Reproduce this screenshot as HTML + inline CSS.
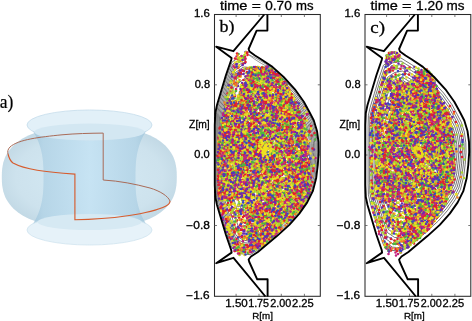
<!DOCTYPE html>
<html><head><meta charset="utf-8"><style>
html,body{margin:0;padding:0;background:#fff;width:472px;height:321px;overflow:hidden}
svg{display:block}
</style></head><body>
<svg width="472" height="321" viewBox="0 0 472 321">
<defs>
<filter id="bl" x="-5%" y="-5%" width="110%" height="110%"><feGaussianBlur stdDeviation="1.2"/></filter><filter id="tb" x="-10%" y="-10%" width="120%" height="120%"><feGaussianBlur stdDeviation="0.35"/></filter><filter id="lb" x="-5%" y="-5%" width="110%" height="110%"><feGaussianBlur stdDeviation="0.4"/></filter><filter id="pb" x="-5%" y="-5%" width="110%" height="110%"><feGaussianBlur stdDeviation="0.45"/></filter>
<radialGradient id="gb" cx="0.5" cy="0.5" r="0.6">
 <stop offset="0" stop-color="#d6ebf5"/><stop offset="0.7" stop-color="#cde2ed"/><stop offset="1" stop-color="#bcd4e1"/>
</radialGradient>
<linearGradient id="gc" x1="0" y1="0" x2="1" y2="0">
 <stop offset="0" stop-color="#9cc2d8"/><stop offset="0.12" stop-color="#b2d3e6"/><stop offset="0.5" stop-color="#c4e2f3"/><stop offset="0.88" stop-color="#b2d3e6"/><stop offset="1" stop-color="#9cc2d8"/>
</linearGradient>
</defs><g filter="url(#pb)"><path d="M176.8,177.0L176.7,181.8L176.4,185.4L175.9,188.6L175.3,191.5L174.4,194.3L173.4,196.9L172.1,199.4L170.7,201.8L169.1,204.1L167.3,206.3L165.3,208.4L163.2,210.3L160.8,212.2L158.3,214.0L155.6,215.7L152.7,217.2L149.7,218.7L146.5,220.0L143.1,221.3L139.6,222.5L135.8,223.5L131.9,224.4L127.8,225.3L123.5,226.0L119.0,226.6L114.2,227.1L109.1,227.5L103.7,227.8L97.6,227.9L89.3,228.0L81.0,227.9L74.9,227.8L69.5,227.5L64.4,227.1L59.6,226.6L55.1,226.0L50.8,225.3L46.7,224.4L42.8,223.5L39.0,222.5L35.5,221.3L32.1,220.0L28.9,218.7L25.9,217.2L23.0,215.7L20.3,214.0L17.8,212.2L15.4,210.3L13.3,208.4L11.3,206.3L9.5,204.1L7.9,201.8L6.5,199.4L5.2,196.9L4.2,194.3L3.3,191.5L2.7,188.6L2.2,185.4L1.9,181.8L1.8,177.0L1.9,172.2L2.2,168.6L2.7,165.4L3.3,162.5L4.2,159.7L5.2,157.1L6.5,154.6L7.9,152.2L9.5,149.9L11.3,147.7L13.3,145.6L15.4,143.7L17.8,141.8L20.3,140.0L23.0,138.3L25.9,136.8L28.9,135.3L32.1,134.0L35.5,132.7L39.0,131.5L42.8,130.5L46.7,129.6L50.8,128.7L55.1,128.0L59.6,127.4L64.4,126.9L69.5,126.5L74.9,126.2L81.0,126.1L89.3,126.0L97.6,126.1L103.7,126.2L109.1,126.5L114.2,126.9L119.0,127.4L123.5,128.0L127.8,128.7L131.9,129.6L135.8,130.5L139.6,131.5L143.1,132.7L146.5,134.0L149.7,135.3L152.7,136.8L155.6,138.3L158.3,140.0L160.8,141.8L163.2,143.7L165.3,145.6L167.3,147.7L169.1,149.9L170.7,152.2L172.1,154.6L173.4,157.1L174.4,159.7L175.3,162.5L175.9,165.4L176.4,168.6L176.7,172.2Z" fill="url(#gb)"/><path d="M28.5,125.0L29.9,126.8L31.1,128.5L32.3,130.2L33.5,132.0L34.5,133.8L35.5,135.5L36.4,137.2L37.2,139.0L38.0,140.8L38.7,142.5L39.3,144.2L39.9,146.0L40.4,147.8L40.9,149.5L41.3,151.2L41.7,153.0L42.1,154.8L42.3,156.5L42.6,158.2L42.8,160.0L43.0,161.8L43.1,163.5L43.2,165.2L43.3,167.0L43.4,168.8L43.4,170.5L43.5,172.2L43.5,174.0L43.5,175.8L43.5,177.5L43.5,179.2L43.5,181.0L43.5,182.8L43.4,184.5L43.4,186.2L43.3,188.0L43.2,189.8L43.1,191.5L43.0,193.2L42.8,195.0L42.6,196.8L42.3,198.5L42.1,200.2L41.7,202.0L41.3,203.8L40.9,205.5L40.4,207.2L39.9,209.0L39.3,210.8L38.7,212.5L38.0,214.2L37.2,216.0L36.4,217.8L35.5,219.5L34.5,221.2L33.5,223.0L32.3,224.8L31.1,226.5L29.9,228.2L28.5,230.0L150.5,230.0L149.1,228.2L147.9,226.5L146.7,224.8L145.5,223.0L144.5,221.2L143.5,219.5L142.6,217.8L141.8,216.0L141.0,214.2L140.3,212.5L139.7,210.8L139.1,209.0L138.6,207.2L138.1,205.5L137.7,203.8L137.3,202.0L136.9,200.2L136.7,198.5L136.4,196.8L136.2,195.0L136.0,193.2L135.9,191.5L135.8,189.8L135.7,188.0L135.6,186.2L135.6,184.5L135.5,182.8L135.5,181.0L135.5,179.2L135.5,177.5L135.5,175.8L135.5,174.0L135.5,172.2L135.6,170.5L135.6,168.8L135.7,167.0L135.8,165.2L135.9,163.5L136.0,161.8L136.2,160.0L136.4,158.2L136.7,156.5L136.9,154.8L137.3,153.0L137.7,151.2L138.1,149.5L138.6,147.8L139.1,146.0L139.7,144.2L140.3,142.5L141.0,140.8L141.8,139.0L142.6,137.2L143.5,135.5L144.5,133.8L145.5,132.0L146.7,130.2L147.9,128.5L149.1,126.8L150.5,125.0Z" fill="url(#gc)" opacity="0.85"/><ellipse cx="89.5" cy="125" rx="62.5" ry="15" fill="#e2f0f8" stroke="#c4dceb" stroke-width="0.8"/><ellipse cx="89.5" cy="132" rx="55" ry="8.5" fill="#d3e7f2"/><ellipse cx="89.5" cy="230" rx="62.5" ry="15" fill="#e6f2f9" stroke="#cfe3ef" stroke-width="0.8"/><ellipse cx="89.5" cy="222" rx="52" ry="8" fill="#d6e9f3"/><path d="M170,201 C168,196 160,191 150,188 C135,184 120,181 103.2,180 L103.2,133.1 C90,133.2 75,133.6 62,134.8 C40,137 18,139.5 10,147 C7.5,149.5 7.5,152 8,154" fill="none" stroke="#a96b58" stroke-width="1.0"/><path d="M8,154 C9,158 10,161 13,163 C25,169.5 45,172 74.9,174.1 L74.9,219.7 C110,219.5 150,214 166,206 C169,204.5 170,203 170,201" fill="none" stroke="#d65c2e" stroke-width="1.15"/></g><g filter="url(#tb)" stroke="#000" stroke-width="0.2"><text transform="translate(-0.30,107.50) scale(0.948,1)" font-family="Liberation Serif" font-size="18.5">a)</text></g><mask id="mkB"><rect x="0" y="0" width="472" height="321" fill="#fff"/><polygon points="247.0,49.0 258.0,55.0 272.0,64.0 284.0,76.0 276.0,72.0 268.0,66.5 259.0,66.0 250.0,67.5 244.0,66.0 244.0,55.0" fill="#000"/></mask><path d="M255.1,98.3L258.1,100.3L261.4,102.3L267.7,106.5L273.9,112.1L280.1,118.9L285.0,125.7L288.1,131.3L290.5,136.0L292.2,141.8L293.1,147.8L293.2,153.3L292.7,160.5L291.8,167.7L289.9,174.9L286.9,181.1L282.5,187.2L277.0,193.4L270.2,199.6L262.8,205.8L259.7,208.3L255.4,211.1L249.9,210.6L245.1,207.2L242.2,199.0L239.7,190.8L237.2,182.5L236.3,178.1L236.2,171.5L236.2,138.5L236.3,131.9L237.2,127.5L239.7,119.2L242.2,111.0L245.1,102.8L249.9,99.4ZM254.2,91.1L257.7,93.3L261.4,95.6L268.4,100.4L275.4,106.6L282.4,114.3L287.9,122.0L291.4,128.3L294.1,133.6L296.1,140.1L297.0,146.9L297.2,153.1L296.6,161.2L295.6,169.3L293.5,177.4L290.0,184.4L285.1,191.3L278.9,198.3L271.2,205.3L262.9,212.2L259.5,215.1L254.6,218.2L248.4,217.6L242.9,213.9L239.7,204.6L236.9,195.3L234.1,186.0L233.0,181.0L232.9,173.6L232.9,136.4L233.0,129.0L234.1,124.0L236.9,114.7L239.7,105.4L242.9,96.1L248.4,92.4ZM253.4,83.9L257.2,86.3L261.3,88.9L269.2,94.2L276.9,101.2L284.7,109.7L290.8,118.2L294.7,125.3L297.7,131.2L299.9,138.4L301.0,146.0L301.1,152.9L300.5,161.9L299.4,170.9L297.1,180.0L293.2,187.7L287.7,195.4L280.8,203.2L272.3,211.0L263.0,218.7L259.2,221.9L253.7,225.4L246.8,224.7L240.7,220.6L237.2,210.2L234.1,199.8L230.9,189.5L229.8,184.0L229.6,175.7L229.6,134.3L229.8,126.0L230.9,120.5L234.1,110.2L237.2,99.8L240.7,89.5L246.8,85.3ZM252.5,76.7L256.7,79.4L261.2,82.2L269.9,88.0L278.4,95.7L287.0,105.1L293.8,114.5L298.0,122.3L301.4,128.8L303.8,136.8L304.9,145.1L305.1,152.7L304.4,162.6L303.2,172.5L300.6,182.5L296.4,191.0L290.3,199.5L282.7,208.1L273.3,216.6L263.1,225.1L258.9,228.7L252.9,232.5L245.3,231.8L238.6,227.2L234.6,215.8L231.2,204.4L227.8,193.0L226.5,186.9L226.3,177.8L226.3,132.2L226.5,123.1L227.8,117.0L231.2,105.6L234.6,94.2L238.6,82.8L245.3,78.2ZM251.9,71.6L256.3,74.4L261.2,77.4L270.4,83.6L279.5,91.8L288.6,101.8L295.9,111.8L300.4,120.2L304.0,127.1L306.6,135.6L307.8,144.5L307.9,152.6L307.2,163.1L305.9,173.6L303.1,184.3L298.6,193.4L292.2,202.5L284.1,211.6L274.1,220.7L263.2,229.8L258.7,233.6L252.3,237.6L244.2,236.8L237.1,231.9L232.8,219.8L229.2,207.7L225.6,195.5L224.2,189.0L223.9,179.3L223.9,130.7L224.2,121.0L225.6,114.5L229.2,102.3L232.8,90.2L237.1,78.0L244.2,73.2ZM251.4,68.0L256.1,70.9L261.2,74.0L270.8,80.6L280.3,89.1L289.8,99.5L297.3,110.0L302.1,118.7L305.8,125.8L308.5,134.7L309.7,144.0L309.9,152.5L309.2,163.4L307.8,174.4L304.9,185.6L300.2,195.1L293.5,204.5L285.1,214.1L274.6,223.5L263.3,233.0L258.5,237.0L251.9,241.2L243.4,240.3L236.0,235.3L231.6,222.6L227.8,209.9L224.0,197.2L222.5,190.5L222.3,180.3L222.3,129.7L222.5,119.5L224.0,112.8L227.8,100.1L231.6,87.4L236.0,74.7L243.4,69.7ZM251.2,65.7L255.9,68.7L261.1,71.9L271.0,78.6L280.7,87.4L290.5,98.0L298.2,108.8L303.1,117.7L306.9,125.1L309.7,134.2L311.0,143.7L311.2,152.4L310.4,163.7L309.0,174.9L306.0,186.4L301.2,196.1L294.3,205.8L285.7,215.6L274.9,225.3L263.3,235.0L258.4,239.1L251.6,243.4L242.9,242.6L235.3,237.4L230.8,224.4L226.9,211.4L223.0,198.3L221.5,191.4L221.3,181.0L221.3,129.0L221.5,118.6L223.0,111.7L226.9,98.6L230.8,85.6L235.3,72.6L242.9,67.4ZM250.9,63.4L255.8,66.5L261.1,69.8L271.2,76.7L281.2,85.7L291.2,96.6L299.2,107.6L304.1,116.8L308.1,124.3L310.9,133.7L312.2,143.4L312.4,152.3L311.6,163.9L310.2,175.4L307.2,187.2L302.2,197.1L295.2,207.1L286.3,217.1L275.2,227.1L263.3,237.1L258.4,241.2L251.3,245.7L242.4,244.8L234.6,239.5L230.0,226.1L226.0,212.8L222.0,199.4L220.5,192.3L220.2,181.7L220.2,128.3L220.5,117.7L222.0,110.5L226.0,97.2L230.0,83.9L234.6,70.5L242.4,65.2ZM250.6,61.2L255.6,64.4L261.1,67.7L271.5,74.7L281.7,83.9L292.0,95.1L300.1,106.4L305.2,115.8L309.2,123.6L312.1,133.1L313.5,143.2L313.7,152.3L312.8,164.1L311.4,176.0L308.3,188.0L303.2,198.2L296.0,208.4L286.9,218.7L275.6,228.9L263.4,239.1L258.3,243.4L251.1,247.9L242.0,247.0L233.9,241.5L229.2,227.9L225.1,214.2L221.0,200.6L219.5,193.3L219.2,182.3L219.2,127.7L219.5,116.7L221.0,109.4L225.1,95.8L229.2,82.1L233.9,68.5L242.0,63.0ZM250.3,58.9L255.5,62.2L261.1,65.6L271.7,72.8L282.2,82.2L292.7,93.7L301.0,105.3L306.2,114.9L310.3,122.8L313.3,132.6L314.7,142.9L314.9,152.2L314.1,164.3L312.6,176.5L309.4,188.8L304.2,199.2L296.8,209.7L287.5,220.2L275.9,230.7L263.4,241.1L258.2,245.5L250.8,250.2L241.5,249.2L233.3,243.6L228.4,229.6L224.2,215.6L220.0,201.7L218.4,194.2L218.1,183.0L218.1,127.0L218.4,115.8L220.0,108.3L224.2,94.4L228.4,80.4L233.3,66.4L241.5,60.8ZM250.1,56.6L255.3,60.0L261.0,63.5L271.9,70.9L282.6,80.5L293.4,92.3L301.9,104.1L307.3,113.9L311.5,122.1L314.5,132.1L316.0,142.6L316.1,152.1L315.3,164.6L313.8,177.0L310.5,189.6L305.2,200.3L297.6,211.0L288.1,221.8L276.2,232.5L263.4,243.1L258.1,247.6L250.5,252.4L241.0,251.5L232.6,245.7L227.6,231.4L223.3,217.1L219.0,202.8L217.4,195.1L217.1,183.7L217.1,126.3L217.4,114.9L219.0,107.2L223.3,92.9L227.6,78.6L232.6,64.3L241.0,58.5ZM249.8,54.4L255.2,57.8L261.0,61.4L272.2,68.9L283.1,78.8L294.1,90.8L302.8,102.9L308.3,113.0L312.6,121.3L315.7,131.6L317.2,142.3L317.4,152.1L316.5,164.8L315.0,177.5L311.6,190.4L306.2,201.3L298.4,212.3L288.7,223.3L276.6,234.2L263.5,245.2L258.0,249.8L250.3,254.7L240.5,253.7L231.9,247.8L226.8,233.2L222.4,218.5L218.0,203.8L216.4,196.0L216.1,184.3L216.1,125.7L216.4,114.0L218.0,106.2L222.4,91.5L226.8,76.8L231.9,62.2L240.5,56.3Z" fill="none" stroke="#1a1a1a" stroke-width="0.6" mask="url(#mkB)"/><path d="M248.5,54.5 C256,58 266,63.5 280,74 M248.5,54.5 C255,60 262,64 272,69" fill="none" stroke="#333" stroke-width="0.5"/><g fill="none" stroke-width="5.2" stroke-linecap="round" transform="scale(0.5)" filter="url(#bl)"><path d="M479 123h0M470 135h0M476 136h0M517 142h0M549 145h0M522 147h0M503 147h0M510 149h0M500 152h0M516 155h0M549 155h0M514 158h0M516 157h0M507 159h0M539 162h0M534 164h0M560 168h0M505 170h0M559 170h0M550 173h0M575 175h0M506 179h0M516 181h0M567 183h0M495 186h0M532 186h0M455 187h0M559 191h0M572 191h0M550 193h0M548 196h0M567 196h0M571 196h0M564 199h0M457 199h0M533 201h0M583 200h0M464 204h0M478 204h0M575 204h0M588 204h0M551 205h0M518 207h0M528 209h0M536 209h0M562 208h0M488 210h0M515 210h0M467 212h0M500 211h0M477 213h0M451 216h0M453 216h0M494 217h0M541 215h0M542 216h0M505 219h0M524 219h0M565 221h0M567 220h0M595 222h0M481 224h0M500 225h0M535 224h0M483 227h0M518 227h0M471 228h0M484 228h0M556 228h0M516 230h0M570 230h0M590 229h0M468 233h0M598 234h0M480 236h0M554 235h0M475 239h0M567 238h0M577 238h0M444 239h0M457 240h0M456 243h0M509 243h0M571 243h0M580 243h0M555 247h0M571 247h0M585 246h0M489 247h0M492 247h0M532 248h0M559 248h0M591 248h0M537 252h0M482 255h0M536 254h0M569 253h0M596 254h0M602 256h0M607 256h0M525 257h0M592 257h0M605 258h0M460 260h0M485 260h0M455 265h0M462 264h0M480 265h0M590 264h0M548 265h0M575 267h0M465 268h0M470 268h0M485 268h0M501 269h0M542 269h0M592 270h0M604 270h0M493 273h0M457 274h0M502 275h0M508 275h0M539 274h0M544 273h0M603 274h0M611 274h0M448 276h0M452 275h0M484 276h0M502 278h0M455 281h0M613 279h0M517 282h0M552 281h0M506 284h0M559 283h0M570 284h0M574 285h0M598 284h0M467 287h0M471 286h0M511 287h0M543 285h0M553 285h0M561 287h0M590 292h0M487 293h0M612 295h0M603 296h0M436 298h0M483 297h0M576 297h0M463 299h0M579 299h0M496 303h0M436 304h0M504 304h0M531 303h0M609 304h0M612 304h0M542 306h0M440 308h0M476 307h0M445 309h0M461 309h0M543 311h0M456 313h0M573 311h0M486 313h0M536 315h0M540 315h0M454 318h0M481 318h0M502 317h0M533 318h0M540 318h0M542 318h0M544 319h0M580 317h0M616 318h0M466 321h0M493 320h0M593 320h0M600 321h0M473 323h0M522 324h0M550 323h0M571 325h0M617 326h0M508 328h0M557 330h0M492 333h0M528 333h0M575 333h0M602 333h0M616 333h0M584 334h0M616 334h0M530 335h0M584 336h0M478 337h0M546 339h0M551 338h0M503 341h0M576 340h0M596 341h0M494 341h0M604 342h0M451 344h0M466 344h0M507 344h0M615 345h0M470 346h0M588 345h0M607 346h0M609 346h0M444 349h0M532 348h0M516 350h0M476 352h0M476 352h0M541 351h0M589 352h0M560 354h0M522 356h0M540 356h0M485 359h0M560 357h0M564 357h0M535 360h0M536 360h0M542 359h0M504 363h0M610 362h0M482 363h0M625 364h0M477 365h0M574 368h0M452 369h0M465 371h0M468 370h0M456 372h0M457 373h0M554 372h0M560 372h0M599 372h0M556 374h0M451 376h0M461 377h0M613 377h0M576 378h0M496 380h0M506 379h0M532 380h0M602 380h0M442 381h0M492 382h0M508 381h0M446 384h0M450 385h0M556 383h0M598 385h0M602 385h0M537 385h0M580 387h0M456 388h0M539 388h0M577 388h0M449 391h0M497 390h0M615 389h0M441 391h0M474 393h0M489 394h0M554 395h0M597 396h0M607 397h0M577 397h0M595 398h0M598 398h0M441 400h0M543 399h0M549 402h0M579 402h0M522 404h0M580 405h0M520 406h0M491 408h0M495 408h0M527 407h0M454 410h0M596 416h0M597 417h0M561 420h0M595 423h0M477 424h0M468 426h0M486 434h0M544 436h0M526 438h0M566 438h0M553 440h0M514 445h0M524 445h0M513 448h0M509 450h0M510 452h0M533 452h0M544 451h0M489 455h0M507 454h0M513 453h0M526 454h0M458 456h0M562 456h0M482 460h0M459 461h0M548 464h0M507 467h0M465 470h0M522 471h0M525 470h0M537 471h0M547 471h0M521 480h0M512 481h0M531 483h0M507 490h0M500 491h0M516 492h0M495 493h0M511 496h0M487 499h0M490 504h0M503 504h0" stroke="#e0202e"/><path d="M543 138h0M507 158h0M526 159h0M528 158h0M562 158h0M552 165h0M535 168h0M539 176h0M500 179h0M503 179h0M461 182h0M484 182h0M568 183h0M476 194h0M497 194h0M577 195h0M466 196h0M467 202h0M569 202h0M557 205h0M488 207h0M502 208h0M473 211h0M584 209h0M470 213h0M559 212h0M460 217h0M487 215h0M500 216h0M577 217h0M462 218h0M550 218h0M521 220h0M547 221h0M573 220h0M478 222h0M557 221h0M522 223h0M535 225h0M564 226h0M474 232h0M516 232h0M519 233h0M525 234h0M525 238h0M606 240h0M481 244h0M583 247h0M603 246h0M608 245h0M526 251h0M511 254h0M529 253h0M497 275h0M567 275h0M611 278h0M510 280h0M615 282h0M443 287h0M516 286h0M615 289h0M522 291h0M484 295h0M471 298h0M446 300h0M582 299h0M447 303h0M555 304h0M570 305h0M513 305h0M466 312h0M591 312h0M509 314h0M496 316h0M570 316h0M499 323h0M525 321h0M577 321h0M547 324h0M548 325h0M440 325h0M498 328h0M532 333h0M496 334h0M551 335h0M508 336h0M579 337h0M481 341h0M525 342h0M533 341h0M566 342h0M462 345h0M556 348h0M614 349h0M518 350h0M494 352h0M605 357h0M493 359h0M557 362h0M602 362h0M441 365h0M470 363h0M559 365h0M590 365h0M612 367h0M441 368h0M509 368h0M573 369h0M456 369h0M538 372h0M544 373h0M610 372h0M451 373h0M506 375h0M448 375h0M484 377h0M580 378h0M613 380h0M619 382h0M451 384h0M544 383h0M552 383h0M563 384h0M595 384h0M610 390h0M509 394h0M597 394h0M614 396h0M484 397h0M608 402h0M539 405h0M591 405h0M531 406h0M578 407h0M494 410h0M597 411h0M502 416h0M571 429h0M478 433h0M500 436h0M578 438h0M567 442h0M485 445h0M574 444h0M551 449h0M560 448h0M499 450h0M545 450h0M520 454h0M522 453h0M540 454h0M520 456h0M472 461h0M509 466h0M550 469h0M514 483h0M485 488h0M508 488h0M503 490h0M471 495h0" stroke="#f08020"/><path d="M487 113h0M478 131h0M533 134h0M489 137h0M499 135h0M532 135h0M519 139h0M529 137h0M470 140h0M493 146h0M509 147h0M525 147h0M474 151h0M526 150h0M539 150h0M541 149h0M476 153h0M497 152h0M514 156h0M504 157h0M556 157h0M512 161h0M505 163h0M467 165h0M496 167h0M496 168h0M518 169h0M535 167h0M471 170h0M472 171h0M501 170h0M572 170h0M540 172h0M564 172h0M555 177h0M462 178h0M486 178h0M542 179h0M565 179h0M461 179h0M499 181h0M540 183h0M573 186h0M522 187h0M564 188h0M500 191h0M584 190h0M560 192h0M575 191h0M456 194h0M464 195h0M488 194h0M513 193h0M539 194h0M547 193h0M493 196h0M538 196h0M492 198h0M533 198h0M563 198h0M488 200h0M519 199h0M469 202h0M508 203h0M559 204h0M477 209h0M453 211h0M471 212h0M554 212h0M464 215h0M542 215h0M598 215h0M492 215h0M494 221h0M502 222h0M542 222h0M545 222h0M495 226h0M502 227h0M546 226h0M455 228h0M463 227h0M479 230h0M526 230h0M527 230h0M538 231h0M578 232h0M503 234h0M533 234h0M497 235h0M537 237h0M585 236h0M494 238h0M564 237h0M591 239h0M547 241h0M555 239h0M598 240h0M537 244h0M507 249h0M476 253h0M577 252h0M579 252h0M473 254h0M534 254h0M582 255h0M476 255h0M496 256h0M587 256h0M597 256h0M573 259h0M450 262h0M476 262h0M502 262h0M534 262h0M447 264h0M475 263h0M546 264h0M610 265h0M441 266h0M453 267h0M456 266h0M468 265h0M524 267h0M506 269h0M520 270h0M591 269h0M459 272h0M553 271h0M559 273h0M578 272h0M490 273h0M516 274h0M530 275h0M543 273h0M518 277h0M475 279h0M494 280h0M517 281h0M437 283h0M466 285h0M570 286h0M497 289h0M520 290h0M470 292h0M478 292h0M498 291h0M500 293h0M565 293h0M568 293h0M588 293h0M594 292h0M605 291h0M459 293h0M479 294h0M544 293h0M572 295h0M598 294h0M456 297h0M522 301h0M582 300h0M469 303h0M596 305h0M600 303h0M454 306h0M563 307h0M494 307h0M525 309h0M500 311h0M506 311h0M536 311h0M594 310h0M448 311h0M465 312h0M525 312h0M444 316h0M452 315h0M501 316h0M455 319h0M487 318h0M516 319h0M523 318h0M613 318h0M476 322h0M445 324h0M606 323h0M447 326h0M495 326h0M594 327h0M436 329h0M471 329h0M491 328h0M579 330h0M510 333h0M607 332h0M616 333h0M504 335h0M548 334h0M581 335h0M604 334h0M469 339h0M552 338h0M571 339h0M507 341h0M513 341h0M568 342h0M616 342h0M544 344h0M605 345h0M448 347h0M539 345h0M479 348h0M535 347h0M564 348h0M588 349h0M612 348h0M514 349h0M523 350h0M535 350h0M437 353h0M444 352h0M544 353h0M604 353h0M550 356h0M612 356h0M471 361h0M583 361h0M570 366h0M498 369h0M519 368h0M600 368h0M606 372h0M546 375h0M479 376h0M503 379h0M511 378h0M528 379h0M545 378h0M547 378h0M549 378h0M572 381h0M605 381h0M441 382h0M457 382h0M589 383h0M468 383h0M483 386h0M552 386h0M569 387h0M596 388h0M559 390h0M495 391h0M609 393h0M461 397h0M479 397h0M519 396h0M536 395h0M550 395h0M497 399h0M511 399h0M440 399h0M555 400h0M484 401h0M517 403h0M568 404h0M548 406h0M549 406h0M592 406h0M553 408h0M501 411h0M580 410h0M586 409h0M555 416h0M571 416h0M502 419h0M548 419h0M485 422h0M528 422h0M499 423h0M568 425h0M596 424h0M487 426h0M481 427h0M592 427h0M524 429h0M514 431h0M527 433h0M543 432h0M565 432h0M493 434h0M551 435h0M573 439h0M528 442h0M496 444h0M525 445h0M509 447h0M549 446h0M468 451h0M522 453h0M456 457h0M458 459h0M457 461h0M536 463h0M540 462h0M523 471h0M536 474h0M464 476h0M514 476h0M514 475h0M540 477h0M502 478h0M523 477h0M487 493h0M485 506h0M489 510h0" stroke="#eadf22"/><path d="M515 138h0M530 141h0M509 141h0M520 147h0M481 148h0M500 148h0M543 147h0M540 151h0M524 154h0M514 163h0M545 166h0M510 169h0M548 169h0M548 173h0M487 175h0M555 174h0M562 178h0M534 180h0M536 180h0M560 186h0M581 186h0M500 190h0M487 192h0M583 194h0M503 197h0M520 196h0M542 197h0M583 196h0M462 199h0M482 199h0M495 202h0M558 202h0M485 205h0M477 208h0M480 209h0M546 207h0M546 208h0M577 210h0M570 212h0M503 213h0M570 214h0M576 214h0M580 214h0M594 213h0M512 216h0M543 215h0M542 218h0M583 220h0M476 221h0M503 222h0M450 223h0M455 224h0M459 223h0M477 227h0M594 226h0M480 231h0M531 233h0M495 234h0M540 235h0M559 236h0M564 235h0M594 236h0M511 239h0M479 241h0M503 243h0M458 244h0M563 244h0M489 246h0M557 246h0M534 249h0M446 249h0M452 249h0M502 249h0M579 251h0M485 254h0M492 255h0M485 259h0M549 258h0M490 260h0M549 260h0M611 260h0M607 264h0M482 266h0M498 266h0M515 266h0M572 266h0M591 265h0M472 270h0M591 270h0M466 274h0M477 274h0M537 275h0M600 275h0M568 279h0M558 282h0M584 283h0M559 284h0M446 285h0M461 285h0M529 285h0M579 286h0M605 287h0M490 288h0M517 288h0M554 288h0M508 290h0M457 292h0M471 292h0M532 294h0M577 293h0M492 296h0M436 298h0M552 298h0M565 297h0M485 302h0M517 302h0M535 304h0M545 305h0M616 305h0M602 306h0M466 307h0M540 308h0M528 311h0M478 313h0M512 311h0M525 311h0M456 314h0M550 314h0M508 319h0M605 318h0M460 324h0M508 325h0M569 330h0M555 333h0M475 334h0M487 334h0M506 334h0M539 334h0M513 336h0M571 336h0M611 337h0M573 338h0M614 338h0M599 340h0M577 344h0M614 347h0M530 353h0M579 351h0M457 355h0M474 354h0M533 355h0M520 357h0M528 357h0M548 357h0M609 356h0M458 359h0M537 360h0M605 360h0M600 361h0M549 364h0M616 366h0M448 367h0M569 367h0M585 369h0M449 370h0M566 372h0M598 372h0M605 371h0M444 374h0M495 376h0M587 376h0M513 384h0M603 384h0M456 387h0M482 386h0M553 387h0M554 386h0M562 387h0M589 386h0M605 386h0M506 389h0M522 387h0M610 388h0M461 390h0M597 393h0M443 396h0M452 396h0M539 397h0M541 401h0M591 402h0M478 404h0M568 403h0M536 407h0M574 409h0M553 409h0M532 414h0M537 416h0M598 417h0M530 418h0M563 418h0M497 420h0M544 421h0M573 422h0M492 424h0M526 424h0M557 426h0M589 426h0M469 428h0M469 432h0M521 432h0M540 432h0M512 433h0M528 435h0M478 435h0M455 439h0M516 438h0M528 439h0M528 440h0M547 439h0M499 443h0M467 457h0M476 459h0M514 460h0M505 461h0M535 461h0M551 462h0M504 464h0M534 466h0M541 466h0M536 467h0M477 475h0M514 486h0M483 489h0M501 490h0M467 492h0M470 498h0M506 498h0M504 499h0M474 502h0" stroke="#a8d432"/><path d="M517 139h0M509 141h0M549 164h0M572 173h0M531 181h0M480 184h0M540 183h0M479 189h0M569 195h0M539 202h0M571 205h0M464 208h0M520 210h0M468 211h0M559 212h0M567 212h0M449 222h0M575 222h0M594 222h0M591 223h0M470 226h0M542 225h0M488 229h0M528 228h0M562 233h0M576 233h0M464 238h0M545 237h0M586 238h0M597 240h0M587 243h0M565 245h0M605 246h0M501 256h0M593 259h0M545 268h0M631 270h0M536 271h0M595 273h0M539 275h0M603 276h0M459 279h0M476 278h0M544 279h0M475 285h0M613 284h0M535 298h0M478 306h0M492 305h0M483 309h0M483 315h0M544 315h0M450 317h0M440 319h0M530 321h0M525 325h0M512 328h0M570 328h0M506 331h0M554 330h0M545 331h0M568 331h0M467 333h0M516 334h0M579 337h0M506 340h0M475 344h0M581 346h0M509 348h0M542 348h0M604 348h0M596 351h0M605 351h0M473 353h0M548 353h0M592 354h0M494 357h0M472 366h0M600 368h0M453 370h0M609 374h0M609 377h0M461 380h0M520 380h0M594 381h0M470 381h0M542 383h0M444 384h0M585 383h0M453 385h0M478 390h0M579 391h0M520 396h0M529 396h0M485 399h0M602 398h0M571 400h0M537 403h0M592 404h0M583 405h0M544 413h0M467 416h0M492 430h0M530 433h0M496 434h0M545 441h0M572 442h0M512 447h0M529 445h0M500 449h0M550 447h0M515 464h0M484 473h0M494 473h0M472 482h0M513 485h0M500 489h0M477 496h0" stroke="#4cb440"/><path d="M500 150h0M512 153h0M527 154h0M525 160h0M563 170h0M489 177h0M500 189h0M562 199h0M579 198h0M523 200h0M498 207h0M566 207h0M474 211h0M510 211h0M546 217h0M515 229h0M578 227h0M602 232h0M496 238h0M499 238h0M479 241h0M474 245h0M482 246h0M531 246h0M578 248h0M529 249h0M456 257h0M550 260h0M575 262h0M602 263h0M568 264h0M507 271h0M542 270h0M534 275h0M570 279h0M514 282h0M528 286h0M456 287h0M598 289h0M501 293h0M535 294h0M607 299h0M539 304h0M588 303h0M595 305h0M444 308h0M617 309h0M484 310h0M509 312h0M511 311h0M563 311h0M456 319h0M491 320h0M533 323h0M456 324h0M464 325h0M500 324h0M514 324h0M445 326h0M456 326h0M497 325h0M583 326h0M529 328h0M611 328h0M452 330h0M468 331h0M477 334h0M596 339h0M474 342h0M455 349h0M517 349h0M592 350h0M470 352h0M579 352h0M599 355h0M528 363h0M575 363h0M507 366h0M594 371h0M601 377h0M573 380h0M529 382h0M549 384h0M530 387h0M452 390h0M553 398h0M486 401h0M548 405h0M531 409h0M595 414h0M515 420h0M545 423h0M559 435h0M455 436h0M523 440h0M465 451h0M496 450h0M486 461h0M456 471h0M465 473h0M504 479h0M509 492h0M518 493h0M507 501h0" stroke="#3a44c0"/><path d="M488 117h0M475 135h0M510 135h0M520 136h0M527 136h0M531 142h0M473 148h0M493 153h0M498 154h0M502 158h0M514 161h0M525 162h0M533 163h0M501 166h0M518 168h0M573 169h0M509 173h0M505 175h0M461 184h0M519 184h0M510 186h0M542 188h0M570 189h0M531 190h0M490 195h0M496 196h0M526 197h0M581 195h0M482 198h0M522 197h0M529 198h0M540 201h0M551 201h0M565 200h0M493 203h0M534 206h0M572 206h0M478 209h0M530 209h0M539 207h0M479 213h0M554 212h0M570 213h0M525 214h0M505 216h0M486 217h0M581 223h0M595 222h0M510 224h0M512 225h0M528 227h0M597 227h0M482 230h0M592 230h0M602 240h0M492 244h0M448 246h0M501 246h0M518 245h0M521 248h0M606 248h0M454 249h0M454 250h0M455 250h0M544 253h0M452 254h0M471 253h0M561 254h0M515 258h0M485 264h0M489 266h0M533 267h0M545 267h0M567 266h0M468 269h0M553 268h0M577 267h0M517 271h0M605 272h0M610 271h0M481 274h0M507 285h0M574 288h0M509 291h0M540 290h0M568 290h0M615 291h0M486 293h0M525 293h0M617 293h0M483 299h0M628 299h0M471 303h0M554 309h0M556 308h0M539 311h0M613 312h0M483 314h0M488 314h0M563 313h0M528 316h0M521 318h0M592 319h0M436 321h0M453 320h0M590 322h0M513 325h0M606 324h0M437 326h0M482 325h0M537 325h0M470 332h0M540 332h0M548 332h0M533 334h0M561 333h0M578 333h0M610 333h0M526 337h0M457 338h0M544 339h0M491 341h0M560 342h0M615 344h0M474 348h0M503 347h0M511 352h0M540 352h0M601 352h0M471 356h0M601 355h0M474 357h0M494 358h0M617 358h0M436 361h0M519 363h0M553 362h0M607 363h0M537 368h0M511 370h0M544 374h0M483 376h0M565 376h0M587 375h0M550 378h0M587 378h0M445 379h0M461 381h0M470 381h0M503 380h0M507 380h0M598 383h0M522 386h0M589 386h0M442 393h0M546 395h0M491 401h0M537 403h0M531 405h0M541 407h0M594 406h0M602 405h0M442 407h0M529 410h0M542 415h0M581 413h0M595 414h0M462 417h0M581 415h0M525 418h0M552 421h0M582 422h0M582 424h0M586 426h0M567 432h0M548 434h0M578 436h0M561 442h0M452 446h0M535 447h0M513 460h0M509 463h0M524 467h0M533 471h0M462 478h0M482 489h0M467 496h0M500 497h0" stroke="#6a2cb0"/><path d="M492 138h0M535 137h0M484 140h0M481 144h0M512 145h0M525 147h0M530 152h0M473 154h0M529 162h0M525 170h0M488 171h0M538 173h0M510 173h0M465 184h0M581 194h0M480 196h0M483 196h0M457 199h0M530 197h0M520 200h0M572 204h0M504 208h0M498 211h0M550 210h0M552 221h0M504 225h0M593 224h0M465 231h0M606 232h0M579 237h0M477 238h0M529 239h0M579 242h0M588 244h0M479 246h0M597 251h0M485 262h0M521 263h0M445 268h0M450 268h0M549 270h0M474 279h0M500 280h0M467 285h0M500 286h0M574 289h0M563 289h0M564 292h0M597 293h0M473 294h0M536 295h0M541 296h0M478 298h0M581 303h0M597 303h0M451 309h0M516 309h0M522 309h0M492 312h0M556 313h0M547 320h0M568 319h0M518 325h0M541 324h0M534 326h0M516 329h0M568 327h0M528 330h0M522 333h0M584 336h0M486 337h0M511 339h0M553 340h0M559 339h0M615 343h0M440 345h0M482 351h0M596 350h0M515 353h0M504 355h0M531 355h0M538 356h0M498 360h0M481 361h0M592 365h0M501 365h0M568 367h0M449 371h0M493 374h0M558 375h0M579 375h0M616 375h0M522 377h0M461 377h0M560 379h0M571 381h0M517 385h0M578 383h0M485 386h0M534 389h0M469 390h0M475 389h0M490 389h0M544 393h0M608 392h0M463 396h0M583 396h0M533 399h0M516 399h0M505 410h0M508 410h0M537 412h0M469 416h0M594 416h0M505 420h0M529 421h0M479 422h0M552 424h0M502 426h0M573 429h0M444 430h0M461 433h0M544 432h0M565 437h0M517 440h0M481 449h0M517 456h0M534 468h0M527 474h0M499 479h0M469 502h0" stroke="#c22080"/><path d="M490 113h0M469 131h0M533 141h0M510 142h0M494 144h0M531 144h0M540 144h0M503 146h0M504 146h0M530 148h0M495 155h0M513 156h0M516 155h0M513 157h0M551 157h0M526 162h0M555 163h0M558 168h0M505 169h0M496 172h0M507 172h0M486 181h0M525 180h0M570 181h0M492 182h0M514 184h0M552 186h0M531 188h0M470 192h0M491 191h0M556 193h0M583 192h0M495 193h0M561 194h0M516 196h0M537 197h0M520 198h0M531 199h0M552 198h0M560 198h0M561 197h0M489 203h0M468 203h0M486 203h0M453 206h0M462 207h0M566 206h0M451 209h0M488 208h0M499 208h0M582 207h0M545 209h0M552 210h0M571 211h0M498 212h0M518 211h0M526 212h0M582 212h0M586 215h0M469 216h0M519 217h0M476 218h0M588 220h0M533 222h0M585 225h0M569 226h0M499 229h0M467 230h0M473 231h0M474 229h0M503 232h0M558 232h0M580 232h0M496 234h0M547 235h0M544 237h0M491 238h0M510 238h0M550 238h0M468 241h0M480 240h0M539 241h0M583 241h0M467 243h0M509 245h0M463 247h0M559 246h0M486 248h0M512 248h0M573 248h0M514 253h0M622 252h0M512 254h0M552 254h0M570 253h0M485 257h0M501 258h0M530 259h0M504 262h0M506 262h0M619 262h0M572 264h0M477 265h0M582 269h0M457 271h0M584 269h0M499 271h0M517 271h0M542 271h0M564 273h0M566 273h0M465 273h0M473 274h0M507 273h0M560 275h0M568 273h0M437 275h0M582 276h0M547 277h0M453 279h0M459 279h0M581 280h0M437 281h0M470 281h0M471 282h0M440 283h0M449 284h0M447 289h0M555 290h0M509 294h0M592 294h0M468 297h0M487 297h0M527 296h0M575 296h0M508 298h0M530 298h0M547 300h0M451 303h0M451 301h0M478 301h0M523 301h0M558 301h0M560 302h0M560 303h0M576 302h0M582 302h0M603 303h0M605 302h0M473 304h0M478 304h0M584 305h0M456 307h0M488 306h0M490 306h0M604 307h0M463 307h0M467 308h0M474 308h0M500 308h0M569 310h0M612 309h0M576 312h0M444 313h0M469 313h0M475 315h0M485 314h0M527 314h0M505 317h0M461 317h0M492 319h0M547 318h0M479 319h0M527 319h0M596 319h0M473 321h0M487 321h0M469 325h0M494 324h0M533 323h0M590 325h0M470 326h0M439 328h0M534 328h0M474 329h0M519 330h0M533 330h0M575 331h0M582 332h0M608 331h0M519 333h0M592 334h0M481 336h0M601 335h0M446 339h0M488 337h0M539 338h0M594 338h0M596 337h0M609 338h0M583 342h0M626 342h0M572 343h0M560 346h0M557 348h0M572 348h0M574 349h0M446 349h0M564 350h0M601 349h0M479 351h0M501 351h0M513 351h0M548 354h0M506 357h0M530 356h0M608 355h0M614 357h0M464 359h0M465 360h0M508 360h0M445 364h0M511 365h0M596 363h0M456 365h0M506 365h0M516 365h0M555 365h0M451 368h0M523 368h0M482 369h0M491 370h0M508 370h0M612 370h0M444 373h0M449 372h0M456 372h0M453 373h0M496 374h0M592 374h0M447 376h0M461 378h0M592 377h0M602 378h0M604 378h0M595 381h0M471 382h0M507 381h0M606 383h0M453 383h0M488 384h0M489 384h0M604 383h0M464 386h0M480 385h0M530 386h0M531 387h0M487 387h0M582 388h0M601 388h0M504 389h0M572 389h0M450 393h0M470 393h0M608 393h0M515 394h0M585 393h0M607 395h0M441 396h0M458 396h0M484 395h0M546 396h0M606 396h0M606 396h0M442 397h0M543 399h0M581 398h0M516 400h0M565 401h0M575 403h0M534 405h0M541 406h0M521 409h0M445 410h0M568 413h0M592 413h0M563 415h0M595 417h0M599 417h0M484 419h0M583 421h0M539 421h0M546 421h0M450 424h0M531 424h0M558 423h0M588 425h0M446 426h0M521 426h0M568 427h0M488 432h0M511 431h0M542 435h0M549 435h0M524 439h0M559 438h0M516 439h0M554 440h0M506 442h0M575 446h0M480 451h0M532 450h0M554 451h0M558 451h0M453 455h0M520 456h0M473 457h0M517 459h0M553 461h0M513 466h0M543 466h0M500 471h0M512 472h0M511 473h0M533 475h0M515 479h0M538 479h0M538 479h0M527 486h0M476 493h0M500 494h0M506 497h0M515 496h0M479 506h0" stroke="#e0202e"/><path d="M479 115h0M477 135h0M499 138h0M502 144h0M519 149h0M512 153h0M479 160h0M505 162h0M503 171h0M487 174h0M505 179h0M533 180h0M565 183h0M514 187h0M562 190h0M565 189h0M566 192h0M496 194h0M544 197h0M549 195h0M495 202h0M449 205h0M597 206h0M524 213h0M556 213h0M550 215h0M561 220h0M593 220h0M503 225h0M479 225h0M475 230h0M487 230h0M528 232h0M561 231h0M472 241h0M444 245h0M584 247h0M470 251h0M500 252h0M519 252h0M594 253h0M544 258h0M491 259h0M468 261h0M534 262h0M545 264h0M529 268h0M566 267h0M544 269h0M489 274h0M573 274h0M567 277h0M460 281h0M463 293h0M513 299h0M444 301h0M456 301h0M474 301h0M616 305h0M503 309h0M570 311h0M611 312h0M564 317h0M482 321h0M473 322h0M527 322h0M576 321h0M471 325h0M600 328h0M453 330h0M498 330h0M507 330h0M508 331h0M591 331h0M597 332h0M454 335h0M475 336h0M566 335h0M556 339h0M486 341h0M529 341h0M496 343h0M512 344h0M521 343h0M460 346h0M436 348h0M477 349h0M618 348h0M510 350h0M542 350h0M487 351h0M549 351h0M476 356h0M492 356h0M532 359h0M557 359h0M477 360h0M566 364h0M598 366h0M569 368h0M489 370h0M515 370h0M526 370h0M470 372h0M523 375h0M533 376h0M536 376h0M602 376h0M603 377h0M457 380h0M457 380h0M453 382h0M614 382h0M618 382h0M502 389h0M541 387h0M549 387h0M558 392h0M521 394h0M561 393h0M460 398h0M496 399h0M515 403h0M556 402h0M520 404h0M491 406h0M511 405h0M582 406h0M466 408h0M448 409h0M524 413h0M599 420h0M478 423h0M580 426h0M520 431h0M540 436h0M510 441h0M527 450h0M553 455h0M456 456h0M537 456h0M476 457h0M544 460h0M537 465h0M492 473h0M546 472h0M476 474h0M502 491h0" stroke="#f08020"/><path d="M482 113h0M479 119h0M471 131h0M525 139h0M529 140h0M523 143h0M529 142h0M519 146h0M530 147h0M537 149h0M546 151h0M558 152h0M526 155h0M514 157h0M493 159h0M499 160h0M504 161h0M512 160h0M553 163h0M508 164h0M508 167h0M468 169h0M497 172h0M507 171h0M456 174h0M496 174h0M549 173h0M566 175h0M550 177h0M499 179h0M517 181h0M545 180h0M571 180h0M502 181h0M553 183h0M496 184h0M566 185h0M567 185h0M493 186h0M499 187h0M505 187h0M534 188h0M573 189h0M508 190h0M524 191h0M534 190h0M481 192h0M558 195h0M569 196h0M547 198h0M588 197h0M477 200h0M491 201h0M558 201h0M567 201h0M532 205h0M559 205h0M479 206h0M499 209h0M576 210h0M471 211h0M535 212h0M539 214h0M460 216h0M506 217h0M583 216h0M531 218h0M490 220h0M521 222h0M549 222h0M581 222h0M503 224h0M520 224h0M527 223h0M528 223h0M484 225h0M494 225h0M546 226h0M614 225h0M451 230h0M474 231h0M559 231h0M481 235h0M485 234h0M502 234h0M573 237h0M610 237h0M466 239h0M487 241h0M477 245h0M523 243h0M473 246h0M533 246h0M557 246h0M581 246h0M595 245h0M531 248h0M466 250h0M536 249h0M607 250h0M451 254h0M468 254h0M518 254h0M608 254h0M511 258h0M519 258h0M580 259h0M622 257h0M513 260h0M534 259h0M539 264h0M552 264h0M493 267h0M509 265h0M598 266h0M587 267h0M485 269h0M493 271h0M551 271h0M560 269h0M562 271h0M562 270h0M593 269h0M505 272h0M507 275h0M446 276h0M452 277h0M455 275h0M488 276h0M527 276h0M555 277h0M596 275h0M543 277h0M483 279h0M530 279h0M606 281h0M437 282h0M476 282h0M505 283h0M573 282h0M584 281h0M527 284h0M521 286h0M592 287h0M551 289h0M567 289h0M600 289h0M610 288h0M440 289h0M452 290h0M495 292h0M497 292h0M507 293h0M520 293h0M520 292h0M441 294h0M587 294h0M459 296h0M511 296h0M564 296h0M573 295h0M532 298h0M479 299h0M552 300h0M616 300h0M452 301h0M467 303h0M501 301h0M585 302h0M596 302h0M453 305h0M529 304h0M602 303h0M505 307h0M578 305h0M591 306h0M607 305h0M445 308h0M470 310h0M471 310h0M509 310h0M514 309h0M535 310h0M459 313h0M509 312h0M588 313h0M438 313h0M452 314h0M463 314h0M507 315h0M527 314h0M506 316h0M567 316h0M479 318h0M506 317h0M447 320h0M513 320h0M501 322h0M558 321h0M595 322h0M613 322h0M458 325h0M460 327h0M462 325h0M564 325h0M617 326h0M468 329h0M607 329h0M618 328h0M504 330h0M609 330h0M461 333h0M581 332h0M589 332h0M609 331h0M453 335h0M550 333h0M570 337h0M577 337h0M613 340h0M507 341h0M547 342h0M577 343h0M578 342h0M561 344h0M600 345h0M614 343h0M457 348h0M473 349h0M535 349h0M547 348h0M473 353h0M541 357h0M542 356h0M544 356h0M448 361h0M499 364h0M527 366h0M527 366h0M595 368h0M477 371h0M528 369h0M469 372h0M475 371h0M586 372h0M508 373h0M440 375h0M479 376h0M490 377h0M595 375h0M597 375h0M609 375h0M516 378h0M462 380h0M511 379h0M524 379h0M600 380h0M620 380h0M517 383h0M590 383h0M499 384h0M592 383h0M501 387h0M505 386h0M571 388h0M452 390h0M500 389h0M471 393h0M602 393h0M613 393h0M469 394h0M517 393h0M572 394h0M578 394h0M468 396h0M541 396h0M592 397h0M561 399h0M595 398h0M536 399h0M566 400h0M598 400h0M551 403h0M566 402h0M609 403h0M591 405h0M502 407h0M576 405h0M489 408h0M496 409h0M554 410h0M599 409h0M499 412h0M520 415h0M583 413h0M590 414h0M499 415h0M567 416h0M542 419h0M554 420h0M510 421h0M466 424h0M481 424h0M481 426h0M521 429h0M545 428h0M521 431h0M581 430h0M499 432h0M507 432h0M514 432h0M529 433h0M525 435h0M553 434h0M487 439h0M567 438h0M501 439h0M550 440h0M557 440h0M463 442h0M517 443h0M499 445h0M537 443h0M538 448h0M494 451h0M487 454h0M526 454h0M553 455h0M475 456h0M534 456h0M560 456h0M451 459h0M512 459h0M527 458h0M470 460h0M530 462h0M528 470h0M503 472h0M501 477h0M465 481h0M507 489h0M500 493h0M521 492h0M483 494h0M500 495h0M491 499h0M497 503h0" stroke="#eadf22"/><path d="M480 118h0M525 134h0M524 139h0M523 143h0M524 157h0M522 159h0M562 161h0M493 161h0M499 162h0M516 164h0M564 165h0M536 171h0M566 171h0M517 177h0M534 176h0M465 178h0M523 180h0M467 183h0M498 183h0M545 189h0M559 189h0M562 191h0M451 194h0M459 201h0M500 206h0M547 208h0M453 210h0M474 213h0M495 211h0M504 213h0M542 212h0M452 214h0M502 215h0M508 214h0M578 214h0M593 214h0M534 216h0M560 217h0M564 217h0M541 220h0M588 219h0M507 223h0M503 226h0M600 227h0M555 230h0M534 232h0M599 235h0M501 240h0M442 243h0M457 243h0M522 242h0M551 243h0M468 245h0M572 246h0M449 247h0M583 248h0M562 251h0M605 253h0M517 253h0M551 254h0M608 257h0M482 260h0M571 260h0M490 262h0M580 262h0M500 265h0M562 264h0M601 263h0M497 266h0M550 266h0M568 265h0M598 267h0M523 270h0M530 270h0M496 274h0M530 274h0M446 278h0M459 277h0M551 279h0M587 280h0M469 282h0M477 284h0M614 284h0M580 285h0M606 286h0M556 288h0M600 289h0M490 291h0M524 291h0M449 295h0M554 297h0M607 296h0M509 299h0M526 298h0M583 298h0M448 299h0M491 299h0M555 300h0M532 304h0M534 307h0M560 306h0M438 314h0M458 313h0M488 314h0M556 315h0M561 314h0M475 316h0M592 321h0M464 322h0M481 324h0M608 324h0M512 325h0M493 328h0M520 328h0M562 327h0M521 329h0M562 330h0M446 331h0M489 332h0M569 332h0M598 332h0M470 333h0M573 333h0M578 334h0M598 333h0M528 336h0M481 339h0M606 340h0M550 342h0M462 344h0M471 344h0M496 345h0M497 344h0M487 347h0M550 346h0M457 348h0M480 347h0M560 348h0M609 354h0M556 356h0M585 356h0M591 356h0M555 360h0M560 360h0M617 359h0M578 361h0M440 366h0M597 366h0M520 368h0M569 367h0M455 370h0M462 370h0M507 372h0M567 372h0M538 374h0M618 375h0M444 377h0M471 376h0M569 375h0M506 378h0M545 380h0M560 380h0M477 381h0M531 381h0M574 384h0M475 386h0M565 386h0M520 388h0M457 389h0M521 391h0M547 389h0M562 390h0M592 390h0M600 389h0M565 393h0M511 395h0M562 394h0M584 395h0M544 396h0M485 398h0M571 398h0M444 401h0M563 400h0M518 403h0M599 402h0M539 405h0M605 407h0M572 410h0M512 414h0M520 415h0M532 413h0M558 414h0M507 417h0M518 415h0M449 418h0M578 420h0M580 421h0M550 422h0M574 421h0M525 427h0M529 426h0M535 425h0M582 426h0M513 428h0M569 427h0M553 431h0M532 433h0M568 432h0M554 433h0M482 440h0M521 440h0M560 442h0M482 446h0M522 446h0M475 455h0M532 459h0M558 459h0M503 469h0M503 470h0M504 485h0M516 493h0M504 495h0M471 497h0" stroke="#a8d432"/><path d="M477 108h0M515 134h0M527 136h0M498 151h0M498 149h0M511 150h0M540 151h0M519 154h0M513 157h0M491 161h0M495 159h0M477 164h0M512 167h0M541 170h0M506 172h0M546 188h0M583 190h0M479 193h0M499 194h0M567 196h0M569 198h0M503 204h0M567 208h0M518 211h0M547 219h0M569 218h0M587 218h0M491 220h0M563 222h0M471 224h0M477 227h0M530 229h0M451 235h0M534 236h0M574 237h0M451 238h0M594 239h0M578 242h0M590 241h0M602 245h0M548 246h0M453 247h0M598 249h0M444 251h0M479 250h0M445 255h0M486 256h0M497 256h0M587 256h0M560 259h0M538 260h0M588 259h0M470 263h0M507 268h0M595 270h0M545 276h0M446 279h0M603 283h0M545 283h0M483 289h0M516 288h0M438 291h0M489 292h0M505 293h0M611 291h0M514 295h0M538 294h0M505 297h0M511 299h0M485 302h0M612 302h0M458 305h0M587 304h0M510 306h0M479 307h0M478 313h0M607 312h0M586 315h0M445 316h0M467 318h0M509 319h0M448 322h0M475 322h0M489 322h0M530 323h0M536 324h0M605 323h0M487 328h0M489 330h0M569 342h0M530 344h0M468 349h0M492 350h0M587 351h0M482 353h0M468 355h0M478 355h0M590 356h0M601 355h0M559 359h0M567 359h0M542 362h0M501 365h0M616 367h0M515 370h0M555 372h0M572 373h0M440 379h0M550 377h0M588 381h0M548 382h0M585 386h0M597 386h0M538 388h0M618 387h0M492 390h0M441 393h0M487 392h0M589 392h0M552 393h0M534 397h0M548 396h0M578 396h0M571 397h0M504 403h0M583 403h0M597 404h0M495 406h0M501 411h0M545 409h0M443 420h0M497 422h0M568 425h0M537 428h0M559 429h0M493 441h0M533 443h0M566 441h0M560 456h0M499 465h0M534 474h0M513 475h0M486 480h0M519 491h0M497 496h0M496 506h0" stroke="#4cb440"/><path d="M493 137h0M506 146h0M536 146h0M526 148h0M513 150h0M506 153h0M506 162h0M572 169h0M521 172h0M520 183h0M503 191h0M529 191h0M547 193h0M523 194h0M467 197h0M478 197h0M460 207h0M577 205h0M480 207h0M500 208h0M563 208h0M516 212h0M566 212h0M579 214h0M531 217h0M585 219h0M548 225h0M599 225h0M523 228h0M584 228h0M588 231h0M457 234h0M589 234h0M480 236h0M507 236h0M479 237h0M463 240h0M511 244h0M460 248h0M471 250h0M482 257h0M511 256h0M454 258h0M585 258h0M473 262h0M564 262h0M606 261h0M487 264h0M583 265h0M507 268h0M522 270h0M478 271h0M592 273h0M585 273h0M461 276h0M464 277h0M524 277h0M539 275h0M502 277h0M460 287h0M491 286h0M465 290h0M526 290h0M563 289h0M568 291h0M563 293h0M512 302h0M602 301h0M477 306h0M527 307h0M593 307h0M462 310h0M536 310h0M543 310h0M532 313h0M563 314h0M461 317h0M546 317h0M620 317h0M494 320h0M435 321h0M540 326h0M577 325h0M614 326h0M483 329h0M569 327h0M466 338h0M605 341h0M443 342h0M494 343h0M537 346h0M571 349h0M475 351h0M533 354h0M507 355h0M515 360h0M577 360h0M462 367h0M506 365h0M446 377h0M527 383h0M565 385h0M484 386h0M556 385h0M560 386h0M508 389h0M440 390h0M572 391h0M599 391h0M455 395h0M566 401h0M538 404h0M538 406h0M575 411h0M536 415h0M509 418h0M551 427h0M500 428h0M561 430h0M501 431h0M562 441h0M569 442h0M556 450h0M450 457h0M504 455h0M543 459h0M548 468h0M498 470h0M506 483h0M507 501h0" stroke="#3a44c0"/><path d="M491 104h0M506 138h0M515 140h0M548 149h0M552 160h0M509 164h0M484 166h0M472 169h0M549 174h0M494 177h0M517 184h0M515 188h0M568 189h0M483 190h0M567 190h0M580 194h0M492 198h0M498 204h0M528 203h0M594 205h0M557 208h0M528 210h0M490 216h0M596 217h0M509 218h0M568 218h0M531 223h0M590 224h0M593 225h0M562 227h0M590 229h0M475 232h0M601 236h0M602 237h0M560 238h0M589 241h0M531 244h0M535 243h0M472 248h0M502 248h0M588 248h0M485 256h0M553 259h0M539 262h0M573 261h0M551 264h0M452 266h0M486 266h0M509 266h0M450 270h0M550 270h0M446 272h0M509 276h0M605 277h0M508 281h0M580 280h0M563 285h0M591 283h0M544 287h0M500 292h0M569 292h0M531 293h0M601 295h0M613 294h0M464 297h0M614 298h0M565 307h0M605 305h0M606 306h0M586 307h0M519 311h0M607 310h0M517 316h0M535 318h0M505 319h0M564 320h0M483 322h0M567 323h0M489 328h0M587 329h0M603 329h0M474 330h0M498 330h0M603 330h0M596 338h0M613 337h0M546 340h0M552 340h0M444 342h0M571 344h0M591 344h0M445 354h0M504 355h0M587 361h0M578 361h0M471 364h0M607 364h0M463 368h0M486 367h0M471 370h0M568 370h0M500 371h0M525 372h0M463 374h0M544 374h0M613 378h0M583 380h0M436 383h0M517 385h0M439 390h0M536 389h0M537 390h0M550 390h0M556 389h0M530 392h0M599 391h0M498 395h0M603 394h0M573 396h0M614 396h0M548 397h0M553 399h0M477 412h0M591 412h0M498 418h0M462 420h0M512 420h0M595 420h0M577 422h0M592 424h0M541 426h0M588 426h0M499 431h0M567 435h0M583 434h0M530 439h0M446 440h0M453 440h0M508 440h0M538 448h0M476 454h0M541 455h0M454 464h0M489 467h0M511 467h0M536 468h0M476 483h0M475 486h0M480 500h0" stroke="#6a2cb0"/><path d="M473 113h0M467 133h0M485 141h0M511 144h0M482 148h0M478 149h0M494 155h0M469 155h0M502 161h0M493 166h0M472 178h0M562 178h0M563 177h0M505 181h0M511 183h0M526 188h0M554 192h0M472 202h0M539 205h0M574 204h0M508 231h0M576 231h0M596 234h0M587 236h0M466 240h0M546 241h0M571 243h0M571 245h0M556 249h0M576 249h0M455 252h0M498 252h0M531 252h0M561 254h0M503 263h0M499 268h0M512 272h0M594 272h0M561 274h0M584 276h0M605 276h0M603 277h0M441 280h0M476 281h0M484 280h0M521 291h0M554 292h0M567 293h0M539 298h0M551 298h0M463 303h0M510 302h0M577 302h0M462 308h0M499 309h0M522 308h0M557 311h0M477 313h0M492 312h0M521 311h0M587 311h0M582 314h0M528 316h0M615 320h0M530 328h0M610 328h0M460 332h0M458 339h0M558 347h0M441 348h0M464 347h0M531 348h0M494 350h0M462 352h0M462 351h0M454 355h0M597 355h0M592 363h0M450 368h0M519 374h0M580 377h0M613 380h0M507 381h0M516 381h0M525 382h0M581 381h0M485 384h0M486 387h0M526 386h0M538 386h0M477 391h0M613 391h0M526 396h0M589 396h0M450 399h0M495 406h0M519 418h0M535 419h0M479 422h0M589 424h0M462 427h0M497 428h0M569 430h0M509 434h0M514 441h0M558 448h0M557 451h0M483 453h0M561 460h0M501 463h0M480 473h0M525 476h0M469 494h0M512 494h0" stroke="#c22080"/><path d="M470 117h0M491 117h0M486 128h0M531 135h0M500 138h0M528 138h0M541 140h0M503 142h0M520 145h0M540 148h0M555 148h0M509 150h0M522 150h0M523 150h0M533 152h0M501 153h0M497 157h0M503 156h0M537 157h0M555 155h0M532 158h0M495 160h0M565 163h0M474 165h0M499 165h0M458 170h0M539 170h0M490 171h0M500 171h0M534 173h0M535 173h0M515 174h0M548 174h0M559 174h0M562 175h0M554 176h0M496 178h0M522 177h0M542 177h0M505 179h0M514 179h0M542 181h0M569 180h0M568 181h0M496 185h0M540 184h0M572 183h0M495 192h0M527 193h0M561 194h0M514 196h0M529 196h0M573 200h0M545 203h0M570 202h0M579 203h0M524 211h0M467 211h0M467 211h0M543 214h0M566 213h0M462 217h0M510 216h0M534 217h0M478 219h0M484 218h0M552 217h0M536 219h0M547 220h0M595 219h0M505 222h0M532 224h0M491 226h0M544 225h0M481 228h0M552 228h0M470 231h0M555 230h0M457 231h0M495 232h0M512 233h0M578 232h0M492 233h0M540 236h0M581 237h0M474 240h0M490 241h0M518 240h0M520 239h0M464 241h0M468 241h0M566 242h0M580 243h0M480 244h0M447 247h0M584 246h0M533 248h0M554 248h0M470 250h0M502 252h0M516 252h0M595 252h0M492 254h0M564 255h0M602 255h0M440 255h0M541 255h0M516 258h0M525 258h0M591 258h0M510 259h0M524 260h0M560 260h0M496 262h0M536 262h0M552 261h0M619 264h0M476 266h0M567 266h0M486 270h0M601 270h0M449 272h0M514 273h0M528 273h0M572 272h0M457 274h0M554 273h0M560 275h0M570 278h0M464 280h0M577 280h0M579 281h0M461 282h0M470 282h0M519 283h0M559 282h0M597 283h0M472 285h0M487 284h0M528 285h0M555 284h0M542 286h0M489 287h0M569 287h0M584 289h0M489 289h0M531 290h0M535 289h0M565 291h0M549 295h0M476 296h0M583 295h0M584 297h0M468 297h0M552 298h0M438 300h0M443 302h0M594 301h0M453 304h0M597 305h0M557 307h0M473 307h0M484 308h0M485 308h0M500 308h0M503 307h0M597 309h0M456 311h0M489 312h0M495 312h0M596 312h0M601 312h0M454 314h0M498 314h0M556 314h0M586 314h0M440 316h0M495 317h0M506 316h0M529 316h0M554 316h0M566 316h0M484 317h0M605 319h0M566 319h0M481 327h0M597 326h0M604 326h0M615 325h0M487 327h0M534 330h0M552 330h0M597 330h0M460 332h0M491 332h0M605 332h0M477 334h0M489 333h0M520 335h0M529 338h0M515 341h0M564 343h0M565 342h0M601 341h0M512 345h0M536 343h0M554 344h0M589 344h0M510 346h0M537 347h0M586 348h0M578 350h0M589 351h0M488 353h0M551 353h0M538 354h0M549 354h0M593 356h0M550 361h0M564 359h0M581 360h0M443 363h0M449 362h0M455 362h0M502 361h0M564 363h0M484 363h0M528 364h0M483 367h0M593 365h0M549 367h0M574 368h0M475 371h0M588 370h0M590 370h0M449 372h0M538 372h0M500 373h0M528 375h0M480 375h0M574 377h0M589 378h0M517 380h0M533 380h0M505 383h0M481 384h0M575 384h0M439 385h0M440 385h0M473 387h0M438 388h0M587 388h0M591 388h0M580 391h0M525 392h0M475 395h0M497 393h0M526 394h0M572 393h0M454 396h0M559 398h0M591 398h0M540 403h0M560 401h0M462 405h0M538 404h0M586 404h0M539 406h0M587 406h0M507 408h0M569 407h0M591 409h0M535 410h0M514 412h0M556 412h0M502 414h0M516 415h0M545 416h0M550 417h0M596 418h0M451 421h0M493 420h0M509 422h0M501 424h0M553 424h0M512 425h0M544 425h0M570 427h0M525 427h0M526 432h0M478 435h0M522 435h0M531 436h0M557 436h0M483 439h0M527 443h0M537 446h0M520 448h0M523 448h0M469 449h0M525 449h0M550 451h0M501 456h0M498 458h0M515 463h0M526 464h0M532 468h0M513 472h0M530 473h0M488 476h0M469 483h0M503 481h0M514 487h0M476 489h0M494 490h0M500 494h0M488 500h0" stroke="#e0202e"/><path d="M493 104h0M547 144h0M502 146h0M531 148h0M529 151h0M552 152h0M530 155h0M540 160h0M548 165h0M508 170h0M536 169h0M506 179h0M510 178h0M546 181h0M577 181h0M557 186h0M563 188h0M556 197h0M536 200h0M518 202h0M560 202h0M472 204h0M513 206h0M455 211h0M497 212h0M475 213h0M575 215h0M582 217h0M579 220h0M529 221h0M562 222h0M529 226h0M464 228h0M510 241h0M539 241h0M557 242h0M503 245h0M449 246h0M487 247h0M542 250h0M602 252h0M481 255h0M464 255h0M468 260h0M493 264h0M531 266h0M595 272h0M462 276h0M488 276h0M552 275h0M603 276h0M581 278h0M483 280h0M467 282h0M476 283h0M538 282h0M515 284h0M529 284h0M437 287h0M445 289h0M491 287h0M501 288h0M471 292h0M453 294h0M497 294h0M530 295h0M579 294h0M511 296h0M612 301h0M468 307h0M458 307h0M468 308h0M606 308h0M474 310h0M574 311h0M467 314h0M520 314h0M477 318h0M438 322h0M463 322h0M517 322h0M553 325h0M450 332h0M543 332h0M483 334h0M569 335h0M609 338h0M490 345h0M444 345h0M479 346h0M601 346h0M438 348h0M604 354h0M448 358h0M542 359h0M515 362h0M573 361h0M513 366h0M492 369h0M454 369h0M467 372h0M512 372h0M606 373h0M440 378h0M437 382h0M459 383h0M575 388h0M471 390h0M478 390h0M592 391h0M466 394h0M473 394h0M516 397h0M520 395h0M530 396h0M597 398h0M507 402h0M504 404h0M565 407h0M592 408h0M460 410h0M525 413h0M559 416h0M472 422h0M463 426h0M535 431h0M579 433h0M496 434h0M570 441h0M566 443h0M498 449h0M515 449h0M536 448h0M487 452h0M477 462h0M522 461h0M518 471h0M471 487h0M516 490h0" stroke="#f08020"/><path d="M480 118h0M517 134h0M500 135h0M514 138h0M546 141h0M506 142h0M511 144h0M520 145h0M533 143h0M535 144h0M534 146h0M517 147h0M528 147h0M547 148h0M491 153h0M528 156h0M555 156h0M500 160h0M500 160h0M554 160h0M491 167h0M524 174h0M540 177h0M496 177h0M502 178h0M518 181h0M528 180h0M490 181h0M467 185h0M553 185h0M549 189h0M575 189h0M490 189h0M575 190h0M585 191h0M546 195h0M564 198h0M486 199h0M560 200h0M520 202h0M543 201h0M532 205h0M566 204h0M464 206h0M515 208h0M564 208h0M469 211h0M550 210h0M577 209h0M570 212h0M461 214h0M488 213h0M536 214h0M574 217h0M592 219h0M449 222h0M595 221h0M576 224h0M462 227h0M500 225h0M454 227h0M504 227h0M548 230h0M597 231h0M504 232h0M483 234h0M600 234h0M533 235h0M596 236h0M446 237h0M445 239h0M451 242h0M526 241h0M542 242h0M548 242h0M560 242h0M592 241h0M496 244h0M578 244h0M534 247h0M554 245h0M604 246h0M541 248h0M558 249h0M559 249h0M448 251h0M488 250h0M452 252h0M551 252h0M574 252h0M610 253h0M462 254h0M468 255h0M485 254h0M507 253h0M548 253h0M585 253h0M455 256h0M484 256h0M590 258h0M594 258h0M611 259h0M449 260h0M561 260h0M575 263h0M539 264h0M476 267h0M510 268h0M519 268h0M527 268h0M547 268h0M453 271h0M554 271h0M502 273h0M582 271h0M584 272h0M467 273h0M545 274h0M565 275h0M507 277h0M557 277h0M503 277h0M536 277h0M508 279h0M561 281h0M448 282h0M491 281h0M524 283h0M473 283h0M473 285h0M477 283h0M570 284h0M489 286h0M504 286h0M535 285h0M606 286h0M445 287h0M460 289h0M517 288h0M542 288h0M526 289h0M537 289h0M598 290h0M610 290h0M452 292h0M452 292h0M469 292h0M567 292h0M595 292h0M448 294h0M500 294h0M524 294h0M560 295h0M570 295h0M474 297h0M572 298h0M606 298h0M557 301h0M446 306h0M570 305h0M614 306h0M507 309h0M591 307h0M474 311h0M519 309h0M462 313h0M497 311h0M544 312h0M583 312h0M467 313h0M528 313h0M550 315h0M553 315h0M446 317h0M559 316h0M444 318h0M566 318h0M611 318h0M455 321h0M575 322h0M445 324h0M580 325h0M589 325h0M525 325h0M603 326h0M464 327h0M489 329h0M494 328h0M559 328h0M581 329h0M604 329h0M609 328h0M476 331h0M522 331h0M540 330h0M550 331h0M590 331h0M496 334h0M549 333h0M587 334h0M603 334h0M551 336h0M570 338h0M596 338h0M598 338h0M463 339h0M488 340h0M535 341h0M450 342h0M584 344h0M466 347h0M517 346h0M530 345h0M582 347h0M481 348h0M499 348h0M461 350h0M483 350h0M537 350h0M544 350h0M436 352h0M577 351h0M617 352h0M523 355h0M525 354h0M555 355h0M556 353h0M571 355h0M612 354h0M480 355h0M591 358h0M460 359h0M464 360h0M479 360h0M493 362h0M538 362h0M460 365h0M518 365h0M583 365h0M563 367h0M506 369h0M566 367h0M494 370h0M489 372h0M501 371h0M490 375h0M503 374h0M512 374h0M601 374h0M538 376h0M439 379h0M463 378h0M505 379h0M573 378h0M559 380h0M497 381h0M614 382h0M448 383h0M508 384h0M534 383h0M590 383h0M615 384h0M471 387h0M555 386h0M456 387h0M470 388h0M554 388h0M532 389h0M463 392h0M513 392h0M519 392h0M520 396h0M603 396h0M603 395h0M557 398h0M605 398h0M611 397h0M564 400h0M500 402h0M546 402h0M577 401h0M610 402h0M492 403h0M497 405h0M575 406h0M511 409h0M560 409h0M491 410h0M557 411h0M584 410h0M574 411h0M500 414h0M497 416h0M544 415h0M559 416h0M576 415h0M577 416h0M461 420h0M498 420h0M505 420h0M587 420h0M461 422h0M566 422h0M500 424h0M527 423h0M452 426h0M496 425h0M516 425h0M589 426h0M503 428h0M550 428h0M562 428h0M529 430h0M498 432h0M540 432h0M453 434h0M459 434h0M495 433h0M566 434h0M497 438h0M521 438h0M508 440h0M535 441h0M574 442h0M517 443h0M546 445h0M556 445h0M502 450h0M533 452h0M555 451h0M557 452h0M493 456h0M549 459h0M476 465h0M510 466h0M536 465h0M515 470h0M543 473h0M486 474h0M524 475h0M488 479h0M498 480h0M505 481h0M526 481h0M465 484h0M467 489h0M499 491h0M507 492h0M521 493h0M478 504h0" stroke="#eadf22"/><path d="M489 139h0M468 144h0M534 146h0M537 147h0M467 149h0M526 147h0M535 149h0M549 149h0M502 155h0M517 158h0M531 159h0M559 161h0M556 164h0M493 167h0M545 166h0M517 167h0M533 167h0M481 174h0M498 175h0M554 177h0M522 181h0M567 179h0M488 182h0M485 186h0M541 185h0M572 187h0M561 193h0M567 191h0M480 194h0M511 194h0M568 194h0M473 201h0M577 203h0M484 206h0M477 208h0M481 208h0M522 208h0M568 211h0M497 213h0M528 213h0M563 215h0M528 218h0M452 220h0M478 219h0M484 221h0M587 220h0M578 226h0M580 225h0M595 225h0M501 227h0M525 228h0M554 228h0M558 229h0M450 230h0M543 231h0M472 233h0M540 231h0M471 234h0M597 234h0M484 237h0M549 236h0M533 237h0M566 237h0M551 240h0M444 242h0M493 243h0M545 241h0M508 244h0M454 245h0M593 252h0M538 254h0M483 257h0M499 256h0M594 256h0M528 258h0M605 260h0M501 263h0M441 263h0M592 264h0M491 265h0M520 265h0M467 269h0M491 269h0M516 267h0M528 269h0M471 273h0M577 273h0M450 274h0M479 273h0M542 274h0M462 276h0M437 278h0M475 279h0M595 277h0M462 283h0M515 285h0M568 284h0M546 287h0M610 286h0M458 288h0M544 288h0M600 287h0M566 291h0M584 291h0M609 289h0M567 293h0M576 295h0M590 297h0M460 301h0M463 299h0M473 299h0M436 303h0M517 304h0M545 305h0M566 307h0M446 311h0M486 310h0M508 313h0M475 314h0M558 313h0M490 318h0M485 319h0M523 319h0M546 320h0M507 327h0M608 325h0M487 330h0M457 332h0M531 333h0M588 332h0M623 332h0M545 335h0M456 337h0M456 337h0M496 335h0M515 338h0M610 338h0M522 340h0M490 341h0M543 343h0M555 342h0M446 348h0M481 348h0M516 351h0M596 351h0M477 354h0M598 353h0M615 355h0M504 357h0M517 357h0M540 355h0M543 355h0M555 356h0M493 359h0M539 360h0M585 360h0M592 360h0M462 362h0M482 366h0M601 369h0M557 369h0M598 371h0M502 373h0M548 374h0M588 374h0M477 376h0M566 375h0M573 376h0M527 377h0M536 377h0M562 377h0M489 381h0M552 382h0M572 381h0M483 384h0M540 383h0M599 384h0M552 388h0M459 393h0M500 391h0M503 392h0M529 393h0M604 395h0M516 396h0M519 399h0M601 406h0M547 414h0M585 414h0M588 415h0M496 418h0M565 420h0M584 422h0M590 425h0M509 426h0M528 428h0M524 430h0M475 432h0M496 436h0M548 437h0M577 440h0M464 445h0M547 447h0M534 449h0M529 450h0M511 454h0M549 455h0M542 461h0M536 464h0M549 464h0M505 468h0M457 469h0M521 470h0M522 493h0" stroke="#a8d432"/><path d="M523 144h0M508 147h0M534 153h0M507 173h0M518 180h0M533 179h0M512 182h0M570 193h0M469 196h0M581 198h0M563 199h0M510 204h0M537 207h0M498 208h0M541 213h0M549 217h0M499 218h0M578 219h0M465 223h0M478 222h0M522 221h0M568 222h0M488 223h0M471 226h0M456 230h0M476 229h0M576 232h0M598 231h0M454 234h0M517 240h0M573 241h0M479 246h0M464 248h0M490 252h0M520 252h0M483 255h0M486 256h0M523 255h0M583 257h0M609 257h0M613 259h0M492 263h0M569 267h0M519 270h0M617 270h0M516 276h0M480 278h0M566 283h0M615 287h0M464 293h0M495 297h0M456 305h0M550 303h0M596 305h0M512 307h0M561 306h0M450 308h0M500 309h0M575 309h0M452 314h0M489 314h0M493 314h0M497 314h0M517 319h0M488 329h0M491 330h0M521 329h0M479 332h0M497 335h0M497 335h0M521 336h0M525 337h0M535 338h0M495 339h0M453 343h0M597 342h0M609 342h0M482 347h0M494 356h0M571 356h0M576 356h0M534 360h0M551 360h0M569 361h0M483 362h0M528 362h0M579 362h0M611 361h0M469 365h0M521 364h0M494 366h0M618 366h0M466 371h0M617 370h0M555 375h0M611 376h0M527 381h0M586 380h0M494 383h0M507 383h0M455 384h0M565 385h0M545 394h0M464 396h0M438 398h0M534 404h0M534 410h0M486 423h0M516 423h0M546 423h0M517 430h0M570 430h0M533 433h0M542 434h0M518 438h0M510 449h0M504 452h0M554 451h0M510 461h0M525 466h0M532 482h0M526 484h0M489 490h0M505 490h0M479 500h0" stroke="#4cb440"/><path d="M539 142h0M516 169h0M457 171h0M573 175h0M559 182h0M505 191h0M500 194h0M502 198h0M559 199h0M560 198h0M558 202h0M477 208h0M544 210h0M481 211h0M612 214h0M450 218h0M464 218h0M469 217h0M477 217h0M482 219h0M489 218h0M545 218h0M522 219h0M501 224h0M564 225h0M496 228h0M557 230h0M448 232h0M481 233h0M508 231h0M526 232h0M541 232h0M480 242h0M524 241h0M541 244h0M549 244h0M512 246h0M539 249h0M582 249h0M594 251h0M601 249h0M595 253h0M490 255h0M595 256h0M485 261h0M610 265h0M605 271h0M516 274h0M490 277h0M585 282h0M489 288h0M519 290h0M576 291h0M458 297h0M517 300h0M591 299h0M501 304h0M466 306h0M514 307h0M517 306h0M582 306h0M440 309h0M487 312h0M539 314h0M593 315h0M602 315h0M548 319h0M482 323h0M544 327h0M513 330h0M524 330h0M454 332h0M556 336h0M585 338h0M536 341h0M594 342h0M603 341h0M486 345h0M540 349h0M462 353h0M474 352h0M477 356h0M589 360h0M483 362h0M517 362h0M444 365h0M508 364h0M492 367h0M523 369h0M540 368h0M575 372h0M607 372h0M610 373h0M614 374h0M470 379h0M517 378h0M594 380h0M448 381h0M534 382h0M541 381h0M599 383h0M456 386h0M596 385h0M463 389h0M525 388h0M585 392h0M505 394h0M528 393h0M613 393h0M579 399h0M581 400h0M552 403h0M574 410h0M540 411h0M504 414h0M472 416h0M575 435h0M542 439h0M517 444h0M559 455h0M561 456h0M466 486h0M510 490h0" stroke="#3a44c0"/><path d="M517 138h0M539 143h0M465 147h0M474 150h0M550 149h0M510 155h0M497 159h0M555 157h0M493 163h0M515 167h0M490 170h0M543 170h0M476 172h0M509 175h0M545 177h0M487 180h0M490 188h0M509 188h0M567 187h0M470 190h0M574 192h0M464 195h0M504 195h0M513 196h0M462 206h0M484 210h0M530 211h0M544 209h0M515 214h0M571 217h0M571 218h0M458 225h0M505 224h0M534 225h0M561 225h0M562 227h0M516 229h0M482 232h0M455 234h0M465 242h0M531 241h0M526 245h0M534 244h0M604 243h0M477 246h0M537 247h0M560 246h0M584 246h0M496 249h0M498 247h0M553 250h0M559 249h0M454 252h0M498 254h0M596 253h0M600 253h0M493 258h0M516 259h0M505 259h0M500 261h0M559 261h0M584 263h0M522 266h0M446 272h0M542 271h0M447 275h0M445 277h0M583 278h0M541 286h0M543 285h0M445 289h0M468 289h0M506 287h0M576 287h0M569 291h0M484 293h0M487 293h0M475 294h0M547 294h0M612 296h0M563 298h0M578 302h0M551 308h0M577 307h0M572 309h0M439 312h0M576 314h0M473 317h0M587 316h0M532 319h0M606 318h0M456 321h0M445 323h0M528 324h0M532 325h0M597 325h0M546 328h0M590 327h0M591 328h0M484 332h0M477 339h0M571 337h0M450 342h0M455 343h0M570 344h0M568 347h0M580 349h0M491 349h0M496 351h0M537 351h0M618 350h0M440 352h0M524 352h0M537 355h0M538 354h0M498 357h0M504 356h0M505 355h0M561 355h0M606 358h0M460 360h0M557 360h0M456 362h0M478 362h0M486 364h0M493 364h0M520 363h0M586 364h0M575 367h0M524 370h0M567 370h0M579 370h0M535 373h0M555 373h0M562 372h0M449 373h0M555 374h0M600 375h0M487 377h0M550 376h0M447 381h0M587 381h0M467 383h0M442 383h0M482 387h0M488 386h0M616 386h0M496 389h0M544 388h0M618 389h0M458 390h0M597 390h0M508 391h0M580 391h0M490 394h0M446 395h0M589 395h0M609 398h0M551 399h0M578 399h0M542 403h0M569 403h0M545 405h0M605 406h0M510 408h0M491 411h0M505 410h0M606 412h0M464 414h0M498 417h0M499 417h0M446 417h0M505 417h0M526 427h0M567 434h0M471 436h0M570 435h0M578 440h0M554 442h0M501 448h0M524 454h0M477 456h0M462 459h0M508 460h0M530 460h0M516 467h0M521 469h0M507 474h0M507 482h0M502 504h0" stroke="#6a2cb0"/><path d="M532 144h0M523 154h0M505 160h0M494 169h0M561 168h0M548 172h0M574 174h0M527 180h0M550 183h0M462 184h0M500 184h0M571 184h0M561 194h0M482 197h0M568 196h0M563 203h0M541 207h0M540 212h0M596 212h0M505 215h0M608 215h0M560 220h0M503 227h0M526 225h0M493 231h0M554 232h0M566 235h0M470 240h0M566 241h0M465 251h0M550 250h0M464 254h0M521 253h0M601 257h0M533 258h0M470 261h0M473 265h0M459 268h0M524 271h0M541 269h0M539 273h0M482 275h0M522 277h0M519 279h0M579 282h0M574 284h0M538 286h0M574 286h0M528 293h0M452 299h0M456 300h0M522 302h0M609 302h0M577 303h0M510 309h0M549 310h0M453 314h0M456 314h0M475 313h0M531 315h0M440 316h0M519 316h0M510 318h0M513 327h0M580 326h0M616 327h0M477 328h0M497 331h0M511 330h0M500 336h0M518 337h0M579 337h0M437 339h0M580 337h0M537 340h0M502 350h0M466 352h0M597 351h0M452 353h0M508 353h0M579 357h0M478 360h0M572 360h0M502 362h0M605 364h0M550 366h0M586 365h0M602 366h0M580 368h0M438 369h0M551 370h0M531 376h0M486 378h0M593 381h0M613 381h0M497 385h0M515 391h0M540 390h0M502 393h0M524 394h0M589 395h0M602 395h0M572 400h0M577 401h0M598 399h0M586 404h0M543 405h0M529 408h0M565 407h0M568 409h0M574 409h0M513 415h0M517 416h0M586 415h0M551 418h0M504 424h0M492 431h0M510 431h0M550 432h0M580 432h0M524 436h0M550 435h0M446 438h0M499 444h0M514 445h0M449 451h0M510 450h0M559 458h0M508 459h0M551 460h0M553 467h0M531 467h0M464 477h0M485 495h0" stroke="#c22080"/><path d="M501 142h0M529 144h0M544 145h0M548 147h0M499 150h0M502 151h0M481 153h0M559 153h0M521 156h0M555 160h0M531 162h0M489 167h0M559 167h0M484 170h0M538 170h0M513 172h0M573 176h0M566 177h0M573 179h0M472 180h0M508 180h0M538 188h0M580 188h0M469 192h0M546 192h0M487 194h0M518 194h0M520 193h0M491 195h0M495 198h0M581 198h0M489 203h0M497 202h0M500 203h0M471 203h0M488 204h0M492 204h0M586 207h0M551 207h0M463 210h0M469 210h0M568 210h0M468 212h0M505 213h0M560 215h0M525 216h0M563 216h0M463 221h0M571 221h0M503 222h0M556 223h0M582 222h0M583 222h0M540 223h0M595 224h0M599 223h0M460 227h0M467 228h0M468 228h0M489 227h0M555 227h0M540 230h0M514 233h0M543 233h0M573 233h0M457 236h0M472 237h0M513 236h0M515 237h0M591 236h0M463 238h0M477 238h0M517 237h0M535 239h0M565 238h0M600 238h0M459 239h0M574 240h0M461 242h0M602 242h0M567 244h0M467 246h0M587 245h0M542 248h0M578 248h0M608 248h0M458 250h0M544 249h0M602 251h0M457 252h0M484 253h0M506 251h0M553 253h0M540 254h0M478 256h0M561 257h0M483 258h0M569 258h0M519 261h0M490 263h0M530 262h0M550 263h0M564 261h0M565 263h0M587 263h0M453 263h0M454 265h0M488 265h0M608 265h0M562 266h0M493 268h0M512 268h0M521 270h0M573 272h0M497 273h0M583 276h0M447 278h0M465 279h0M601 278h0M609 279h0M584 281h0M524 281h0M526 283h0M593 284h0M470 285h0M463 289h0M487 290h0M522 290h0M594 291h0M451 292h0M491 291h0M543 291h0M562 292h0M584 291h0M596 291h0M610 292h0M456 296h0M490 296h0M529 295h0M540 299h0M590 298h0M459 300h0M593 299h0M470 302h0M484 302h0M555 301h0M610 303h0M440 303h0M471 305h0M472 306h0M574 307h0M585 311h0M587 310h0M557 312h0M445 315h0M455 313h0M464 314h0M494 316h0M517 316h0M538 317h0M472 318h0M504 318h0M446 320h0M537 320h0M560 321h0M492 326h0M526 326h0M592 329h0M447 331h0M595 330h0M607 329h0M575 332h0M576 332h0M444 334h0M477 333h0M547 333h0M550 334h0M535 335h0M590 337h0M526 338h0M469 341h0M495 340h0M581 341h0M597 340h0M484 341h0M610 343h0M544 345h0M463 347h0M511 349h0M590 349h0M599 349h0M575 352h0M594 351h0M596 352h0M614 351h0M438 354h0M536 354h0M542 354h0M608 353h0M525 355h0M621 357h0M588 358h0M615 358h0M548 359h0M554 360h0M561 360h0M447 362h0M456 361h0M462 363h0M437 364h0M473 364h0M528 364h0M564 365h0M612 365h0M467 367h0M529 365h0M524 368h0M535 368h0M437 370h0M474 369h0M517 371h0M549 374h0M561 374h0M575 374h0M575 374h0M589 373h0M595 374h0M491 377h0M537 377h0M553 378h0M611 378h0M619 378h0M512 380h0M615 381h0M539 384h0M541 385h0M527 385h0M468 388h0M489 387h0M574 387h0M599 389h0M491 390h0M606 390h0M439 393h0M547 394h0M602 393h0M615 394h0M534 396h0M543 397h0M560 396h0M569 397h0M573 395h0M598 397h0M535 397h0M571 398h0M552 399h0M568 401h0M562 403h0M499 405h0M516 403h0M586 403h0M524 408h0M563 408h0M448 411h0M591 411h0M442 415h0M563 413h0M469 416h0M567 418h0M578 418h0M458 421h0M500 419h0M561 421h0M484 422h0M483 427h0M540 426h0M541 425h0M544 426h0M525 427h0M572 428h0M574 428h0M530 431h0M555 434h0M504 436h0M531 436h0M563 435h0M584 435h0M497 439h0M498 440h0M519 445h0M521 446h0M546 445h0M531 447h0M497 449h0M528 450h0M562 451h0M548 454h0M558 455h0M520 455h0M550 455h0M553 458h0M489 460h0M506 460h0M525 461h0M496 462h0M507 467h0M509 466h0M514 466h0M538 468h0M547 468h0M489 473h0M522 472h0M498 474h0M541 474h0M533 478h0M512 485h0M502 488h0M500 490h0M500 493h0M503 493h0M516 492h0M491 499h0M507 498h0" stroke="#e0202e"/><path d="M516 138h0M517 139h0M520 150h0M530 150h0M513 151h0M525 154h0M494 162h0M510 164h0M522 164h0M529 171h0M494 174h0M577 176h0M565 177h0M537 186h0M482 189h0M535 192h0M578 192h0M588 199h0M576 202h0M511 204h0M565 203h0M457 207h0M494 207h0M464 212h0M538 211h0M504 213h0M591 213h0M586 223h0M480 227h0M585 225h0M459 227h0M561 230h0M567 233h0M573 234h0M539 239h0M564 237h0M561 243h0M565 244h0M488 245h0M599 250h0M546 252h0M494 258h0M562 259h0M468 263h0M580 263h0M495 265h0M612 265h0M448 265h0M488 272h0M494 271h0M565 271h0M597 275h0M601 275h0M516 278h0M561 278h0M599 277h0M447 281h0M484 280h0M487 281h0M493 282h0M605 285h0M468 286h0M532 285h0M447 289h0M594 288h0M539 292h0M579 292h0M607 292h0M479 293h0M557 295h0M554 296h0M519 299h0M594 298h0M473 301h0M490 299h0M488 305h0M556 303h0M524 306h0M615 308h0M579 311h0M516 312h0M498 315h0M463 316h0M485 315h0M611 316h0M534 321h0M583 321h0M474 323h0M509 327h0M477 330h0M477 331h0M511 331h0M574 330h0M588 332h0M492 335h0M581 338h0M513 343h0M454 346h0M455 347h0M484 349h0M528 348h0M559 348h0M562 349h0M580 358h0M489 361h0M555 359h0M599 364h0M451 366h0M538 365h0M482 367h0M513 371h0M452 375h0M456 375h0M577 384h0M504 388h0M505 388h0M519 389h0M542 387h0M544 388h0M477 393h0M529 393h0M538 394h0M457 395h0M587 396h0M456 399h0M517 403h0M560 406h0M508 409h0M551 408h0M603 408h0M518 410h0M583 409h0M600 412h0M494 413h0M518 414h0M537 414h0M442 421h0M503 425h0M523 424h0M498 426h0M566 429h0M572 440h0M495 441h0M483 445h0M564 444h0M506 448h0M520 449h0M497 449h0M516 460h0M559 460h0M555 464h0M541 471h0M492 475h0M517 474h0M486 476h0M508 482h0M522 484h0M518 487h0M482 489h0M512 489h0M526 490h0M476 493h0" stroke="#f08020"/><path d="M485 117h0M509 136h0M532 135h0M518 142h0M522 141h0M509 144h0M543 148h0M481 153h0M494 155h0M530 156h0M521 160h0M495 165h0M561 165h0M461 165h0M516 165h0M541 167h0M532 169h0M562 169h0M504 171h0M515 169h0M520 170h0M551 175h0M571 177h0M517 180h0M493 182h0M549 181h0M505 183h0M526 184h0M559 183h0M562 184h0M464 186h0M488 185h0M519 185h0M542 186h0M499 188h0M581 188h0M476 191h0M491 190h0M516 190h0M548 190h0M522 192h0M485 194h0M503 193h0M548 193h0M476 196h0M511 197h0M532 196h0M538 196h0M577 195h0M500 198h0M529 200h0M542 201h0M544 200h0M457 203h0M467 202h0M476 201h0M528 201h0M529 202h0M490 205h0M495 205h0M566 205h0M523 207h0M523 206h0M556 206h0M557 205h0M506 207h0M546 208h0M552 208h0M490 211h0M504 211h0M554 209h0M454 212h0M538 212h0M498 214h0M530 215h0M509 215h0M556 215h0M497 217h0M537 218h0M449 219h0M512 221h0M561 221h0M532 221h0M576 222h0M589 223h0M559 225h0M495 228h0M566 229h0M587 227h0M473 229h0M495 231h0M583 230h0M465 232h0M483 232h0M516 233h0M533 232h0M538 231h0M546 232h0M454 237h0M459 236h0M552 237h0M593 237h0M462 240h0M475 242h0M504 242h0M537 241h0M614 241h0M525 245h0M535 244h0M583 244h0M495 245h0M530 245h0M510 249h0M548 250h0M515 252h0M562 253h0M587 256h0M465 260h0M525 259h0M543 261h0M587 262h0M599 262h0M498 263h0M508 265h0M550 263h0M578 267h0M544 268h0M553 269h0M570 269h0M547 270h0M488 273h0M490 272h0M468 273h0M554 273h0M478 275h0M521 276h0M575 276h0M443 278h0M580 278h0M446 280h0M450 280h0M465 279h0M494 279h0M564 280h0M586 279h0M599 279h0M609 280h0M453 283h0M485 282h0M497 281h0M512 282h0M482 284h0M524 285h0M479 288h0M496 289h0M537 287h0M610 288h0M557 290h0M452 292h0M550 293h0M553 295h0M442 296h0M468 296h0M523 295h0M547 298h0M507 301h0M526 301h0M468 301h0M560 303h0M474 305h0M476 305h0M530 304h0M444 306h0M463 306h0M555 307h0M582 307h0M621 307h0M458 307h0M508 307h0M526 308h0M553 309h0M478 313h0M486 312h0M587 312h0M459 314h0M447 316h0M448 315h0M470 315h0M518 315h0M576 318h0M486 322h0M553 322h0M564 323h0M459 324h0M468 325h0M517 324h0M603 323h0M502 328h0M587 327h0M607 327h0M597 330h0M519 333h0M461 333h0M457 336h0M472 336h0M527 335h0M563 335h0M444 338h0M483 338h0M578 338h0M610 339h0M489 342h0M538 342h0M545 341h0M594 343h0M459 344h0M467 343h0M588 344h0M604 343h0M511 347h0M543 347h0M501 349h0M516 348h0M620 349h0M527 353h0M511 353h0M523 355h0M441 355h0M497 355h0M502 357h0M586 356h0M478 358h0M573 358h0M454 360h0M526 361h0M534 361h0M560 361h0M480 361h0M523 362h0M572 361h0M567 366h0M583 370h0M491 373h0M532 372h0M466 374h0M478 374h0M481 373h0M596 373h0M537 376h0M584 376h0M450 377h0M456 377h0M494 379h0M514 378h0M526 378h0M534 377h0M555 378h0M438 379h0M505 379h0M506 382h0M576 381h0M492 386h0M515 387h0M608 387h0M572 388h0M549 390h0M607 390h0M489 391h0M440 394h0M441 393h0M486 395h0M563 395h0M591 396h0M603 395h0M449 400h0M492 400h0M509 399h0M539 400h0M592 399h0M565 404h0M583 404h0M598 403h0M540 406h0M555 407h0M530 408h0M548 408h0M580 407h0M451 411h0M508 411h0M560 411h0M448 412h0M471 415h0M530 414h0M596 414h0M554 415h0M569 420h0M505 421h0M585 422h0M554 424h0M541 428h0M566 428h0M583 429h0M587 429h0M500 431h0M523 433h0M564 436h0M523 438h0M529 437h0M475 440h0M523 442h0M542 441h0M564 442h0M537 446h0M563 446h0M510 447h0M558 447h0M459 450h0M512 451h0M553 450h0M497 454h0M469 461h0M495 461h0M537 461h0M477 464h0M462 470h0M494 472h0M496 472h0M502 487h0M484 491h0M508 496h0M477 499h0" stroke="#eadf22"/><path d="M492 105h0M489 110h0M486 118h0M508 135h0M526 144h0M501 145h0M544 145h0M476 155h0M522 154h0M522 157h0M525 155h0M531 156h0M523 161h0M538 160h0M538 160h0M462 162h0M552 161h0M559 162h0M501 165h0M527 166h0M549 168h0M491 170h0M521 170h0M524 176h0M488 181h0M563 181h0M490 185h0M457 189h0M547 189h0M541 190h0M544 191h0M540 193h0M559 194h0M503 197h0M526 196h0M572 197h0M480 198h0M574 199h0M453 206h0M504 208h0M585 208h0M506 210h0M478 211h0M472 214h0M579 213h0M461 215h0M569 217h0M571 216h0M571 219h0M467 221h0M570 222h0M513 224h0M582 224h0M500 227h0M587 229h0M486 233h0M541 235h0M582 234h0M589 234h0M529 235h0M590 238h0M447 240h0M524 239h0M553 239h0M610 241h0M524 242h0M470 244h0M468 246h0M451 251h0M523 250h0M525 254h0M489 255h0M582 257h0M447 258h0M479 259h0M509 258h0M478 259h0M544 260h0M470 262h0M489 263h0M545 263h0M495 266h0M490 268h0M505 273h0M526 272h0M573 272h0M613 272h0M469 276h0M501 277h0M559 277h0M508 280h0M544 281h0M576 280h0M605 281h0M506 284h0M543 283h0M504 286h0M519 285h0M453 288h0M515 289h0M551 288h0M604 287h0M499 290h0M511 296h0M592 296h0M579 299h0M501 300h0M437 303h0M568 304h0M577 304h0M488 307h0M544 307h0M560 305h0M499 308h0M600 310h0M589 313h0M448 314h0M520 315h0M474 318h0M537 318h0M545 319h0M578 318h0M590 318h0M594 317h0M522 322h0M535 323h0M522 324h0M555 325h0M458 332h0M471 332h0M597 332h0M464 334h0M492 334h0M496 334h0M587 334h0M441 335h0M485 338h0M537 343h0M452 346h0M449 347h0M499 351h0M540 350h0M574 349h0M549 352h0M584 352h0M600 352h0M613 351h0M554 355h0M448 358h0M497 358h0M501 359h0M477 360h0M492 360h0M504 362h0M582 365h0M591 365h0M538 373h0M602 375h0M536 376h0M572 376h0M491 379h0M494 378h0M505 378h0M607 378h0M509 380h0M579 381h0M569 383h0M489 384h0M464 391h0M522 395h0M581 396h0M605 395h0M467 399h0M456 402h0M530 401h0M533 401h0M600 402h0M499 405h0M468 407h0M541 411h0M599 410h0M488 413h0M573 415h0M481 418h0M492 418h0M522 417h0M552 420h0M466 422h0M500 422h0M496 423h0M502 424h0M507 425h0M508 424h0M474 426h0M517 428h0M565 428h0M515 434h0M580 436h0M531 450h0M511 461h0M554 459h0M475 463h0M507 462h0M512 461h0M536 461h0M502 465h0M522 467h0M544 467h0M501 471h0M530 469h0M525 479h0M516 482h0M470 484h0M521 484h0M508 489h0M507 498h0M512 499h0M479 510h0" stroke="#a8d432"/><path d="M486 115h0M510 136h0M502 138h0M503 141h0M496 146h0M540 147h0M551 152h0M505 154h0M529 160h0M565 159h0M529 161h0M490 170h0M521 171h0M573 170h0M541 174h0M534 175h0M538 187h0M552 195h0M460 203h0M523 205h0M457 209h0M521 208h0M554 208h0M591 207h0M554 210h0M505 211h0M517 215h0M588 213h0M498 215h0M589 221h0M586 226h0M586 227h0M506 234h0M539 238h0M596 239h0M527 240h0M458 242h0M572 251h0M493 256h0M553 257h0M566 256h0M503 258h0M587 258h0M511 259h0M550 261h0M451 272h0M476 274h0M494 274h0M552 274h0M553 274h0M583 274h0M566 278h0M505 281h0M574 281h0M579 279h0M468 282h0M528 283h0M540 286h0M588 285h0M459 290h0M549 293h0M500 295h0M503 294h0M527 293h0M561 302h0M454 306h0M553 312h0M596 311h0M572 313h0M609 315h0M474 318h0M440 322h0M608 322h0M448 324h0M565 325h0M507 325h0M529 325h0M585 329h0M447 331h0M438 334h0M617 333h0M462 337h0M508 338h0M577 337h0M459 340h0M481 341h0M491 343h0M618 342h0M510 347h0M530 346h0M538 346h0M573 347h0M437 349h0M548 350h0M519 351h0M522 354h0M614 355h0M477 361h0M513 359h0M555 360h0M515 363h0M469 367h0M548 370h0M598 370h0M505 373h0M545 381h0M615 379h0M445 384h0M607 385h0M455 388h0M599 387h0M616 391h0M471 394h0M484 394h0M504 393h0M543 395h0M527 396h0M456 408h0M559 408h0M477 409h0M537 414h0M587 414h0M487 420h0M567 419h0M576 429h0M562 431h0M541 434h0M501 440h0M499 443h0M514 445h0M560 448h0M511 455h0M547 459h0M513 460h0M551 459h0M497 462h0M503 469h0M468 480h0M490 491h0" stroke="#4cb440"/><path d="M520 138h0M488 142h0M550 144h0M477 146h0M520 161h0M545 166h0M462 173h0M482 185h0M501 184h0M464 190h0M466 196h0M581 205h0M531 207h0M456 210h0M588 209h0M466 215h0M544 217h0M569 218h0M461 219h0M557 220h0M510 225h0M455 226h0M553 227h0M580 228h0M473 234h0M505 234h0M534 237h0M551 235h0M570 240h0M569 246h0M547 247h0M552 248h0M554 249h0M576 248h0M539 251h0M517 261h0M584 259h0M493 263h0M450 266h0M610 267h0M560 269h0M545 273h0M573 274h0M473 276h0M444 282h0M501 285h0M565 287h0M438 291h0M466 290h0M499 291h0M586 289h0M585 299h0M583 304h0M507 305h0M562 306h0M472 308h0M608 310h0M438 317h0M444 317h0M494 317h0M511 318h0M443 320h0M436 323h0M447 322h0M523 322h0M576 324h0M616 327h0M478 331h0M554 332h0M513 335h0M602 334h0M488 339h0M509 341h0M553 344h0M550 345h0M608 345h0M499 350h0M452 357h0M569 359h0M539 361h0M575 362h0M561 365h0M577 363h0M611 365h0M614 366h0M524 368h0M579 374h0M499 375h0M447 380h0M546 380h0M598 383h0M447 387h0M554 392h0M451 395h0M593 398h0M606 399h0M486 405h0M482 420h0M545 420h0M569 424h0M498 426h0M556 428h0M560 427h0M508 430h0M526 429h0M567 431h0M586 432h0M445 435h0M565 437h0M571 436h0M546 439h0M501 441h0M582 440h0M574 445h0M516 449h0M490 453h0M542 453h0M498 457h0M552 456h0M502 470h0M522 492h0" stroke="#3a44c0"/><path d="M497 137h0M523 148h0M540 148h0M511 150h0M520 151h0M543 149h0M553 151h0M508 152h0M543 155h0M545 155h0M553 157h0M517 158h0M528 158h0M499 160h0M523 164h0M495 167h0M538 165h0M560 169h0M491 169h0M516 175h0M524 178h0M530 181h0M537 180h0M530 191h0M510 192h0M546 193h0M491 197h0M498 202h0M579 201h0M498 207h0M549 214h0M498 219h0M533 221h0M449 225h0M453 224h0M517 227h0M567 229h0M550 232h0M594 232h0M532 243h0M489 246h0M580 247h0M454 256h0M579 256h0M594 257h0M455 260h0M504 261h0M564 261h0M601 261h0M537 261h0M468 264h0M515 265h0M508 266h0M594 266h0M439 267h0M495 270h0M538 270h0M597 272h0M585 278h0M584 280h0M495 283h0M495 284h0M529 284h0M541 288h0M542 288h0M603 290h0M538 291h0M562 295h0M542 297h0M606 296h0M437 298h0M482 301h0M469 303h0M541 304h0M611 304h0M467 305h0M467 311h0M517 312h0M606 312h0M609 311h0M522 314h0M541 314h0M437 315h0M556 318h0M498 320h0M539 319h0M565 320h0M614 320h0M570 321h0M436 327h0M479 329h0M521 329h0M440 331h0M576 334h0M482 338h0M604 337h0M558 343h0M577 344h0M466 346h0M581 345h0M505 348h0M482 349h0M596 349h0M617 350h0M459 353h0M528 356h0M453 358h0M569 358h0M495 360h0M479 361h0M514 367h0M452 368h0M565 368h0M512 371h0M565 375h0M479 376h0M482 378h0M453 379h0M469 383h0M490 387h0M564 385h0M467 391h0M480 394h0M484 393h0M501 395h0M602 395h0M606 396h0M469 398h0M523 400h0M559 401h0M521 402h0M568 401h0M596 407h0M605 413h0M454 419h0M516 418h0M494 421h0M508 422h0M469 425h0M544 424h0M551 427h0M559 427h0M529 441h0M456 442h0M501 442h0M488 444h0M553 443h0M529 447h0M509 454h0M525 457h0M524 459h0M488 462h0M497 465h0M486 467h0M512 478h0M501 480h0M531 480h0M509 482h0M498 483h0M518 486h0M516 495h0" stroke="#6a2cb0"/><path d="M512 139h0M504 150h0M516 152h0M494 158h0M495 162h0M556 162h0M559 165h0M562 167h0M525 170h0M533 174h0M482 181h0M518 183h0M555 184h0M531 186h0M497 197h0M546 196h0M497 197h0M499 209h0M533 217h0M471 219h0M513 219h0M588 217h0M552 220h0M575 221h0M547 223h0M446 227h0M447 228h0M512 228h0M529 227h0M446 230h0M553 229h0M591 229h0M586 235h0M470 238h0M487 237h0M521 241h0M525 241h0M564 241h0M570 243h0M451 247h0M521 247h0M595 251h0M525 253h0M483 258h0M480 262h0M517 262h0M603 262h0M606 261h0M570 271h0M437 277h0M501 277h0M562 278h0M536 281h0M577 282h0M526 285h0M605 287h0M451 293h0M463 293h0M532 291h0M552 291h0M520 293h0M479 301h0M482 302h0M606 301h0M581 305h0M612 307h0M487 309h0M510 308h0M489 312h0M561 313h0M562 313h0M462 316h0M569 315h0M631 316h0M444 323h0M519 324h0M552 329h0M553 332h0M558 333h0M591 331h0M437 334h0M522 333h0M456 336h0M531 339h0M556 340h0M607 344h0M598 346h0M602 347h0M602 346h0M538 347h0M472 350h0M620 349h0M469 352h0M589 354h0M511 358h0M533 362h0M491 365h0M602 367h0M472 369h0M606 371h0M556 371h0M476 374h0M499 373h0M517 373h0M466 377h0M526 375h0M523 378h0M456 380h0M599 383h0M451 387h0M562 392h0M503 394h0M439 396h0M526 399h0M589 401h0M496 406h0M484 422h0M572 423h0M491 425h0M561 429h0M567 428h0M501 435h0M473 440h0M547 441h0M549 447h0M501 447h0M526 457h0M475 460h0M478 468h0M523 467h0M549 471h0M527 472h0M486 482h0M505 483h0M502 486h0M506 492h0" stroke="#c22080"/><path d="M474 107h0M475 118h0M483 122h0M501 137h0M524 135h0M522 144h0M482 146h0M552 149h0M555 150h0M557 151h0M503 151h0M500 154h0M515 159h0M487 160h0M498 160h0M496 162h0M514 163h0M553 162h0M507 164h0M570 164h0M469 167h0M571 169h0M502 170h0M491 173h0M505 171h0M574 174h0M510 175h0M534 176h0M549 176h0M538 178h0M551 178h0M486 179h0M497 179h0M508 179h0M554 183h0M573 181h0M552 184h0M506 188h0M583 188h0M478 193h0M567 195h0M581 194h0M462 196h0M559 198h0M543 201h0M505 202h0M480 205h0M495 204h0M522 205h0M529 205h0M493 205h0M532 206h0M574 206h0M468 209h0M508 208h0M499 213h0M494 216h0M526 216h0M491 219h0M592 220h0M453 221h0M556 224h0M471 226h0M482 226h0M482 226h0M511 226h0M452 229h0M507 228h0M614 229h0M583 229h0M451 232h0M546 233h0M472 233h0M539 235h0M522 235h0M553 237h0M578 236h0M586 235h0M495 237h0M591 238h0M532 240h0M465 241h0M580 241h0M467 244h0M541 245h0M496 245h0M503 248h0M513 249h0M598 247h0M609 249h0M455 249h0M467 251h0M486 250h0M548 250h0M560 250h0M572 250h0M453 252h0M505 253h0M564 253h0M577 252h0M446 253h0M475 254h0M535 255h0M573 254h0M585 254h0M543 255h0M591 256h0M557 259h0M597 258h0M473 260h0M511 260h0M565 261h0M448 262h0M542 262h0M555 262h0M457 265h0M540 268h0M450 269h0M482 270h0M450 272h0M493 272h0M453 275h0M541 274h0M479 277h0M490 276h0M492 276h0M490 278h0M550 277h0M569 279h0M515 281h0M539 281h0M605 279h0M589 283h0M515 284h0M568 285h0M601 285h0M472 288h0M503 288h0M513 291h0M567 292h0M450 293h0M522 294h0M459 296h0M517 297h0M549 296h0M559 297h0M586 297h0M625 297h0M551 297h0M604 298h0M482 301h0M493 300h0M507 303h0M505 305h0M511 306h0M519 306h0M591 306h0M448 307h0M490 308h0M562 309h0M580 307h0M453 311h0M467 311h0M517 309h0M574 309h0M578 312h0M502 314h0M497 317h0M565 316h0M577 315h0M537 317h0M544 319h0M569 318h0M437 319h0M470 320h0M448 322h0M535 322h0M585 323h0M524 325h0M617 325h0M438 326h0M582 326h0M618 327h0M521 328h0M448 329h0M453 332h0M542 331h0M542 332h0M551 332h0M527 334h0M610 335h0M572 336h0M564 338h0M594 337h0M462 339h0M475 340h0M477 339h0M542 341h0M500 342h0M544 341h0M549 342h0M485 345h0M494 343h0M578 343h0M477 346h0M513 346h0M530 347h0M603 346h0M565 347h0M456 351h0M472 350h0M523 349h0M592 351h0M452 353h0M524 352h0M537 353h0M595 352h0M442 355h0M533 354h0M577 355h0M608 355h0M511 357h0M551 357h0M566 357h0M614 357h0M500 358h0M554 358h0M561 359h0M572 359h0M452 361h0M558 361h0M573 360h0M605 360h0M504 361h0M552 362h0M504 366h0M603 365h0M445 368h0M474 368h0M471 370h0M481 369h0M549 370h0M622 371h0M441 375h0M595 374h0M439 377h0M579 377h0M518 379h0M536 378h0M454 382h0M460 382h0M523 383h0M550 381h0M449 383h0M475 384h0M602 383h0M602 385h0M445 386h0M494 385h0M539 387h0M550 385h0M558 387h0M593 385h0M437 387h0M502 389h0M506 389h0M524 390h0M577 390h0M556 394h0M579 395h0M442 396h0M491 397h0M541 395h0M541 395h0M453 399h0M566 398h0M574 399h0M550 400h0M593 401h0M557 403h0M506 405h0M456 406h0M522 406h0M511 409h0M495 416h0M510 416h0M524 416h0M567 415h0M588 417h0M510 417h0M540 418h0M476 420h0M518 420h0M510 422h0M521 421h0M534 422h0M554 424h0M509 427h0M510 428h0M568 428h0M544 431h0M564 430h0M571 430h0M510 433h0M556 432h0M496 435h0M555 435h0M452 438h0M502 437h0M506 439h0M521 440h0M569 441h0M550 444h0M574 445h0M490 445h0M494 447h0M563 445h0M539 448h0M534 449h0M473 458h0M509 458h0M539 459h0M469 463h0M511 464h0M511 464h0M459 467h0M459 468h0M507 469h0M508 467h0M523 468h0M514 470h0M504 473h0M459 475h0M525 477h0M519 480h0M529 483h0M470 487h0M521 487h0M474 490h0M511 491h0M497 493h0M476 500h0M500 502h0M479 507h0" stroke="#e0202e"/><path d="M481 121h0M542 145h0M502 146h0M472 149h0M513 151h0M498 159h0M468 162h0M534 162h0M556 163h0M579 180h0M480 185h0M556 183h0M556 192h0M569 192h0M477 194h0M485 202h0M513 205h0M495 208h0M461 212h0M491 211h0M529 211h0M501 214h0M565 216h0M590 220h0M576 224h0M457 228h0M538 234h0M590 234h0M532 235h0M451 238h0M592 237h0M473 240h0M568 245h0M483 248h0M478 254h0M594 254h0M590 256h0M494 261h0M460 262h0M570 262h0M587 261h0M485 265h0M478 269h0M611 270h0M507 273h0M521 271h0M512 273h0M517 275h0M545 280h0M557 285h0M615 287h0M458 289h0M541 290h0M437 293h0M590 295h0M457 299h0M494 305h0M477 306h0M540 307h0M476 311h0M511 311h0M574 313h0M494 316h0M534 316h0M618 323h0M447 325h0M482 324h0M554 325h0M517 328h0M542 327h0M553 329h0M525 329h0M527 331h0M490 335h0M490 337h0M520 342h0M619 343h0M492 348h0M553 348h0M591 348h0M523 352h0M463 355h0M502 354h0M624 353h0M538 356h0M594 366h0M612 365h0M534 367h0M563 370h0M602 369h0M505 372h0M600 373h0M513 375h0M615 374h0M512 377h0M592 375h0M488 379h0M448 381h0M584 380h0M594 381h0M493 383h0M603 389h0M464 392h0M447 395h0M503 394h0M554 394h0M474 396h0M488 396h0M475 399h0M492 400h0M514 406h0M462 408h0M560 408h0M600 411h0M548 412h0M596 413h0M516 417h0M578 418h0M568 420h0M501 421h0M501 426h0M557 427h0M590 428h0M478 430h0M510 435h0M456 435h0M457 439h0M480 440h0M519 445h0M532 450h0M462 461h0M523 479h0M479 485h0M530 485h0M525 489h0M495 498h0M483 501h0M485 500h0M499 505h0" stroke="#f08020"/><path d="M491 106h0M476 115h0M475 123h0M484 122h0M470 125h0M518 135h0M518 143h0M466 145h0M534 146h0M544 146h0M518 149h0M507 151h0M516 158h0M553 157h0M475 163h0M529 163h0M496 165h0M524 164h0M521 166h0M553 167h0M570 167h0M482 170h0M503 170h0M522 170h0M537 170h0M462 174h0M492 174h0M574 174h0M502 176h0M504 175h0M490 179h0M511 179h0M539 181h0M516 182h0M542 182h0M514 183h0M521 184h0M566 185h0M568 185h0M540 185h0M553 186h0M552 189h0M571 188h0M469 190h0M492 190h0M546 190h0M503 193h0M508 193h0M529 202h0M584 201h0M585 204h0M457 206h0M518 206h0M555 209h0M502 209h0M487 212h0M494 211h0M531 213h0M572 213h0M464 214h0M478 213h0M488 214h0M511 214h0M453 216h0M609 216h0M460 218h0M503 218h0M540 219h0M455 223h0M488 221h0M529 222h0M493 224h0M578 224h0M566 225h0M494 231h0M514 232h0M545 233h0M570 233h0M531 235h0M496 236h0M491 237h0M454 240h0M477 240h0M500 239h0M544 240h0M564 240h0M471 242h0M472 242h0M549 242h0M476 244h0M528 245h0M450 248h0M456 249h0M569 247h0M591 249h0M474 252h0M506 252h0M583 252h0M504 255h0M515 256h0M533 256h0M539 256h0M543 255h0M485 259h0M511 258h0M518 258h0M449 259h0M452 259h0M480 260h0M574 260h0M586 261h0M590 259h0M450 261h0M598 261h0M606 261h0M607 262h0M487 263h0M487 264h0M490 264h0M562 264h0M463 267h0M486 265h0M501 267h0M520 266h0M555 267h0M560 268h0M512 270h0M557 271h0M579 270h0M583 271h0M468 271h0M516 272h0M544 271h0M553 275h0M556 275h0M529 276h0M501 278h0M544 279h0M444 281h0M494 279h0M507 283h0M513 282h0M535 283h0M606 283h0M620 282h0M454 284h0M491 284h0M610 284h0M472 286h0M489 285h0M497 285h0M555 286h0M566 286h0M567 286h0M597 287h0M485 287h0M493 289h0M573 288h0M612 289h0M510 290h0M526 289h0M602 291h0M479 292h0M471 294h0M569 293h0M604 294h0M564 298h0M490 300h0M491 301h0M541 299h0M547 299h0M559 300h0M578 301h0M503 301h0M541 301h0M516 304h0M554 304h0M562 303h0M564 305h0M606 304h0M596 307h0M458 308h0M549 308h0M572 308h0M594 308h0M452 309h0M472 309h0M543 309h0M497 312h0M503 312h0M587 312h0M501 314h0M496 315h0M627 315h0M614 318h0M608 319h0M611 319h0M440 323h0M441 322h0M485 321h0M592 322h0M475 325h0M519 325h0M531 325h0M555 325h0M439 328h0M519 328h0M540 329h0M436 333h0M469 332h0M515 332h0M553 331h0M559 332h0M611 336h0M458 338h0M469 338h0M504 337h0M538 338h0M544 338h0M588 338h0M473 342h0M478 343h0M586 341h0M607 342h0M456 343h0M531 345h0M598 344h0M473 346h0M505 346h0M582 347h0M538 349h0M610 351h0M443 353h0M472 353h0M491 351h0M451 355h0M464 354h0M516 353h0M573 354h0M522 356h0M536 358h0M568 358h0M474 363h0M485 362h0M514 362h0M561 363h0M574 363h0M583 361h0M440 364h0M599 365h0M484 366h0M596 367h0M513 367h0M521 368h0M577 368h0M570 371h0M585 370h0M483 371h0M491 371h0M503 371h0M548 372h0M576 372h0M479 374h0M526 373h0M569 375h0M513 375h0M526 376h0M529 376h0M530 377h0M542 376h0M608 377h0M463 378h0M473 378h0M502 378h0M535 378h0M572 377h0M579 378h0M601 378h0M506 382h0M550 382h0M567 382h0M574 382h0M481 383h0M520 384h0M558 385h0M559 384h0M597 386h0M446 388h0M448 388h0M465 387h0M495 388h0M544 387h0M579 387h0M465 390h0M488 391h0M489 391h0M550 391h0M566 391h0M610 390h0M586 392h0M575 394h0M468 397h0M489 398h0M560 397h0M452 400h0M507 400h0M464 403h0M505 404h0M508 405h0M533 408h0M562 408h0M607 408h0M470 410h0M477 411h0M586 410h0M487 412h0M526 411h0M458 415h0M545 414h0M499 416h0M505 416h0M476 418h0M493 419h0M538 419h0M547 426h0M583 426h0M482 427h0M498 428h0M535 428h0M564 428h0M560 430h0M578 431h0M481 432h0M556 435h0M566 433h0M501 437h0M522 446h0M577 445h0M456 448h0M525 448h0M547 447h0M557 448h0M500 450h0M538 449h0M503 451h0M454 454h0M456 454h0M556 460h0M543 464h0M460 465h0M507 467h0M480 469h0M515 470h0M507 472h0M506 480h0M534 481h0M519 484h0M524 483h0M530 486h0M475 493h0M523 492h0M498 496h0" stroke="#eadf22"/><path d="M484 116h0M490 120h0M496 136h0M539 138h0M544 145h0M512 153h0M559 154h0M517 161h0M541 159h0M542 161h0M513 162h0M499 164h0M511 167h0M519 170h0M500 171h0M505 173h0M529 172h0M559 172h0M490 174h0M543 175h0M497 176h0M563 176h0M548 179h0M508 183h0M562 182h0M572 184h0M577 184h0M459 185h0M536 188h0M500 191h0M546 193h0M475 197h0M523 197h0M456 202h0M469 203h0M469 203h0M460 207h0M486 206h0M512 206h0M585 205h0M462 209h0M466 208h0M466 208h0M498 208h0M565 211h0M567 212h0M536 213h0M541 215h0M512 216h0M589 217h0M545 219h0M560 218h0M583 220h0M505 222h0M590 226h0M540 228h0M543 228h0M557 228h0M477 229h0M490 229h0M498 229h0M461 234h0M536 237h0M549 242h0M588 242h0M507 245h0M555 246h0M577 246h0M458 248h0M482 247h0M552 250h0M564 250h0M577 249h0M494 251h0M464 256h0M466 255h0M470 256h0M479 256h0M535 257h0M544 257h0M476 260h0M603 260h0M533 265h0M546 263h0M606 264h0M522 267h0M472 268h0M490 270h0M565 270h0M545 272h0M580 273h0M439 273h0M440 278h0M518 282h0M529 282h0M562 282h0M590 282h0M473 284h0M576 284h0M566 286h0M569 287h0M535 290h0M559 293h0M549 295h0M452 296h0M459 296h0M464 296h0M482 296h0M543 297h0M445 299h0M581 299h0M491 302h0M553 306h0M451 308h0M473 311h0M586 311h0M597 311h0M504 312h0M555 313h0M460 316h0M458 319h0M483 318h0M532 318h0M553 321h0M474 325h0M447 325h0M470 327h0M604 327h0M458 329h0M611 329h0M493 335h0M507 337h0M518 337h0M519 339h0M607 340h0M537 346h0M616 349h0M440 351h0M514 351h0M617 352h0M471 354h0M496 355h0M522 355h0M567 356h0M473 358h0M491 357h0M511 358h0M498 359h0M599 359h0M521 365h0M528 363h0M620 366h0M576 370h0M452 372h0M544 373h0M599 375h0M458 379h0M498 380h0M510 381h0M562 380h0M450 382h0M530 383h0M531 381h0M478 392h0M613 392h0M533 394h0M574 394h0M517 397h0M519 399h0M534 399h0M561 401h0M611 400h0M521 405h0M525 408h0M541 411h0M567 416h0M467 418h0M499 417h0M480 420h0M579 420h0M593 422h0M445 423h0M582 425h0M583 424h0M568 425h0M582 425h0M510 429h0M584 431h0M510 432h0M512 432h0M585 437h0M563 439h0M503 440h0M550 443h0M509 449h0M559 448h0M518 451h0M459 459h0M561 458h0M456 459h0M550 461h0M505 465h0M495 468h0M463 469h0M526 472h0M487 475h0M515 484h0M483 506h0" stroke="#a8d432"/><path d="M544 139h0M532 141h0M545 160h0M508 169h0M563 170h0M525 172h0M560 172h0M484 173h0M526 175h0M472 182h0M574 181h0M503 184h0M524 187h0M496 201h0M580 202h0M588 203h0M495 206h0M556 207h0M584 208h0M497 211h0M579 210h0M461 217h0M475 219h0M597 221h0M593 221h0M542 225h0M507 235h0M548 233h0M527 239h0M602 240h0M536 241h0M570 247h0M449 252h0M514 252h0M550 255h0M524 258h0M520 260h0M537 259h0M480 263h0M556 267h0M558 267h0M487 271h0M507 270h0M463 272h0M524 272h0M513 275h0M630 279h0M526 279h0M537 284h0M461 288h0M449 290h0M554 291h0M562 294h0M473 296h0M473 296h0M503 297h0M534 299h0M590 297h0M528 303h0M569 301h0M461 305h0M460 307h0M542 308h0M540 310h0M593 311h0M455 317h0M463 318h0M488 318h0M507 317h0M465 319h0M471 320h0M556 320h0M604 322h0M461 323h0M486 325h0M578 323h0M553 325h0M581 328h0M481 331h0M628 330h0M559 334h0M613 334h0M511 337h0M614 338h0M618 337h0M550 339h0M608 341h0M585 345h0M554 346h0M449 348h0M571 347h0M583 354h0M617 354h0M452 363h0M456 364h0M525 363h0M501 365h0M524 367h0M542 368h0M557 367h0M447 371h0M588 369h0M512 373h0M587 371h0M591 371h0M599 371h0M463 374h0M576 375h0M614 374h0M466 376h0M545 380h0M558 382h0M592 381h0M582 385h0M518 388h0M524 388h0M498 392h0M470 394h0M522 393h0M584 400h0M540 401h0M556 404h0M482 408h0M489 411h0M539 412h0M487 415h0M588 424h0M514 445h0M562 451h0M477 460h0M522 459h0M514 465h0M545 474h0M534 483h0" stroke="#4cb440"/><path d="M473 133h0M516 136h0M499 142h0M496 147h0M479 148h0M530 147h0M506 149h0M537 153h0M503 170h0M567 186h0M533 193h0M578 193h0M524 201h0M479 204h0M497 210h0M500 211h0M449 218h0M451 220h0M555 225h0M464 232h0M488 239h0M551 240h0M450 241h0M455 241h0M494 241h0M555 248h0M466 253h0M542 253h0M568 257h0M585 261h0M499 264h0M524 263h0M526 265h0M540 265h0M476 267h0M526 270h0M476 272h0M484 271h0M487 273h0M605 272h0M518 275h0M506 277h0M568 279h0M446 281h0M553 283h0M462 283h0M528 284h0M557 283h0M599 287h0M509 289h0M542 291h0M575 293h0M598 293h0M489 305h0M460 306h0M554 306h0M491 307h0M527 313h0M531 315h0M563 315h0M621 317h0M568 319h0M494 325h0M555 328h0M456 329h0M540 331h0M455 333h0M475 333h0M499 333h0M473 334h0M599 336h0M476 345h0M523 343h0M617 343h0M439 347h0M459 353h0M541 359h0M598 358h0M462 364h0M536 363h0M548 367h0M476 367h0M457 379h0M610 379h0M485 384h0M502 384h0M495 390h0M492 394h0M514 397h0M545 398h0M460 401h0M543 400h0M594 400h0M582 406h0M583 413h0M602 412h0M577 414h0M539 418h0M568 424h0M496 425h0M517 425h0M575 427h0M482 428h0M546 440h0M560 444h0M482 448h0M528 452h0M534 454h0M531 464h0M493 468h0M500 472h0M502 472h0M499 474h0M516 476h0M506 479h0M519 478h0M509 479h0M487 503h0" stroke="#3a44c0"/><path d="M490 126h0M473 128h0M485 130h0M532 138h0M510 140h0M464 153h0M556 163h0M569 166h0M552 169h0M491 172h0M463 175h0M481 178h0M567 181h0M499 182h0M516 182h0M515 185h0M556 184h0M578 184h0M515 186h0M530 188h0M496 191h0M511 193h0M540 191h0M570 193h0M460 199h0M459 203h0M556 206h0M522 208h0M588 209h0M463 214h0M498 215h0M546 217h0M463 221h0M509 223h0M450 227h0M457 226h0M518 228h0M615 228h0M456 235h0M568 234h0M598 235h0M491 237h0M562 239h0M534 242h0M465 243h0M478 243h0M486 244h0M482 245h0M544 245h0M596 246h0M465 247h0M468 247h0M531 248h0M542 247h0M495 253h0M597 253h0M512 255h0M445 259h0M491 259h0M508 261h0M586 261h0M457 264h0M590 264h0M440 265h0M482 266h0M516 266h0M536 266h0M601 267h0M604 269h0M439 269h0M592 271h0M454 272h0M477 277h0M487 278h0M572 278h0M454 280h0M530 280h0M538 280h0M594 282h0M531 285h0M446 288h0M504 290h0M534 291h0M593 289h0M572 291h0M490 294h0M528 293h0M534 297h0M604 297h0M480 297h0M562 302h0M584 302h0M602 302h0M436 304h0M520 310h0M602 314h0M463 317h0M467 317h0M536 315h0M600 316h0M532 319h0M610 319h0M606 320h0M435 325h0M596 327h0M504 327h0M494 330h0M587 330h0M446 334h0M542 334h0M475 336h0M586 339h0M589 338h0M459 341h0M544 340h0M506 343h0M560 345h0M544 345h0M447 348h0M471 348h0M517 354h0M473 356h0M480 355h0M511 359h0M572 357h0M480 360h0M496 360h0M506 360h0M568 361h0M471 361h0M517 361h0M588 361h0M525 365h0M507 368h0M513 369h0M523 369h0M616 369h0M461 370h0M471 371h0M471 371h0M463 375h0M601 374h0M458 377h0M492 379h0M494 378h0M607 379h0M581 382h0M459 384h0M550 387h0M568 387h0M580 388h0M484 391h0M537 391h0M570 391h0M600 391h0M445 394h0M475 394h0M498 396h0M547 396h0M444 398h0M603 400h0M550 402h0M602 406h0M445 409h0M531 407h0M574 411h0M564 415h0M577 415h0M521 416h0M547 416h0M561 417h0M533 418h0M575 418h0M496 421h0M516 424h0M514 427h0M499 433h0M537 435h0M565 438h0M521 442h0M524 443h0M535 463h0M541 467h0M484 472h0M470 485h0M500 491h0M520 492h0M504 497h0" stroke="#6a2cb0"/><path d="M495 105h0M547 145h0M546 149h0M534 156h0M494 162h0M499 161h0M490 175h0M495 179h0M539 180h0M516 185h0M564 189h0M532 190h0M506 197h0M532 197h0M562 199h0M458 202h0M556 205h0M584 207h0M495 210h0M559 216h0M492 220h0M521 220h0M540 219h0M485 224h0M554 226h0M581 228h0M498 232h0M506 236h0M543 236h0M510 240h0M603 245h0M604 249h0M559 255h0M507 261h0M468 265h0M562 265h0M551 272h0M564 277h0M565 278h0M581 277h0M504 288h0M536 287h0M530 289h0M495 299h0M584 306h0M496 310h0M610 311h0M440 312h0M602 313h0M488 313h0M499 316h0M503 316h0M489 318h0M602 319h0M615 322h0M592 328h0M507 332h0M614 333h0M618 342h0M539 343h0M510 346h0M471 347h0M598 354h0M604 358h0M482 364h0M457 376h0M492 381h0M575 380h0M524 381h0M555 382h0M523 384h0M619 384h0M562 390h0M577 391h0M581 393h0M477 395h0M456 399h0M607 402h0M576 410h0M581 410h0M513 412h0M527 413h0M604 411h0M571 421h0M579 424h0M507 432h0M514 434h0M587 435h0M576 441h0M558 444h0M533 453h0M511 458h0M546 459h0M553 462h0M505 463h0M529 473h0M497 476h0M501 504h0" stroke="#c22080"/><path d="M494 106h0M495 110h0M491 124h0M511 134h0M505 136h0M512 140h0M522 141h0M487 142h0M504 145h0M541 144h0M479 145h0M547 146h0M528 149h0M532 149h0M553 148h0M479 152h0M510 152h0M471 157h0M545 156h0M555 157h0M555 164h0M503 166h0M555 165h0M510 169h0M515 171h0M520 171h0M530 173h0M560 173h0M463 175h0M524 178h0M532 179h0M541 179h0M485 179h0M493 180h0M531 181h0M497 181h0M550 182h0M534 183h0M556 186h0M561 188h0M572 189h0M487 191h0M545 193h0M582 195h0M585 196h0M502 198h0M540 198h0M568 198h0M578 199h0M483 200h0M527 203h0M532 203h0M554 202h0M577 203h0M591 205h0M543 206h0M464 209h0M470 208h0M473 207h0M454 209h0M464 209h0M486 210h0M496 209h0M472 212h0M481 212h0M509 211h0M540 212h0M567 212h0M489 215h0M501 216h0M534 215h0M563 217h0M456 221h0M563 221h0M566 221h0M567 222h0M554 224h0M572 224h0M598 224h0M472 227h0M518 227h0M577 228h0M455 231h0M505 233h0M547 233h0M565 234h0M596 236h0M602 235h0M610 237h0M503 237h0M505 239h0M505 241h0M514 241h0M574 243h0M454 243h0M466 244h0M517 244h0M491 247h0M508 246h0M590 246h0M478 250h0M540 250h0M566 250h0M469 253h0M540 251h0M585 253h0M470 253h0M476 254h0M479 255h0M509 253h0M439 257h0M439 257h0M461 255h0M498 257h0M513 255h0M514 256h0M577 256h0M570 257h0M572 258h0M463 260h0M470 260h0M551 259h0M582 260h0M568 262h0M535 267h0M629 266h0M468 268h0M511 269h0M536 267h0M464 270h0M474 270h0M477 271h0M493 270h0M501 270h0M623 271h0M457 272h0M466 272h0M488 272h0M583 272h0M607 272h0M508 278h0M530 278h0M533 277h0M596 279h0M597 278h0M516 280h0M522 280h0M581 279h0M466 281h0M513 282h0M600 283h0M610 282h0M464 285h0M558 283h0M485 286h0M498 285h0M542 286h0M577 285h0M586 285h0M610 286h0M438 289h0M537 288h0M579 287h0M467 291h0M473 290h0M505 290h0M514 289h0M518 291h0M519 291h0M604 293h0M517 294h0M476 295h0M523 296h0M553 295h0M569 296h0M578 296h0M602 296h0M515 299h0M558 298h0M583 298h0M585 297h0M495 300h0M605 300h0M609 300h0M528 303h0M529 302h0M582 302h0M600 302h0M499 304h0M447 306h0M475 307h0M484 307h0M439 307h0M463 308h0M485 309h0M435 312h0M437 312h0M509 312h0M532 313h0M543 312h0M547 312h0M575 311h0M454 316h0M459 315h0M546 315h0M554 318h0M579 317h0M583 319h0M614 319h0M473 322h0M475 321h0M486 323h0M598 324h0M472 326h0M555 325h0M570 325h0M604 325h0M612 326h0M501 328h0M557 327h0M524 329h0M611 330h0M605 332h0M575 334h0M604 334h0M610 333h0M493 336h0M627 337h0M436 340h0M478 340h0M493 341h0M545 341h0M545 339h0M562 340h0M573 341h0M576 340h0M614 340h0M460 343h0M493 342h0M539 342h0M549 341h0M578 341h0M524 343h0M531 344h0M596 344h0M529 346h0M584 345h0M455 348h0M554 347h0M464 351h0M490 350h0M518 351h0M559 351h0M610 350h0M436 352h0M496 351h0M515 353h0M549 353h0M593 355h0M616 354h0M502 355h0M516 356h0M554 357h0M612 356h0M436 358h0M564 362h0M590 362h0M602 363h0M553 363h0M490 367h0M547 365h0M590 366h0M449 368h0M496 367h0M611 368h0M519 370h0M546 371h0M483 372h0M589 375h0M603 378h0M445 380h0M486 380h0M595 380h0M547 381h0M452 383h0M553 386h0M587 386h0M449 387h0M480 388h0M474 389h0M476 390h0M550 390h0M556 389h0M589 393h0M464 396h0M523 395h0M523 397h0M460 398h0M534 399h0M592 398h0M497 399h0M594 399h0M594 399h0M463 404h0M550 403h0M541 406h0M595 408h0M529 410h0M550 409h0M558 409h0M442 413h0M441 415h0M536 413h0M565 415h0M579 415h0M602 415h0M492 415h0M501 417h0M460 420h0M531 421h0M539 420h0M446 422h0M554 422h0M571 422h0M548 424h0M446 427h0M504 425h0M558 427h0M559 428h0M531 429h0M501 432h0M549 433h0M466 433h0M518 434h0M579 434h0M585 434h0M528 436h0M534 437h0M552 438h0M474 441h0M508 439h0M454 443h0M546 442h0M500 444h0M497 447h0M500 448h0M536 448h0M539 450h0M492 454h0M538 456h0M467 459h0M484 459h0M533 460h0M560 459h0M542 464h0M469 465h0M535 467h0M508 470h0M515 470h0M524 470h0M525 471h0M484 474h0M525 473h0M473 478h0M501 479h0M518 483h0M492 490h0M496 494h0M505 495h0M470 502h0" stroke="#e0202e"/><path d="M475 110h0M494 137h0M511 138h0M514 137h0M528 138h0M479 142h0M543 142h0M515 144h0M560 154h0M504 157h0M528 156h0M541 167h0M471 168h0M473 171h0M544 175h0M486 181h0M521 181h0M531 184h0M518 198h0M541 200h0M551 205h0M480 205h0M467 217h0M558 219h0M549 223h0M494 223h0M501 226h0M583 226h0M572 228h0M587 231h0M476 232h0M577 232h0M496 237h0M558 241h0M540 245h0M528 249h0M533 250h0M545 250h0M472 254h0M528 255h0M578 259h0M454 260h0M586 260h0M493 262h0M560 267h0M462 271h0M573 270h0M443 273h0M495 274h0M439 281h0M583 282h0M560 283h0M512 287h0M585 287h0M610 287h0M605 295h0M501 296h0M612 295h0M473 298h0M506 297h0M456 301h0M531 301h0M504 302h0M543 302h0M503 305h0M449 307h0M439 311h0M464 312h0M497 313h0M556 319h0M461 322h0M581 325h0M458 326h0M520 327h0M568 327h0M437 328h0M498 327h0M538 329h0M611 328h0M444 331h0M541 331h0M461 333h0M511 335h0M451 340h0M472 341h0M573 342h0M601 342h0M619 346h0M506 348h0M604 348h0M440 349h0M514 350h0M548 352h0M607 352h0M561 358h0M612 357h0M565 360h0M533 366h0M572 366h0M538 369h0M541 369h0M476 370h0M538 371h0M560 374h0M610 377h0M506 378h0M548 380h0M575 380h0M541 385h0M569 386h0M440 391h0M441 390h0M518 391h0M521 390h0M468 391h0M503 394h0M530 393h0M536 396h0M554 398h0M565 402h0M602 406h0M569 411h0M501 420h0M570 420h0M524 422h0M486 425h0M505 428h0M550 434h0M575 436h0M546 443h0M571 451h0M512 453h0M564 457h0M505 460h0M522 462h0M499 466h0M478 469h0M494 478h0M528 479h0M509 486h0M509 495h0M481 497h0M502 495h0" stroke="#f08020"/><path d="M482 118h0M507 135h0M502 139h0M515 141h0M531 150h0M510 153h0M520 153h0M527 153h0M555 155h0M493 161h0M514 161h0M530 159h0M522 162h0M563 162h0M496 165h0M561 167h0M484 174h0M574 174h0M519 176h0M541 177h0M548 178h0M514 183h0M515 182h0M547 182h0M575 181h0M580 184h0M510 186h0M579 187h0M493 188h0M571 190h0M477 192h0M551 191h0M579 192h0M562 194h0M567 194h0M539 197h0M463 197h0M588 197h0M532 199h0M586 201h0M537 205h0M552 207h0M463 218h0M470 217h0M458 219h0M567 220h0M571 219h0M455 222h0M590 222h0M459 223h0M584 226h0M469 227h0M500 228h0M457 229h0M491 229h0M532 229h0M537 230h0M561 232h0M566 231h0M569 234h0M453 236h0M493 240h0M504 241h0M572 240h0M594 239h0M586 242h0M477 244h0M490 245h0M527 245h0M561 243h0M512 247h0M530 246h0M446 250h0M490 249h0M468 254h0M493 254h0M594 253h0M467 256h0M517 256h0M550 257h0M569 256h0M595 257h0M452 260h0M511 259h0M595 261h0M464 263h0M492 261h0M565 262h0M575 262h0M563 263h0M473 267h0M438 269h0M479 267h0M492 267h0M536 269h0M603 267h0M604 268h0M613 268h0M613 270h0M537 272h0M469 277h0M474 278h0M474 279h0M482 279h0M526 278h0M503 280h0M557 279h0M567 280h0M480 283h0M535 283h0M560 281h0M610 282h0M551 285h0M609 283h0M610 286h0M449 288h0M538 288h0M606 288h0M462 290h0M541 290h0M488 291h0M543 291h0M467 294h0M495 295h0M521 295h0M504 296h0M504 297h0M543 297h0M502 299h0M594 299h0M446 300h0M518 300h0M572 299h0M485 301h0M599 303h0M459 305h0M472 306h0M525 306h0M526 306h0M532 307h0M540 305h0M548 306h0M506 307h0M494 309h0M540 311h0M476 311h0M526 312h0M560 312h0M481 314h0M513 314h0M554 313h0M578 314h0M581 314h0M575 315h0M466 319h0M583 319h0M564 320h0M534 323h0M614 321h0M474 324h0M501 325h0M514 323h0M480 326h0M457 327h0M520 329h0M617 330h0M628 331h0M438 332h0M527 335h0M554 334h0M559 335h0M575 335h0M589 335h0M504 337h0M491 337h0M529 338h0M563 337h0M596 338h0M527 341h0M618 342h0M492 344h0M525 344h0M568 344h0M578 345h0M581 345h0M460 345h0M571 348h0M613 350h0M585 353h0M600 352h0M601 353h0M445 354h0M445 353h0M491 353h0M555 355h0M440 357h0M486 356h0M507 357h0M563 356h0M612 357h0M546 358h0M549 357h0M551 357h0M561 359h0M580 360h0M447 363h0M542 363h0M603 363h0M455 365h0M580 365h0M451 365h0M475 365h0M551 366h0M452 369h0M462 368h0M533 367h0M563 367h0M444 370h0M512 370h0M583 371h0M584 370h0M592 369h0M478 371h0M495 372h0M619 374h0M455 377h0M554 375h0M523 380h0M580 379h0M586 381h0M485 382h0M517 382h0M524 383h0M527 381h0M562 383h0M609 383h0M455 385h0M544 384h0M454 386h0M560 387h0M565 388h0M583 389h0M497 390h0M504 391h0M579 390h0M478 391h0M497 391h0M525 392h0M530 392h0M588 393h0M506 394h0M439 396h0M504 396h0M569 397h0M556 398h0M464 400h0M517 399h0M566 400h0M595 400h0M494 401h0M553 406h0M603 405h0M466 408h0M482 408h0M506 410h0M564 410h0M571 410h0M566 418h0M442 422h0M495 424h0M518 425h0M530 428h0M548 428h0M566 433h0M460 434h0M553 434h0M499 438h0M530 437h0M538 439h0M546 437h0M562 438h0M513 439h0M488 442h0M533 441h0M544 441h0M471 445h0M511 445h0M529 444h0M542 444h0M565 446h0M495 447h0M511 448h0M511 447h0M502 450h0M555 451h0M500 453h0M517 451h0M500 454h0M506 455h0M525 455h0M530 453h0M457 455h0M518 458h0M459 459h0M558 461h0M558 462h0M531 465h0M543 464h0M548 464h0M482 466h0M515 466h0M547 468h0M464 469h0M525 473h0M500 477h0M511 477h0M529 478h0M524 482h0" stroke="#eadf22"/><path d="M477 117h0M478 124h0M536 140h0M514 146h0M499 149h0M529 151h0M498 155h0M523 159h0M562 160h0M529 163h0M525 166h0M518 168h0M498 170h0M517 178h0M536 182h0M538 185h0M463 187h0M464 185h0M507 189h0M492 192h0M481 195h0M483 195h0M510 198h0M550 198h0M556 201h0M568 201h0M456 205h0M561 206h0M455 208h0M574 211h0M529 216h0M583 220h0M507 222h0M538 222h0M466 224h0M528 224h0M451 226h0M540 227h0M608 227h0M469 228h0M519 231h0M541 234h0M497 236h0M465 238h0M540 238h0M566 238h0M594 238h0M520 240h0M545 241h0M477 244h0M465 246h0M467 250h0M569 251h0M575 249h0M598 249h0M609 250h0M454 256h0M482 256h0M531 256h0M544 259h0M588 258h0M590 258h0M480 260h0M503 260h0M465 262h0M525 263h0M575 264h0M494 266h0M606 266h0M513 268h0M601 269h0M459 271h0M461 270h0M521 270h0M537 269h0M487 277h0M543 276h0M544 275h0M588 277h0M495 282h0M458 284h0M530 284h0M538 283h0M590 284h0M453 287h0M452 287h0M492 288h0M530 289h0M608 287h0M512 292h0M610 291h0M577 293h0M451 296h0M583 297h0M556 300h0M546 302h0M504 303h0M558 305h0M485 306h0M561 307h0M460 307h0M494 312h0M572 313h0M454 313h0M471 313h0M563 314h0M484 316h0M477 319h0M532 318h0M536 318h0M483 319h0M436 322h0M469 323h0M506 329h0M527 329h0M566 332h0M504 333h0M472 336h0M498 343h0M596 344h0M517 348h0M558 348h0M562 347h0M607 349h0M587 351h0M458 353h0M536 353h0M458 355h0M476 356h0M619 357h0M542 358h0M610 359h0M500 362h0M618 363h0M549 365h0M586 367h0M564 368h0M450 369h0M466 370h0M566 370h0M588 370h0M481 374h0M553 374h0M553 375h0M457 376h0M459 379h0M528 379h0M516 383h0M555 382h0M472 386h0M505 386h0M549 387h0M525 391h0M549 392h0M564 392h0M573 391h0M575 391h0M605 395h0M526 397h0M568 400h0M584 402h0M588 403h0M584 405h0M565 408h0M577 409h0M580 408h0M458 410h0M492 413h0M543 411h0M546 412h0M561 413h0M508 414h0M509 417h0M578 417h0M593 422h0M579 424h0M463 425h0M568 428h0M502 429h0M521 430h0M537 431h0M560 433h0M553 437h0M472 439h0M573 439h0M562 443h0M574 441h0M572 444h0M552 446h0M558 447h0M518 451h0M557 450h0M497 454h0M545 454h0M490 455h0M504 455h0M498 460h0M541 472h0M519 474h0" stroke="#a8d432"/><path d="M503 135h0M518 146h0M513 149h0M517 147h0M519 148h0M522 151h0M514 157h0M508 157h0M560 159h0M515 160h0M501 163h0M557 168h0M536 171h0M488 180h0M455 198h0M563 203h0M513 205h0M562 210h0M484 211h0M500 217h0M462 219h0M513 218h0M533 222h0M471 224h0M509 228h0M547 228h0M485 236h0M500 237h0M502 236h0M583 236h0M575 250h0M542 251h0M566 253h0M581 253h0M450 254h0M579 259h0M523 267h0M523 265h0M527 266h0M561 267h0M495 269h0M529 271h0M589 269h0M498 272h0M536 272h0M570 274h0M501 277h0M460 282h0M439 284h0M478 283h0M594 284h0M445 286h0M471 286h0M559 286h0M601 287h0M611 289h0M445 296h0M509 296h0M524 298h0M472 302h0M565 305h0M525 306h0M555 306h0M604 306h0M584 315h0M598 317h0M440 317h0M591 317h0M436 320h0M504 324h0M530 323h0M546 324h0M520 326h0M563 327h0M485 331h0M587 331h0M536 334h0M593 335h0M538 340h0M604 339h0M611 339h0M537 343h0M466 344h0M572 344h0M472 345h0M518 345h0M452 350h0M443 353h0M495 367h0M532 365h0M446 371h0M553 371h0M514 372h0M551 380h0M581 380h0M582 382h0M617 382h0M568 386h0M595 386h0M599 388h0M506 390h0M547 390h0M545 398h0M581 399h0M455 401h0M536 413h0M559 412h0M599 416h0M573 421h0M564 426h0M586 427h0M506 432h0M531 434h0M558 436h0M564 437h0M508 440h0M542 441h0M470 443h0M525 447h0M495 448h0M530 447h0M467 457h0M520 457h0M500 468h0M515 470h0M498 476h0M477 494h0M473 497h0M488 500h0" stroke="#4cb440"/><path d="M536 133h0M537 141h0M498 145h0M511 151h0M542 156h0M536 160h0M491 166h0M504 172h0M556 180h0M516 184h0M527 186h0M552 189h0M572 194h0M464 197h0M521 195h0M562 196h0M585 204h0M462 207h0M468 205h0M598 207h0M537 211h0M546 214h0M477 224h0M509 224h0M482 226h0M514 230h0M588 236h0M574 237h0M478 241h0M529 240h0M471 249h0M558 251h0M597 250h0M598 254h0M526 255h0M508 258h0M517 258h0M564 260h0M604 263h0M439 267h0M512 266h0M540 268h0M552 271h0M593 271h0M452 276h0M498 282h0M489 283h0M609 285h0M493 286h0M506 294h0M440 295h0M462 302h0M464 305h0M500 304h0M533 304h0M573 305h0M587 306h0M549 310h0M549 313h0M490 321h0M532 320h0M541 320h0M437 329h0M445 339h0M602 343h0M516 344h0M541 343h0M468 345h0M507 345h0M449 349h0M610 347h0M448 352h0M474 351h0M480 354h0M586 355h0M515 357h0M610 369h0M590 371h0M554 373h0M576 372h0M446 377h0M446 378h0M483 378h0M575 379h0M519 390h0M541 389h0M545 392h0M495 395h0M466 401h0M508 400h0M504 405h0M497 406h0M484 411h0M556 413h0M548 419h0M556 421h0M481 424h0M553 425h0M471 429h0M551 432h0M557 433h0M559 433h0M503 440h0M506 442h0M515 446h0M504 457h0M513 466h0M526 468h0M531 473h0M476 475h0M498 479h0M503 490h0M513 490h0M491 509h0" stroke="#3a44c0"/><path d="M485 120h0M473 129h0M508 134h0M533 134h0M480 141h0M487 148h0M491 153h0M519 157h0M533 163h0M492 172h0M521 175h0M574 176h0M495 179h0M488 188h0M517 189h0M546 190h0M561 193h0M515 200h0M583 200h0M508 203h0M455 206h0M508 207h0M582 206h0M495 211h0M518 209h0M537 209h0M485 213h0M483 216h0M521 216h0M475 221h0M590 220h0M467 222h0M547 221h0M501 223h0M502 228h0M544 230h0M604 233h0M444 236h0M453 236h0M534 237h0M535 236h0M584 237h0M446 241h0M514 240h0M546 240h0M570 240h0M580 241h0M474 242h0M540 243h0M519 246h0M471 248h0M537 249h0M602 250h0M485 253h0M513 256h0M596 257h0M483 259h0M504 262h0M467 269h0M483 268h0M603 270h0M457 272h0M525 271h0M458 274h0M521 275h0M556 274h0M491 276h0M548 276h0M574 275h0M492 278h0M544 278h0M465 279h0M476 284h0M509 289h0M595 289h0M439 291h0M455 290h0M468 290h0M484 290h0M479 291h0M579 292h0M462 294h0M564 293h0M484 297h0M578 302h0M563 303h0M478 306h0M501 306h0M512 308h0M494 311h0M513 309h0M449 312h0M593 312h0M477 316h0M521 318h0M611 318h0M449 324h0M525 324h0M581 325h0M601 327h0M500 328h0M618 330h0M522 331h0M477 336h0M570 337h0M554 338h0M578 339h0M464 346h0M617 346h0M618 348h0M447 350h0M466 351h0M533 354h0M584 353h0M622 355h0M495 358h0M579 362h0M466 365h0M604 365h0M448 368h0M492 368h0M477 370h0M492 370h0M494 370h0M616 369h0M456 371h0M507 372h0M591 374h0M454 379h0M468 379h0M571 378h0M618 379h0M446 380h0M491 382h0M479 388h0M481 387h0M506 389h0M578 387h0M614 393h0M612 393h0M495 396h0M438 397h0M501 401h0M503 402h0M549 404h0M551 406h0M527 408h0M585 409h0M483 419h0M563 418h0M480 421h0M562 419h0M516 427h0M573 431h0M511 434h0M563 434h0M501 439h0M498 441h0M548 442h0M545 445h0M535 448h0M532 456h0M502 461h0M505 462h0M544 461h0M534 473h0M535 472h0M544 473h0M528 477h0M500 480h0M529 481h0M488 495h0M471 500h0" stroke="#6a2cb0"/><path d="M483 112h0M490 119h0M534 133h0M544 141h0M524 148h0M528 149h0M534 147h0M495 151h0M517 150h0M556 151h0M529 158h0M544 168h0M566 168h0M513 171h0M553 174h0M560 176h0M502 193h0M534 195h0M559 202h0M525 205h0M544 206h0M457 212h0M528 212h0M589 213h0M588 215h0M454 216h0M527 216h0M541 216h0M459 218h0M479 217h0M502 219h0M511 220h0M482 223h0M615 228h0M473 232h0M564 235h0M503 236h0M598 235h0M537 247h0M586 247h0M471 252h0M545 252h0M605 253h0M557 256h0M499 258h0M531 260h0M574 259h0M498 262h0M467 265h0M509 265h0M546 264h0M587 264h0M541 267h0M574 265h0M460 269h0M506 278h0M525 279h0M465 283h0M473 293h0M486 292h0M609 293h0M546 294h0M448 297h0M615 297h0M574 299h0M559 303h0M571 302h0M445 306h0M564 305h0M575 306h0M444 311h0M461 310h0M477 311h0M611 311h0M492 315h0M489 319h0M465 320h0M580 320h0M611 320h0M520 322h0M531 324h0M557 324h0M451 327h0M557 325h0M568 327h0M472 328h0M564 329h0M579 330h0M593 330h0M449 341h0M589 342h0M606 343h0M438 345h0M601 347h0M481 351h0M544 350h0M551 350h0M482 353h0M511 351h0M453 358h0M616 357h0M539 362h0M440 365h0M487 364h0M498 365h0M563 364h0M448 369h0M601 368h0M469 371h0M600 370h0M571 372h0M619 373h0M535 374h0M504 375h0M611 376h0M460 378h0M470 377h0M584 381h0M594 384h0M526 388h0M560 388h0M449 395h0M451 393h0M538 400h0M594 401h0M570 405h0M518 408h0M534 409h0M511 415h0M582 414h0M517 420h0M581 423h0M495 429h0M494 436h0M524 436h0M554 438h0M556 442h0M520 444h0M503 451h0M512 456h0M529 480h0M529 481h0M515 489h0M517 487h0M476 507h0" stroke="#c22080"/></g><g fill="none" stroke-width="5.2" stroke-linecap="round" transform="scale(0.5)" filter="url(#bl)"><path d="M535 297h0M526 303h0M542 302h0M527 307h0M530 306h0M535 315h0" stroke="#f0e020"/><path d="M530 292h0M532 292h0M526 300h0M528 300h0M531 303h0M530 307h0M534 313h0" stroke="#f0e020"/><path d="M523 280h0M518 291h0M534 297h0M528 301h0M533 300h0M539 299h0M527 303h0" stroke="#f0e020"/><path d="M523 291h0M533 289h0M528 295h0M529 297h0M535 296h0M526 305h0" stroke="#f0e020"/><path d="M540 293h0M530 296h0M523 298h0M532 297h0M532 300h0M528 305h0M530 305h0" stroke="#f0e020"/><path d="M521 281h0M524 284h0M526 286h0M533 290h0M531 292h0M518 293h0M525 305h0" stroke="#f0e020"/></g><g filter="url(#lb)"><rect x="214.5" y="14.5" width="105.8" height="281.8" fill="none" stroke="#2a2a2a" stroke-width="1.05"/><path d="M236.1,14.5v2.5M236.1,296.3v-2.5" stroke="#555" stroke-width="0.8"/><path d="M259.0,14.5v2.5M259.0,296.3v-2.5" stroke="#555" stroke-width="0.8"/><path d="M281.3,14.5v2.5M281.3,296.3v-2.5" stroke="#555" stroke-width="0.8"/><path d="M304.4,14.5v2.5M304.4,296.3v-2.5" stroke="#555" stroke-width="0.8"/><path d="M214.5,84.8h2.5M320.3,84.8h-2.5" stroke="#555" stroke-width="0.8"/><path d="M214.5,155.0h2.5M320.3,155.0h-2.5" stroke="#555" stroke-width="0.8"/><path d="M214.5,225.5h2.5M320.3,225.5h-2.5" stroke="#555" stroke-width="0.8"/><path d="M267.4,14.5L267.4,30.6L256.6,30.6L248.6,49.0L249.5,51.5L255.0,55.5L261.0,59.2L272.4,66.9L283.6,77.0L294.9,89.3L303.8,101.7L309.4,112.0L313.8,120.5L317.0,131.0L318.5,142.0L318.7,152.0L317.8,165.0L316.2,178.0L312.8,191.2L307.2,202.4L299.3,213.6L289.3,224.9L276.9,236.1L263.5,247.3L257.9,252.0L251.0,256.5L248.6,259.5L249.3,262.0L257.2,279.3L267.6,279.3L267.6,296.5" fill="none" stroke="#000" stroke-width="1.9" stroke-linejoin="round"/><path d="M264.3,14.5L233.4,51.2L216.2,46.7L231.6,58.0L231.2,60.0L226.0,75.0L221.5,90.0L217.0,105.0L215.3,113.0L214.8,125.0L214.8,185.0L215.3,197.0L217.0,205.0L221.5,220.0L226.0,235.0L231.2,250.0L231.6,252.6L216.2,263.2L233.5,257.8L265.4,296.5" fill="none" stroke="#000" stroke-width="1.9" stroke-linejoin="round"/></g><g font-family="Liberation Sans" fill="#000" stroke="#000" stroke-width="0.3" filter="url(#tb)"><text transform="translate(219.91,9.90) scale(1.138,1)" font-family="Liberation Sans" font-size="12.8">time</text><text transform="translate(251.72,9.90) scale(1.221,1)" font-family="Liberation Sans" font-size="12.8">=</text><text transform="translate(265.26,9.90) scale(1.061,1)" font-family="Liberation Sans" font-size="12.8">0.70</text><text transform="translate(295.98,9.90) scale(1.029,1)" font-family="Liberation Sans" font-size="12.8">ms</text><text transform="translate(219.40,32.40) scale(1.016,1)" font-family="Liberation Serif" font-size="17.7">b)</text><text transform="translate(193.99,17.20) scale(1.130,1)" font-family="Liberation Sans" font-size="10.1">1.6</text><text transform="translate(194.66,87.60) scale(1.096,1)" font-family="Liberation Sans" font-size="10.1">0.8</text><text transform="translate(194.36,158.30) scale(1.096,1)" font-family="Liberation Sans" font-size="10.1">0.0</text><text transform="translate(186.30,228.70) scale(1.185,1)" font-family="Liberation Sans" font-size="10.1">−0.8</text><text transform="translate(186.31,299.40) scale(1.174,1)" font-family="Liberation Sans" font-size="10.1">−1.6</text><text transform="translate(189.09,128.30) scale(0.973,1)" font-family="Liberation Sans" font-size="10.6">Z[m]</text><text transform="translate(225.27,307.20) scale(1.114,1)" font-family="Liberation Sans" font-size="10.4">1.50</text><text transform="translate(248.14,307.20) scale(1.036,1)" font-family="Liberation Sans" font-size="10.4">1.75</text><text transform="translate(270.26,307.20) scale(1.039,1)" font-family="Liberation Sans" font-size="10.4">2.00</text><text transform="translate(291.94,307.20) scale(1.071,1)" font-family="Liberation Sans" font-size="10.4">2.25</text><text transform="translate(252.32,318.70) scale(1.005,1)" font-family="Liberation Sans" font-size="9.7">R[m]</text></g><path d="M406.2,103.5L409.0,105.2L412.0,107.1L417.7,111.0L423.3,116.0L428.9,122.2L433.4,128.3L436.2,133.5L438.4,137.8L440.0,143.0L440.8,148.5L440.9,153.5L440.4,160.0L439.6,166.5L437.9,173.1L435.1,178.7L431.1,184.3L426.1,189.9L419.9,195.6L413.2,201.2L410.4,203.5L406.5,206.0L401.5,205.5L397.1,202.5L394.5,195.0L392.2,187.5L390.0,180.0L389.1,176.0L389.0,170.0L389.0,140.0L389.1,134.0L390.0,130.0L392.2,122.5L394.5,115.0L397.1,107.5L401.5,104.5ZM405.5,97.3L408.6,99.3L411.9,101.4L418.3,105.7L424.6,111.3L430.9,118.2L435.9,125.2L439.0,130.9L441.5,135.7L443.3,141.6L444.1,147.7L444.3,153.3L443.7,160.6L442.9,167.9L440.9,175.3L437.8,181.5L433.4,187.8L427.8,194.1L420.8,200.4L413.3,206.7L410.2,209.3L405.8,212.1L400.2,211.6L395.3,208.2L392.3,199.8L389.8,191.4L387.3,183.0L386.3,178.5L386.2,171.8L386.2,138.2L386.3,131.5L387.3,127.0L389.8,118.6L392.3,110.2L395.3,101.8L400.2,98.4ZM404.8,91.1L408.2,93.3L411.9,95.6L418.9,100.4L425.9,106.6L432.9,114.3L438.4,122.0L441.9,128.3L444.6,133.6L446.6,140.1L447.5,146.9L447.7,153.1L447.1,161.2L446.1,169.3L444.0,177.4L440.5,184.4L435.6,191.3L429.4,198.3L421.7,205.3L413.4,212.2L410.0,215.1L405.1,218.2L398.9,217.6L393.4,213.9L390.2,204.6L387.4,195.3L384.6,186.0L383.5,181.0L383.4,173.6L383.4,136.4L383.5,129.0L384.6,124.0L387.4,114.7L390.2,105.4L393.4,96.1L398.9,92.4ZM404.1,86.0L407.8,88.3L411.8,90.8L419.5,96.0L427.0,102.7L434.5,111.0L440.5,119.3L444.3,126.2L447.2,131.9L449.4,138.9L450.4,146.3L450.5,153.0L449.9,161.7L448.8,170.4L446.5,179.3L442.8,186.8L437.5,194.3L430.8,201.8L422.5,209.3L413.5,216.8L409.8,220.0L404.5,223.3L397.8,222.7L391.9,218.7L388.4,208.6L385.4,198.6L382.4,188.5L381.2,183.1L381.0,175.1L381.0,134.9L381.2,126.9L382.4,121.5L385.4,111.4L388.4,101.4L391.9,91.3L397.8,87.3ZM403.5,80.8L407.5,83.4L411.8,86.0L420.0,91.6L428.1,98.8L436.2,107.7L442.6,116.6L446.6,124.0L449.8,130.2L452.1,137.7L453.2,145.6L453.3,152.8L452.7,162.2L451.5,171.6L449.1,181.1L445.0,189.1L439.4,197.2L432.2,205.3L423.2,213.4L413.6,221.5L409.5,224.8L403.9,228.4L396.7,227.7L390.3,223.4L386.6,212.6L383.3,201.8L380.1,191.0L378.9,185.2L378.7,176.6L378.7,133.4L378.9,124.8L380.1,119.0L383.3,108.2L386.6,97.4L390.3,86.6L396.7,82.3ZM403.1,77.5L407.2,80.2L411.7,83.0L420.3,88.7L428.7,96.3L437.2,105.6L443.9,114.9L448.1,122.7L451.5,129.1L453.9,137.0L455.0,145.2L455.1,152.7L454.5,162.5L453.3,172.3L450.7,182.2L446.5,190.6L440.5,199.1L433.0,207.6L423.7,216.0L413.6,224.4L409.4,227.9L403.5,231.7L396.0,231.0L389.3,226.4L385.4,215.2L382.0,203.9L378.7,192.6L377.4,186.6L377.2,177.6L377.2,132.4L377.4,123.4L378.7,117.4L382.0,106.1L385.4,94.8L389.3,83.6L396.0,79.0ZM402.7,74.2L407.0,77.0L411.7,79.9L420.7,85.9L429.4,93.8L438.3,103.5L445.3,113.2L449.7,121.3L453.1,128.0L455.6,136.2L456.8,144.8L457.0,152.6L456.2,162.8L455.0,173.0L452.3,183.4L447.9,192.2L441.7,200.9L433.9,209.8L424.2,218.6L413.7,227.4L409.3,231.0L403.1,235.0L395.3,234.2L388.4,229.5L384.3,217.7L380.7,206.0L377.2,194.2L375.9,187.9L375.7,178.5L375.7,131.5L375.9,122.1L377.2,115.8L380.7,104.0L384.3,92.3L388.4,80.5L395.3,75.8ZM402.3,71.0L406.8,73.8L411.7,76.8L421.0,83.1L430.1,91.4L439.3,101.4L446.6,111.5L451.2,119.9L454.8,126.8L457.4,135.4L458.6,144.4L458.8,152.6L458.0,163.2L456.7,173.8L454.0,184.5L449.4,193.7L442.9,202.8L434.8,212.0L424.7,221.2L413.7,230.3L409.2,234.2L402.7,238.2L394.5,237.4L387.4,232.5L383.1,220.3L379.5,208.0L375.8,195.8L374.4,189.3L374.1,179.5L374.1,130.5L374.4,120.7L375.8,114.2L379.5,102.0L383.1,89.7L387.4,77.5L394.5,72.6ZM401.9,67.7L406.6,70.6L411.7,73.8L421.3,80.3L430.8,88.9L440.4,99.3L447.9,109.8L452.7,118.5L456.4,125.7L459.1,134.6L460.4,144.0L460.6,152.5L459.8,163.5L458.5,174.5L455.6,185.7L450.8,195.2L444.1,204.7L435.7,214.3L425.1,223.8L413.8,233.3L409.0,237.3L402.3,241.5L393.8,240.6L386.4,235.6L382.0,222.8L378.2,210.1L374.3,197.4L372.9,190.6L372.6,180.4L372.6,129.6L372.9,119.4L374.3,112.6L378.2,99.9L382.0,87.2L386.4,74.4L393.8,69.4ZM401.5,64.4L406.3,67.4L411.6,70.7L421.7,77.5L431.5,86.4L441.5,97.2L449.3,108.1L454.2,117.2L458.1,124.6L460.9,133.9L462.2,143.6L462.4,152.4L461.6,163.8L460.2,175.2L457.2,186.9L452.3,196.7L445.3,206.6L436.5,216.5L425.6,226.4L413.8,236.2L408.9,240.4L401.9,244.8L393.1,243.9L385.4,238.6L380.8,225.4L376.9,212.2L372.9,199.0L371.4,192.0L371.1,181.4L371.1,128.6L371.4,118.0L372.9,111.0L376.9,97.8L380.8,84.6L385.4,71.4L393.1,66.1ZM401.1,61.1L406.1,64.3L411.6,67.6L422.0,74.7L432.2,83.9L442.5,95.1L450.6,106.4L455.7,115.8L459.7,123.5L462.7,133.1L464.0,143.1L464.2,152.3L463.4,164.1L461.9,176.0L458.8,188.0L453.7,198.2L446.5,208.4L437.4,218.7L426.1,229.0L413.9,239.2L408.8,243.5L401.6,248.0L392.4,247.1L384.4,241.6L379.7,228.0L375.6,214.3L371.5,200.6L369.9,193.3L369.6,182.4L369.6,127.6L369.9,116.7L371.5,109.4L375.6,95.7L379.7,82.0L384.4,68.4L392.4,62.9ZM400.7,57.8L405.9,61.1L411.6,64.6L422.3,71.8L432.9,81.4L443.6,93.0L452.0,104.7L457.2,114.4L461.4,122.4L464.4,132.3L465.8,142.7L466.0,152.2L465.2,164.4L463.7,176.7L460.5,189.2L455.2,199.7L447.7,210.3L438.3,221.0L426.6,231.6L413.9,242.1L408.6,246.6L401.2,251.3L391.7,250.3L383.4,244.7L378.5,230.5L374.3,216.4L370.0,202.2L368.4,194.6L368.1,183.3L368.1,126.7L368.4,115.4L370.0,107.8L374.3,93.6L378.5,79.5L383.4,65.3L391.7,59.7Z" fill="none" stroke="#1a1a1a" stroke-width="0.6"/><g fill="none" stroke-width="5.2" stroke-linecap="round" transform="scale(0.5)" filter="url(#bl)"><path d="M792 123h0M801 138h0M818 149h0M848 150h0M839 154h0M800 157h0M840 161h0M765 162h0M778 163h0M823 163h0M787 167h0M854 165h0M847 167h0M864 170h0M811 173h0M779 174h0M794 174h0M803 174h0M827 175h0M862 177h0M772 177h0M807 182h0M822 185h0M830 183h0M846 185h0M855 184h0M819 190h0M825 191h0M871 189h0M784 194h0M807 195h0M854 194h0M858 193h0M863 199h0M827 199h0M841 200h0M809 203h0M821 203h0M833 202h0M859 203h0M805 208h0M848 208h0M765 210h0M771 211h0M784 211h0M812 209h0M837 210h0M850 209h0M868 209h0M785 211h0M791 211h0M747 215h0M874 214h0M748 215h0M884 217h0M870 219h0M829 220h0M800 222h0M808 224h0M845 223h0M878 227h0M816 231h0M848 230h0M854 229h0M744 233h0M757 232h0M784 231h0M763 233h0M786 235h0M750 235h0M859 236h0M780 237h0M857 238h0M869 237h0M810 240h0M852 241h0M901 242h0M854 246h0M822 248h0M859 247h0M888 248h0M816 251h0M813 251h0M825 251h0M873 252h0M896 252h0M754 255h0M787 254h0M870 253h0M856 256h0M860 256h0M862 257h0M874 259h0M839 260h0M841 260h0M868 259h0M803 262h0M843 263h0M863 261h0M753 263h0M845 266h0M889 266h0M822 268h0M900 269h0M903 268h0M907 270h0M832 273h0M867 273h0M880 272h0M894 272h0M777 273h0M887 275h0M760 276h0M864 276h0M873 281h0M757 285h0M841 283h0M865 287h0M824 294h0M842 295h0M759 297h0M783 299h0M887 304h0M787 308h0M889 308h0M803 310h0M769 311h0M776 313h0M791 314h0M813 314h0M904 315h0M792 316h0M818 315h0M876 317h0M888 315h0M866 318h0M816 319h0M885 320h0M888 321h0M907 320h0M823 325h0M865 323h0M905 325h0M762 326h0M822 325h0M900 327h0M812 327h0M829 328h0M860 328h0M868 327h0M884 329h0M772 331h0M808 329h0M866 329h0M867 331h0M849 332h0M875 331h0M756 335h0M811 336h0M812 336h0M759 338h0M769 339h0M814 339h0M819 340h0M838 339h0M836 341h0M884 343h0M750 344h0M775 343h0M818 344h0M836 346h0M826 350h0M833 352h0M810 355h0M828 353h0M853 354h0M906 354h0M839 357h0M869 356h0M758 358h0M795 358h0M870 358h0M743 361h0M759 360h0M780 360h0M785 360h0M855 361h0M878 359h0M894 360h0M753 362h0M831 361h0M887 362h0M836 365h0M845 364h0M835 370h0M856 369h0M776 373h0M854 372h0M865 372h0M875 372h0M896 372h0M781 373h0M901 375h0M779 379h0M870 378h0M885 379h0M790 382h0M838 382h0M872 386h0M775 388h0M873 389h0M784 392h0M795 391h0M807 392h0M820 393h0M834 392h0M873 392h0M891 392h0M812 394h0M822 394h0M838 393h0M786 396h0M809 398h0M811 397h0M845 397h0M771 400h0M817 399h0M885 400h0M821 403h0M872 402h0M879 405h0M783 408h0M815 409h0M859 408h0M844 409h0M767 412h0M813 411h0M822 413h0M782 416h0M809 417h0M830 419h0M868 418h0M875 419h0M884 418h0M758 420h0M857 419h0M818 422h0M868 422h0M829 423h0M758 426h0M869 427h0M849 430h0M866 431h0M826 435h0M834 434h0M847 434h0M874 435h0M758 436h0M782 436h0M823 442h0M779 443h0M863 444h0M827 446h0M834 450h0M756 453h0M842 454h0M818 457h0M844 457h0M797 457h0M832 458h0M772 461h0M801 462h0M799 470h0M838 471h0M809 473h0M801 479h0M830 477h0M834 477h0M834 480h0M788 487h0" stroke="#e0202e"/><path d="M782 114h0M849 175h0M809 179h0M875 182h0M867 184h0M872 184h0M832 186h0M874 194h0M876 196h0M868 198h0M785 200h0M815 200h0M855 202h0M806 204h0M879 204h0M809 205h0M837 209h0M858 210h0M766 211h0M852 214h0M859 219h0M842 222h0M851 224h0M789 227h0M794 225h0M755 228h0M837 228h0M886 228h0M835 235h0M775 238h0M760 242h0M782 245h0M901 247h0M762 247h0M772 247h0M880 247h0M777 257h0M849 256h0M817 258h0M795 260h0M844 261h0M792 265h0M839 266h0M845 270h0M895 269h0M811 285h0M846 286h0M904 286h0M779 287h0M904 288h0M750 290h0M752 291h0M808 290h0M880 294h0M871 296h0M768 298h0M839 298h0M886 298h0M794 301h0M780 302h0M799 305h0M809 305h0M787 308h0M780 311h0M791 310h0M779 313h0M891 321h0M798 323h0M758 325h0M814 328h0M800 330h0M886 330h0M893 330h0M844 334h0M895 335h0M791 336h0M846 340h0M793 342h0M831 345h0M758 346h0M764 345h0M814 347h0M840 346h0M886 348h0M807 350h0M850 351h0M892 352h0M818 354h0M847 353h0M781 358h0M811 359h0M812 357h0M855 359h0M879 360h0M800 362h0M877 366h0M801 368h0M809 368h0M751 371h0M776 373h0M807 373h0M858 375h0M774 378h0M858 379h0M812 382h0M871 381h0M838 386h0M799 391h0M842 394h0M882 397h0M915 395h0M819 399h0M865 402h0M829 404h0M782 406h0M844 406h0M861 407h0M869 405h0M783 408h0M811 408h0M886 410h0M878 413h0M888 412h0M810 428h0M844 430h0M874 434h0M850 441h0M831 448h0M838 461h0M838 467h0M806 475h0M830 475h0M824 480h0M769 490h0" stroke="#f08020"/><path d="M778 106h0M786 136h0M840 143h0M844 143h0M848 152h0M779 157h0M851 158h0M778 162h0M853 162h0M869 166h0M869 169h0M804 170h0M817 171h0M863 175h0M842 177h0M826 180h0M839 180h0M840 181h0M846 180h0M869 179h0M797 183h0M799 182h0M874 185h0M849 187h0M802 189h0M872 188h0M798 191h0M817 191h0M769 196h0M864 196h0M807 204h0M845 203h0M873 205h0M877 205h0M884 205h0M801 207h0M790 212h0M899 213h0M812 216h0M850 215h0M851 217h0M821 217h0M844 218h0M828 219h0M891 220h0M747 223h0M819 222h0M820 222h0M823 221h0M851 221h0M886 223h0M874 224h0M799 227h0M799 229h0M800 227h0M828 228h0M820 229h0M827 230h0M886 230h0M817 232h0M831 233h0M842 233h0M845 232h0M875 233h0M896 231h0M751 234h0M828 235h0M830 235h0M754 237h0M761 238h0M779 238h0M811 238h0M765 240h0M784 241h0M856 244h0M883 244h0M887 244h0M813 246h0M831 246h0M758 248h0M874 248h0M807 253h0M818 252h0M874 252h0M751 255h0M818 254h0M815 256h0M879 255h0M774 260h0M786 260h0M873 259h0M887 260h0M815 262h0M841 262h0M789 263h0M874 267h0M924 269h0M811 271h0M861 271h0M884 270h0M799 273h0M813 273h0M819 275h0M876 273h0M891 273h0M815 275h0M830 278h0M855 280h0M857 281h0M797 282h0M808 283h0M810 283h0M789 286h0M794 287h0M797 285h0M754 288h0M760 288h0M784 288h0M807 289h0M830 288h0M885 288h0M785 289h0M817 291h0M838 290h0M888 290h0M837 295h0M815 296h0M873 297h0M890 297h0M891 296h0M753 297h0M757 299h0M759 299h0M868 298h0M868 298h0M758 303h0M806 304h0M812 305h0M826 304h0M832 307h0M754 307h0M791 309h0M843 309h0M774 309h0M905 309h0M876 312h0M799 314h0M866 315h0M866 314h0M769 317h0M800 316h0M801 315h0M883 316h0M839 318h0M759 319h0M768 322h0M850 321h0M898 322h0M769 325h0M845 323h0M761 326h0M823 327h0M892 327h0M827 328h0M861 330h0M864 330h0M892 330h0M792 331h0M839 331h0M903 331h0M741 334h0M799 333h0M836 334h0M855 334h0M795 336h0M797 335h0M811 336h0M882 337h0M796 338h0M776 340h0M853 339h0M818 342h0M823 342h0M833 342h0M897 342h0M775 343h0M779 345h0M795 343h0M881 345h0M899 347h0M902 347h0M770 351h0M895 350h0M770 353h0M831 352h0M797 355h0M817 354h0M802 355h0M849 356h0M877 356h0M899 356h0M811 358h0M878 359h0M882 360h0M877 363h0M896 361h0M891 364h0M843 368h0M742 371h0M825 369h0M761 373h0M795 372h0M796 372h0M849 373h0M853 373h0M862 373h0M885 372h0M755 373h0M833 376h0M777 377h0M788 379h0M803 377h0M866 378h0M765 381h0M798 380h0M802 380h0M866 379h0M884 380h0M780 381h0M788 381h0M866 385h0M890 384h0M746 386h0M754 386h0M798 388h0M877 388h0M879 387h0M899 387h0M760 391h0M813 390h0M839 391h0M848 390h0M848 390h0M835 391h0M764 393h0M859 394h0M826 397h0M776 399h0M773 401h0M809 402h0M816 402h0M848 402h0M875 404h0M838 406h0M745 408h0M842 409h0M856 412h0M788 413h0M793 414h0M841 417h0M881 417h0M812 421h0M837 424h0M809 426h0M789 427h0M801 428h0M862 429h0M803 432h0M749 433h0M832 434h0M849 434h0M867 434h0M789 436h0M793 435h0M819 437h0M831 436h0M845 439h0M820 439h0M783 442h0M793 448h0M765 451h0M823 454h0M791 455h0M805 457h0M795 471h0M825 472h0M835 477h0M801 481h0M776 496h0" stroke="#eadf22"/><path d="M853 140h0M784 154h0M779 160h0M779 161h0M815 166h0M842 169h0M852 173h0M774 174h0M793 176h0M771 178h0M828 178h0M842 179h0M773 183h0M837 183h0M796 185h0M800 186h0M844 188h0M868 189h0M816 194h0M808 196h0M818 200h0M818 200h0M760 206h0M853 206h0M790 209h0M856 209h0M834 211h0M748 213h0M781 215h0M789 214h0M765 215h0M856 219h0M874 219h0M875 219h0M838 220h0M808 223h0M884 223h0M833 223h0M846 224h0M858 225h0M784 226h0M755 227h0M823 229h0M888 228h0M850 230h0M828 231h0M818 234h0M885 234h0M792 239h0M780 240h0M811 240h0M897 240h0M746 241h0M805 242h0M832 243h0M799 247h0M887 247h0M817 248h0M852 248h0M757 254h0M762 254h0M829 254h0M871 253h0M846 256h0M905 256h0M832 258h0M864 258h0M873 258h0M880 260h0M758 264h0M867 266h0M858 268h0M844 273h0M865 273h0M875 271h0M872 275h0M890 273h0M749 276h0M785 276h0M764 278h0M802 280h0M801 282h0M828 284h0M746 285h0M764 286h0M782 287h0M869 290h0M779 293h0M794 292h0M775 294h0M845 294h0M894 294h0M921 295h0M789 297h0M825 299h0M859 300h0M878 303h0M775 303h0M852 305h0M887 306h0M758 311h0M851 309h0M788 312h0M825 313h0M903 311h0M831 315h0M863 314h0M885 314h0M753 317h0M844 316h0M855 315h0M745 318h0M807 317h0M835 324h0M865 327h0M888 327h0M827 329h0M866 333h0M878 333h0M762 335h0M821 335h0M769 338h0M813 339h0M877 337h0M883 338h0M827 341h0M771 348h0M787 348h0M874 348h0M785 351h0M868 350h0M828 354h0M865 353h0M859 359h0M795 359h0M754 362h0M808 362h0M821 361h0M872 364h0M764 368h0M791 368h0M848 368h0M884 369h0M774 370h0M792 370h0M798 371h0M803 369h0M891 370h0M743 373h0M831 372h0M867 372h0M826 375h0M829 378h0M779 381h0M847 382h0M893 382h0M796 384h0M888 384h0M757 389h0M845 387h0M803 389h0M875 392h0M836 393h0M858 395h0M820 400h0M847 401h0M862 400h0M818 402h0M844 404h0M752 410h0M789 410h0M826 411h0M827 411h0M836 411h0M889 412h0M827 418h0M823 421h0M869 420h0M878 422h0M827 424h0M821 425h0M841 429h0M848 439h0M782 441h0M801 447h0M823 459h0M847 461h0M784 467h0M838 469h0M814 471h0M823 470h0M822 476h0M810 497h0" stroke="#a8d432"/><path d="M783 105h0M793 109h0M778 117h0M781 123h0M783 135h0M785 137h0M852 154h0M869 162h0M825 165h0M867 166h0M827 169h0M842 172h0M836 175h0M871 177h0M774 179h0M832 179h0M834 180h0M854 185h0M815 194h0M765 196h0M835 196h0M881 201h0M834 202h0M836 201h0M817 210h0M813 211h0M862 214h0M766 219h0M834 223h0M880 224h0M806 232h0M808 231h0M827 233h0M887 236h0M837 244h0M784 249h0M860 247h0M840 250h0M860 251h0M874 250h0M792 255h0M794 255h0M820 256h0M876 256h0M868 258h0M765 261h0M778 262h0M885 262h0M787 264h0M824 269h0M792 273h0M763 275h0M869 273h0M834 275h0M755 278h0M878 278h0M874 279h0M805 284h0M900 288h0M794 289h0M802 290h0M833 290h0M799 304h0M858 304h0M765 308h0M810 308h0M863 308h0M756 310h0M761 313h0M813 314h0M760 322h0M779 321h0M809 328h0M873 329h0M757 333h0M840 333h0M897 336h0M800 338h0M764 339h0M834 343h0M850 346h0M770 348h0M823 351h0M874 354h0M878 354h0M809 355h0M843 360h0M784 365h0M823 368h0M830 368h0M851 367h0M882 368h0M800 371h0M846 370h0M851 370h0M875 371h0M758 374h0M805 377h0M830 376h0M783 377h0M822 377h0M857 377h0M746 384h0M777 386h0M880 386h0M887 392h0M801 401h0M801 400h0M743 404h0M836 406h0M891 407h0M852 415h0M824 417h0M836 423h0M772 424h0M787 432h0M872 432h0M754 444h0M837 444h0M837 451h0M830 454h0M840 461h0M847 463h0M836 475h0M817 479h0M800 498h0" stroke="#4cb440"/><path d="M863 149h0M834 153h0M840 154h0M826 161h0M840 159h0M845 164h0M814 170h0M872 174h0M872 175h0M771 178h0M806 179h0M831 178h0M854 184h0M870 183h0M800 187h0M839 193h0M863 203h0M789 205h0M882 211h0M784 215h0M775 217h0M821 217h0M854 220h0M873 220h0M847 224h0M874 224h0M833 232h0M756 246h0M803 251h0M849 254h0M900 255h0M758 258h0M857 265h0M766 269h0M798 269h0M904 268h0M886 271h0M852 273h0M803 276h0M885 278h0M893 283h0M858 284h0M804 291h0M795 292h0M888 293h0M850 296h0M872 295h0M783 297h0M838 301h0M875 300h0M906 302h0M766 310h0M792 311h0M769 312h0M902 312h0M804 314h0M820 314h0M834 314h0M774 317h0M774 321h0M898 324h0M793 327h0M836 325h0M753 333h0M883 333h0M808 335h0M874 339h0M828 345h0M870 346h0M760 350h0M856 350h0M826 355h0M882 357h0M792 358h0M815 362h0M772 366h0M840 366h0M852 366h0M879 366h0M755 370h0M843 374h0M821 390h0M846 390h0M764 403h0M786 405h0M827 413h0M744 414h0M798 415h0M814 416h0M838 418h0M820 419h0M748 422h0M853 423h0M810 425h0M838 425h0M824 441h0M856 441h0M835 446h0M835 450h0M830 460h0M850 465h0M829 476h0M799 496h0M800 501h0" stroke="#3a44c0"/><path d="M787 105h0M797 127h0M831 144h0M845 152h0M849 153h0M826 155h0M789 165h0M840 167h0M859 172h0M831 174h0M821 180h0M829 180h0M767 184h0M850 185h0M827 187h0M825 189h0M848 187h0M849 191h0M832 194h0M830 195h0M831 197h0M822 197h0M810 200h0M809 205h0M815 204h0M831 204h0M841 204h0M772 209h0M813 210h0M855 211h0M851 214h0M854 213h0M752 220h0M827 228h0M862 230h0M782 235h0M825 233h0M854 235h0M783 239h0M877 238h0M878 237h0M761 242h0M840 244h0M794 245h0M841 249h0M828 252h0M744 254h0M826 255h0M845 257h0M813 261h0M841 259h0M904 263h0M858 267h0M883 269h0M816 270h0M845 270h0M837 272h0M825 274h0M785 280h0M788 280h0M792 283h0M832 282h0M799 289h0M830 290h0M845 291h0M803 291h0M763 298h0M846 297h0M775 300h0M829 300h0M756 302h0M884 302h0M904 301h0M760 304h0M775 304h0M849 304h0M831 307h0M811 311h0M877 311h0M800 314h0M801 315h0M828 316h0M863 317h0M743 318h0M781 320h0M891 321h0M839 321h0M878 322h0M782 324h0M825 327h0M815 330h0M878 329h0M827 332h0M836 331h0M881 331h0M886 333h0M819 334h0M875 333h0M792 335h0M824 335h0M904 339h0M772 340h0M855 342h0M779 344h0M850 345h0M877 346h0M863 348h0M900 353h0M778 357h0M785 364h0M880 364h0M888 366h0M862 369h0M787 370h0M812 373h0M773 373h0M764 379h0M846 379h0M778 386h0M783 385h0M820 386h0M827 386h0M835 387h0M868 387h0M855 389h0M756 390h0M833 393h0M866 394h0M856 397h0M778 398h0M814 408h0M869 408h0M821 414h0M851 419h0M799 422h0M826 421h0M851 421h0M866 424h0M768 428h0M799 430h0M840 435h0M846 433h0M852 433h0M773 435h0M774 438h0M847 438h0M774 439h0M825 440h0M762 443h0M845 442h0M862 444h0M815 447h0M827 450h0M826 458h0M827 465h0M773 475h0M818 490h0M816 495h0M773 495h0" stroke="#6a2cb0"/><path d="M803 132h0M853 142h0M848 156h0M819 165h0M873 179h0M775 180h0M782 181h0M862 182h0M805 185h0M831 198h0M817 203h0M796 210h0M817 210h0M823 210h0M813 215h0M847 213h0M793 218h0M823 218h0M795 223h0M837 229h0M822 231h0M837 230h0M860 233h0M864 237h0M763 241h0M766 242h0M793 243h0M895 245h0M884 254h0M860 257h0M858 260h0M828 262h0M812 263h0M801 266h0M829 265h0M764 269h0M822 271h0M864 272h0M903 271h0M836 276h0M795 281h0M884 288h0M824 291h0M855 292h0M739 294h0M823 294h0M857 296h0M769 298h0M801 298h0M875 300h0M815 305h0M797 309h0M878 310h0M888 310h0M816 320h0M761 322h0M793 324h0M839 326h0M783 327h0M896 328h0M808 331h0M859 330h0M753 332h0M865 331h0M844 335h0M874 335h0M896 336h0M798 342h0M901 342h0M796 347h0M777 350h0M884 350h0M862 354h0M772 360h0M895 363h0M904 361h0M862 364h0M831 367h0M847 368h0M847 370h0M766 371h0M780 374h0M821 375h0M828 375h0M808 382h0M893 389h0M835 392h0M887 396h0M781 399h0M894 399h0M770 400h0M839 404h0M869 413h0M851 415h0M847 420h0M849 427h0M837 438h0M790 444h0M814 452h0M756 455h0M830 460h0M811 464h0M807 467h0M774 488h0M791 505h0" stroke="#c22080"/><path d="M776 110h0M796 114h0M797 115h0M790 119h0M773 129h0M773 142h0M848 142h0M848 145h0M841 151h0M840 155h0M864 158h0M866 159h0M795 161h0M764 165h0M789 168h0M824 168h0M814 170h0M805 172h0M783 176h0M819 176h0M826 177h0M812 180h0M871 180h0M789 182h0M821 182h0M768 184h0M825 185h0M785 185h0M846 186h0M827 188h0M803 194h0M812 194h0M763 199h0M767 199h0M866 198h0M845 203h0M858 202h0M873 203h0M876 202h0M826 204h0M846 203h0M874 203h0M820 206h0M789 213h0M834 213h0M842 216h0M846 216h0M877 216h0M783 217h0M791 219h0M878 219h0M885 219h0M868 219h0M836 223h0M789 226h0M797 225h0M845 226h0M890 226h0M744 228h0M824 228h0M765 229h0M828 232h0M860 233h0M884 231h0M792 235h0M794 233h0M798 237h0M857 236h0M826 240h0M843 240h0M848 243h0M875 243h0M770 245h0M870 243h0M884 245h0M912 244h0M770 247h0M798 251h0M806 251h0M828 253h0M871 252h0M869 254h0M767 257h0M859 259h0M810 260h0M829 260h0M885 260h0M759 265h0M794 268h0M839 269h0M801 270h0M847 271h0M853 271h0M876 271h0M884 270h0M813 272h0M831 272h0M899 272h0M900 272h0M782 273h0M827 276h0M846 276h0M788 281h0M832 279h0M906 281h0M793 283h0M798 284h0M812 284h0M889 284h0M905 284h0M768 285h0M794 286h0M858 287h0M768 290h0M781 290h0M808 290h0M819 290h0M822 292h0M825 293h0M870 294h0M880 295h0M776 296h0M816 295h0M885 296h0M848 298h0M886 299h0M809 300h0M846 301h0M875 303h0M893 302h0M806 304h0M778 306h0M780 305h0M834 306h0M857 306h0M872 307h0M893 308h0M841 309h0M865 309h0M870 311h0M877 310h0M898 309h0M798 313h0M824 313h0M883 313h0M886 315h0M924 314h0M762 315h0M822 316h0M784 319h0M868 317h0M847 320h0M889 321h0M808 323h0M821 322h0M902 323h0M806 324h0M838 324h0M839 323h0M839 325h0M899 324h0M802 326h0M829 326h0M894 326h0M903 326h0M830 327h0M832 328h0M834 327h0M891 327h0M909 329h0M831 329h0M847 329h0M801 332h0M853 335h0M828 335h0M766 339h0M845 339h0M884 339h0M908 339h0M797 342h0M806 343h0M858 342h0M902 342h0M778 345h0M798 344h0M809 344h0M903 345h0M781 345h0M862 347h0M879 345h0M782 347h0M798 349h0M834 349h0M793 349h0M795 351h0M811 353h0M750 355h0M754 353h0M770 355h0M795 357h0M839 356h0M880 357h0M755 358h0M762 358h0M771 357h0M791 358h0M785 359h0M788 359h0M889 360h0M765 361h0M788 365h0M835 365h0M856 363h0M865 363h0M886 364h0M771 367h0M891 366h0M833 368h0M834 367h0M816 371h0M832 369h0M786 372h0M761 374h0M821 373h0M764 375h0M786 375h0M898 375h0M758 378h0M780 377h0M790 378h0M822 378h0M886 379h0M878 381h0M754 384h0M763 384h0M830 384h0M847 383h0M892 383h0M799 387h0M809 387h0M823 389h0M769 390h0M786 389h0M808 389h0M847 391h0M815 395h0M817 397h0M821 396h0M798 397h0M878 399h0M788 402h0M760 404h0M842 404h0M847 404h0M875 405h0M814 406h0M833 408h0M852 407h0M865 407h0M871 408h0M881 409h0M871 410h0M883 411h0M846 411h0M785 413h0M799 414h0M753 416h0M793 416h0M835 418h0M846 418h0M881 417h0M823 422h0M839 422h0M865 423h0M799 427h0M827 426h0M842 428h0M854 428h0M776 429h0M875 430h0M821 432h0M849 433h0M854 432h0M839 433h0M839 433h0M874 435h0M852 436h0M847 439h0M824 440h0M857 441h0M759 442h0M868 441h0M855 446h0M762 454h0M841 454h0M764 456h0M849 455h0M804 457h0M826 461h0M820 463h0M837 468h0M800 470h0M802 475h0M820 475h0M824 476h0M815 480h0M802 504h0" stroke="#e0202e"/><path d="M777 113h0M787 132h0M854 143h0M846 144h0M848 145h0M844 165h0M850 168h0M864 167h0M815 170h0M775 172h0M849 174h0M808 176h0M801 180h0M860 179h0M835 188h0M847 188h0M848 188h0M869 188h0M834 189h0M866 190h0M771 192h0M844 197h0M835 197h0M769 200h0M855 201h0M797 212h0M793 214h0M790 221h0M857 221h0M824 232h0M865 232h0M867 232h0M841 236h0M789 241h0M791 239h0M839 243h0M851 241h0M868 244h0M795 246h0M807 247h0M826 247h0M820 249h0M742 253h0M810 254h0M869 254h0M876 257h0M897 259h0M903 263h0M842 263h0M839 266h0M863 266h0M786 267h0M796 268h0M794 271h0M806 269h0M825 282h0M897 283h0M901 303h0M841 306h0M788 320h0M777 325h0M784 323h0M811 324h0M877 324h0M847 327h0M876 327h0M765 337h0M817 337h0M795 340h0M845 342h0M848 342h0M880 341h0M866 346h0M860 349h0M858 354h0M833 356h0M756 361h0M832 366h0M855 367h0M771 370h0M773 370h0M782 374h0M775 379h0M813 382h0M900 382h0M886 383h0M821 387h0M791 390h0M849 391h0M866 391h0M784 393h0M844 399h0M887 401h0M830 402h0M876 402h0M865 404h0M882 407h0M769 417h0M855 420h0M849 431h0M802 443h0M818 442h0M830 443h0M792 454h0M785 465h0M836 465h0M821 473h0M826 479h0M797 487h0M798 489h0" stroke="#f08020"/><path d="M793 109h0M798 110h0M796 114h0M772 117h0M772 125h0M809 144h0M770 145h0M843 145h0M838 149h0M840 148h0M836 150h0M864 151h0M837 154h0M780 156h0M859 155h0M846 158h0M865 158h0M858 164h0M798 168h0M865 168h0M811 170h0M840 170h0M841 171h0M868 170h0M815 176h0M810 178h0M837 178h0M808 181h0M809 180h0M858 180h0M768 182h0M822 181h0M847 184h0M803 187h0M792 189h0M794 195h0M803 197h0M796 199h0M848 200h0M828 203h0M849 201h0M788 204h0M808 207h0M822 205h0M853 207h0M822 208h0M876 208h0M767 210h0M785 210h0M808 210h0M832 210h0M854 210h0M877 210h0M771 212h0M817 211h0M846 212h0M888 212h0M762 214h0M856 214h0M805 216h0M820 216h0M865 216h0M784 219h0M814 218h0M819 218h0M849 219h0M859 218h0M818 221h0M840 220h0M854 221h0M826 222h0M881 221h0M758 224h0M850 225h0M854 223h0M765 225h0M768 226h0M794 226h0M852 225h0M779 229h0M842 232h0M853 232h0M757 236h0M869 236h0M759 237h0M835 238h0M836 237h0M824 247h0M824 248h0M825 247h0M873 248h0M851 249h0M744 252h0M787 252h0M764 254h0M800 254h0M854 254h0M837 256h0M871 255h0M852 260h0M846 262h0M847 263h0M892 261h0M759 263h0M806 267h0M865 266h0M876 265h0M767 268h0M855 268h0M874 268h0M899 268h0M902 268h0M743 271h0M903 271h0M841 271h0M876 273h0M849 274h0M787 277h0M855 278h0M901 277h0M779 280h0M830 280h0M906 280h0M882 282h0M901 284h0M801 285h0M876 285h0M831 289h0M788 290h0M834 289h0M853 291h0M826 293h0M884 293h0M896 293h0M774 295h0M811 296h0M744 298h0M815 297h0M905 298h0M755 301h0M885 301h0M890 299h0M763 303h0M829 303h0M852 303h0M850 303h0M786 306h0M810 306h0M870 307h0M874 308h0M822 312h0M845 312h0M868 314h0M872 313h0M748 316h0M817 316h0M863 317h0M793 317h0M794 317h0M882 318h0M792 320h0M848 321h0M907 320h0M907 320h0M752 321h0M884 323h0M899 322h0M849 324h0M863 323h0M866 323h0M877 324h0M907 324h0M761 329h0M804 327h0M814 329h0M773 332h0M816 332h0M790 334h0M850 334h0M782 337h0M808 336h0M845 336h0M866 337h0M856 338h0M858 339h0M892 337h0M852 341h0M863 341h0M864 339h0M812 344h0M834 345h0M886 344h0M756 346h0M792 346h0M816 345h0M825 346h0M865 345h0M836 348h0M840 348h0M869 349h0M764 350h0M800 351h0M803 349h0M841 350h0M816 351h0M846 354h0M827 357h0M905 356h0M866 357h0M767 360h0M819 361h0M843 363h0M783 364h0M763 365h0M770 367h0M808 366h0M847 366h0M787 368h0M894 367h0M895 368h0M780 371h0M781 370h0M844 370h0M847 369h0M754 371h0M790 373h0M895 372h0M867 374h0M801 376h0M896 376h0M867 380h0M809 381h0M807 383h0M881 384h0M886 384h0M811 386h0M817 385h0M755 388h0M788 388h0M913 388h0M837 391h0M755 392h0M771 391h0M824 394h0M825 395h0M837 394h0M894 393h0M868 396h0M874 396h0M877 396h0M806 397h0M814 400h0M826 399h0M887 400h0M889 400h0M857 402h0M869 404h0M744 406h0M865 409h0M806 414h0M843 414h0M846 414h0M875 415h0M779 418h0M818 418h0M798 419h0M866 419h0M823 425h0M864 424h0M877 424h0M806 426h0M777 429h0M801 429h0M824 428h0M833 427h0M834 428h0M798 434h0M819 433h0M843 437h0M869 437h0M752 439h0M792 441h0M785 444h0M804 445h0M828 445h0M835 449h0M833 449h0M764 452h0M785 453h0M795 451h0M834 452h0M847 452h0M826 454h0M851 462h0M838 465h0M771 468h0M819 470h0M819 474h0M803 478h0M820 485h0M770 489h0M774 491h0M816 490h0M821 490h0M815 495h0" stroke="#eadf22"/><path d="M785 107h0M780 120h0M771 147h0M845 153h0M837 155h0M855 157h0M863 162h0M844 164h0M765 167h0M794 167h0M824 166h0M829 166h0M834 169h0M846 171h0M810 175h0M857 175h0M863 174h0M865 174h0M800 177h0M867 179h0M774 180h0M862 179h0M783 181h0M766 194h0M843 194h0M820 195h0M842 196h0M842 200h0M823 203h0M876 201h0M792 203h0M832 206h0M856 206h0M845 208h0M776 211h0M807 212h0M785 214h0M813 215h0M816 216h0M835 217h0M849 221h0M805 223h0M835 225h0M875 226h0M875 229h0M850 230h0M883 231h0M844 234h0M866 238h0M875 240h0M804 243h0M799 247h0M830 247h0M786 252h0M752 255h0M862 255h0M836 259h0M873 258h0M826 260h0M836 260h0M836 259h0M847 261h0M875 259h0M824 262h0M893 261h0M789 266h0M805 265h0M777 267h0M814 268h0M804 270h0M806 270h0M913 269h0M745 272h0M827 271h0M820 273h0M894 274h0M905 278h0M776 282h0M896 282h0M821 284h0M862 284h0M842 286h0M827 288h0M832 287h0M757 292h0M903 293h0M923 292h0M856 293h0M884 294h0M773 295h0M774 298h0M899 299h0M812 301h0M903 300h0M813 304h0M857 305h0M895 308h0M871 310h0M763 314h0M778 313h0M813 314h0M879 314h0M904 314h0M880 316h0M881 315h0M775 319h0M784 317h0M792 320h0M765 321h0M782 325h0M856 324h0M742 327h0M782 327h0M905 327h0M831 328h0M859 327h0M760 329h0M814 330h0M786 331h0M840 333h0M880 332h0M841 334h0M871 337h0M814 339h0M842 341h0M862 344h0M781 346h0M810 346h0M866 348h0M765 349h0M855 351h0M871 350h0M782 351h0M860 353h0M873 354h0M853 356h0M810 358h0M878 359h0M802 360h0M812 360h0M903 364h0M742 366h0M817 366h0M831 366h0M872 366h0M873 365h0M843 369h0M771 369h0M836 371h0M840 371h0M841 370h0M857 372h0M809 375h0M829 380h0M838 380h0M775 381h0M845 384h0M882 383h0M780 388h0M747 389h0M840 391h0M861 389h0M887 392h0M854 393h0M861 394h0M886 395h0M861 402h0M836 407h0M781 409h0M831 411h0M747 418h0M821 418h0M867 418h0M754 420h0M836 420h0M860 422h0M845 426h0M768 435h0M828 436h0M851 437h0M865 439h0M868 438h0M865 440h0M842 445h0M824 445h0M858 453h0M853 455h0M843 457h0M792 460h0M801 478h0M805 478h0M792 482h0M790 484h0M770 486h0" stroke="#a8d432"/><path d="M793 107h0M773 111h0M790 122h0M794 134h0M830 134h0M786 137h0M836 142h0M851 151h0M792 153h0M802 162h0M842 161h0M860 169h0M817 174h0M851 176h0M792 180h0M825 183h0M818 185h0M758 185h0M809 189h0M838 191h0M814 195h0M813 195h0M853 197h0M793 200h0M852 200h0M756 203h0M803 204h0M855 208h0M866 209h0M878 210h0M872 213h0M873 222h0M838 224h0M755 226h0M868 229h0M882 230h0M763 234h0M802 234h0M833 236h0M841 239h0M842 241h0M882 241h0M759 242h0M836 244h0M848 246h0M780 249h0M811 248h0M843 248h0M795 251h0M868 258h0M802 263h0M886 262h0M887 263h0M825 264h0M805 266h0M809 268h0M807 273h0M788 275h0M843 277h0M868 277h0M901 280h0M759 282h0M782 281h0M750 285h0M789 287h0M764 297h0M869 301h0M850 303h0M862 306h0M893 311h0M842 314h0M891 316h0M785 323h0M832 324h0M905 326h0M831 331h0M799 333h0M833 331h0M893 335h0M837 339h0M836 344h0M780 347h0M776 349h0M804 356h0M820 356h0M876 357h0M776 361h0M878 360h0M880 360h0M757 365h0M825 366h0M865 366h0M820 373h0M777 373h0M790 376h0M887 385h0M745 389h0M764 387h0M862 390h0M876 394h0M829 402h0M842 402h0M803 412h0M826 414h0M858 415h0M874 417h0M865 420h0M820 429h0M849 436h0M794 453h0M801 456h0M821 456h0M848 462h0M837 466h0M771 468h0" stroke="#4cb440"/><path d="M775 116h0M776 131h0M796 142h0M860 151h0M832 153h0M805 155h0M863 155h0M860 176h0M770 181h0M781 180h0M795 180h0M818 182h0M832 182h0M782 188h0M831 188h0M846 199h0M867 198h0M753 200h0M841 199h0M870 205h0M798 206h0M864 216h0M895 219h0M877 225h0M816 229h0M784 230h0M789 232h0M868 235h0M743 237h0M793 239h0M796 241h0M779 244h0M810 246h0M817 246h0M836 246h0M843 247h0M827 250h0M850 250h0M861 250h0M758 252h0M900 251h0M779 255h0M890 260h0M893 260h0M817 267h0M815 274h0M855 275h0M811 281h0M884 282h0M755 287h0M798 298h0M864 299h0M758 301h0M808 302h0M837 302h0M768 311h0M807 313h0M751 315h0M809 313h0M785 315h0M904 315h0M898 319h0M891 321h0M787 326h0M905 327h0M849 327h0M904 336h0M798 338h0M754 341h0M908 340h0M807 344h0M842 346h0M857 348h0M853 349h0M862 351h0M798 353h0M774 357h0M780 357h0M783 359h0M790 360h0M759 365h0M787 365h0M879 365h0M821 369h0M849 368h0M841 369h0M855 372h0M847 376h0M867 375h0M896 380h0M796 383h0M754 385h0M766 389h0M798 394h0M855 394h0M824 403h0M858 408h0M846 411h0M878 411h0M843 413h0M802 417h0M843 421h0M853 431h0M846 441h0M866 441h0M818 448h0M844 451h0M830 453h0M821 454h0M798 456h0M814 456h0M813 468h0M827 482h0M829 481h0M769 483h0M777 490h0" stroke="#3a44c0"/><path d="M797 111h0M798 116h0M774 125h0M776 138h0M771 150h0M847 156h0M850 157h0M860 160h0M858 166h0M828 168h0M859 172h0M793 174h0M856 180h0M858 184h0M788 190h0M768 191h0M795 193h0M808 194h0M812 199h0M845 198h0M759 200h0M782 202h0M761 205h0M811 208h0M764 210h0M881 212h0M829 215h0M749 219h0M892 218h0M789 224h0M894 224h0M834 226h0M839 235h0M891 236h0M846 240h0M822 242h0M829 241h0M802 243h0M809 250h0M827 249h0M836 252h0M797 255h0M835 255h0M865 255h0M869 255h0M888 255h0M788 260h0M802 262h0M807 262h0M784 264h0M872 265h0M880 272h0M791 279h0M835 282h0M776 285h0M816 288h0M750 291h0M766 292h0M773 298h0M777 298h0M883 299h0M810 300h0M783 302h0M855 302h0M765 309h0M764 312h0M769 313h0M794 312h0M791 314h0M799 314h0M836 314h0M891 314h0M756 316h0M870 320h0M896 320h0M858 326h0M865 327h0M760 331h0M824 333h0M897 332h0M892 336h0M755 337h0M868 337h0M876 343h0M862 344h0M896 345h0M777 346h0M833 347h0M836 346h0M755 348h0M788 347h0M817 348h0M832 350h0M906 353h0M752 359h0M879 360h0M757 363h0M829 368h0M900 370h0M831 372h0M871 372h0M880 373h0M890 372h0M786 373h0M890 374h0M785 380h0M760 385h0M783 383h0M889 388h0M753 391h0M759 393h0M795 393h0M893 395h0M873 396h0M892 395h0M768 397h0M856 405h0M856 405h0M809 409h0M830 411h0M794 413h0M813 414h0M873 416h0M841 419h0M878 421h0M836 421h0M840 422h0M875 427h0M816 435h0M813 449h0M843 449h0M864 448h0M854 450h0M796 451h0M776 453h0M821 469h0M821 482h0M811 484h0" stroke="#6a2cb0"/><path d="M773 122h0M808 133h0M839 145h0M769 157h0M844 162h0M803 165h0M868 163h0M843 170h0M846 175h0M838 175h0M858 177h0M803 179h0M841 180h0M769 188h0M817 187h0M779 197h0M879 195h0M861 198h0M786 200h0M755 203h0M861 203h0M771 207h0M815 206h0M840 208h0M869 209h0M806 214h0M786 216h0M794 236h0M832 236h0M783 239h0M815 248h0M847 250h0M810 256h0M836 257h0M885 257h0M891 256h0M774 258h0M798 262h0M755 264h0M794 265h0M875 270h0M891 271h0M900 270h0M863 272h0M778 281h0M899 281h0M804 285h0M835 286h0M907 292h0M769 300h0M754 301h0M816 302h0M786 306h0M817 309h0M871 308h0M881 310h0M783 312h0M882 312h0M900 314h0M842 316h0M859 315h0M797 326h0M789 329h0M829 330h0M848 330h0M832 340h0M742 341h0M849 347h0M869 348h0M861 350h0M786 355h0M864 356h0M782 359h0M876 360h0M792 365h0M858 366h0M784 371h0M875 373h0M799 379h0M807 380h0M765 386h0M884 387h0M768 387h0M823 388h0M775 390h0M805 389h0M816 395h0M790 401h0M862 411h0M818 414h0M799 418h0M847 423h0M873 424h0M806 435h0M751 443h0M786 441h0M787 451h0M825 453h0M826 453h0M849 464h0M820 465h0M801 468h0M822 476h0M822 483h0M781 496h0" stroke="#c22080"/><path d="M798 112h0M792 115h0M785 121h0M775 128h0M786 141h0M854 139h0M772 143h0M844 144h0M835 145h0M856 147h0M858 149h0M846 150h0M785 153h0M837 154h0M838 154h0M769 156h0M833 156h0M843 156h0M861 158h0M830 172h0M774 174h0M858 177h0M793 179h0M851 179h0M797 181h0M833 180h0M866 180h0M791 182h0M862 182h0M863 182h0M792 184h0M839 184h0M848 186h0M767 188h0M802 188h0M842 187h0M871 187h0M874 189h0M835 191h0M867 190h0M766 191h0M801 196h0M764 200h0M811 200h0M837 202h0M881 203h0M816 205h0M860 206h0M816 208h0M792 209h0M815 209h0M850 211h0M865 209h0M791 213h0M835 213h0M849 212h0M819 214h0M787 218h0M808 218h0M801 221h0M880 220h0M842 222h0M873 223h0M908 224h0M759 226h0M787 228h0M801 228h0M831 228h0M841 228h0M881 227h0M870 229h0M746 232h0M760 233h0M785 237h0M837 237h0M837 236h0M839 235h0M810 238h0M853 238h0M901 237h0M792 239h0M876 240h0M746 243h0M865 245h0M889 243h0M838 245h0M876 247h0M802 249h0M759 250h0M784 251h0M861 251h0M810 251h0M858 253h0M897 255h0M859 255h0M802 257h0M845 257h0M758 261h0M823 262h0M836 263h0M891 261h0M753 265h0M860 266h0M885 266h0M757 268h0M900 269h0M814 273h0M890 273h0M769 274h0M859 275h0M875 275h0M752 276h0M819 276h0M811 279h0M842 277h0M858 278h0M857 279h0M791 282h0M872 283h0M903 281h0M844 285h0M877 288h0M776 290h0M795 291h0M863 290h0M866 291h0M903 291h0M745 291h0M760 295h0M810 294h0M867 294h0M837 295h0M880 297h0M816 298h0M816 297h0M822 300h0M888 300h0M820 303h0M833 303h0M835 301h0M839 301h0M874 301h0M781 304h0M808 304h0M775 305h0M891 305h0M777 308h0M836 307h0M879 309h0M886 308h0M907 308h0M762 310h0M804 310h0M877 309h0M901 309h0M844 312h0M860 312h0M821 317h0M867 317h0M768 317h0M786 317h0M887 318h0M907 318h0M878 320h0M905 320h0M879 322h0M897 321h0M820 325h0M767 327h0M816 326h0M869 326h0M804 329h0M828 329h0M874 329h0M781 330h0M784 331h0M809 329h0M743 333h0M820 335h0M895 335h0M787 337h0M850 336h0M865 337h0M907 337h0M863 339h0M797 340h0M781 343h0M811 342h0M830 343h0M906 344h0M793 345h0M794 347h0M806 346h0M892 345h0M804 348h0M897 348h0M901 347h0M887 350h0M840 351h0M897 352h0M903 352h0M767 356h0M805 357h0M807 357h0M859 356h0M793 359h0M834 357h0M841 360h0M899 361h0M900 361h0M805 361h0M839 362h0M880 361h0M897 363h0M889 363h0M796 367h0M776 368h0M848 368h0M889 368h0M892 368h0M802 371h0M884 371h0M900 372h0M757 374h0M792 375h0M847 374h0M888 377h0M845 377h0M768 379h0M772 379h0M799 379h0M870 380h0M895 380h0M847 381h0M872 383h0M877 384h0M795 385h0M874 386h0M895 387h0M763 391h0M810 393h0M822 396h0M852 399h0M853 398h0M786 400h0M830 400h0M868 401h0M824 406h0M871 407h0M838 407h0M880 411h0M811 411h0M839 412h0M878 411h0M805 414h0M823 420h0M860 421h0M782 425h0M832 424h0M860 424h0M841 426h0M845 428h0M864 428h0M801 431h0M865 431h0M815 436h0M819 438h0M753 441h0M848 440h0M826 441h0M859 442h0M763 444h0M835 445h0M846 443h0M803 445h0M785 448h0M835 447h0M837 449h0M766 452h0M855 452h0M839 453h0M764 460h0M825 459h0M843 463h0M808 466h0M814 467h0M845 468h0M772 475h0M807 491h0M816 490h0M778 493h0" stroke="#e0202e"/><path d="M795 109h0M782 114h0M779 140h0M784 155h0M850 155h0M768 159h0M846 158h0M834 159h0M841 162h0M825 164h0M774 168h0M824 170h0M868 173h0M851 178h0M864 180h0M795 181h0M820 186h0M790 191h0M844 205h0M817 205h0M789 208h0M841 212h0M860 213h0M780 215h0M861 214h0M762 215h0M897 225h0M746 226h0M862 226h0M812 228h0M761 230h0M811 233h0M881 233h0M898 235h0M856 236h0M893 236h0M865 239h0M803 243h0M842 247h0M868 247h0M789 247h0M882 248h0M847 252h0M902 252h0M788 264h0M846 264h0M849 263h0M746 265h0M858 267h0M793 279h0M850 282h0M846 284h0M798 288h0M890 289h0M896 288h0M786 294h0M825 299h0M834 298h0M838 299h0M797 304h0M827 303h0M895 304h0M783 307h0M834 307h0M905 309h0M843 310h0M896 311h0M743 317h0M817 317h0M832 316h0M826 323h0M836 322h0M804 325h0M814 326h0M797 327h0M832 328h0M838 329h0M891 331h0M865 338h0M822 341h0M760 346h0M765 351h0M878 362h0M904 362h0M836 364h0M845 367h0M818 370h0M849 369h0M762 373h0M867 373h0M778 379h0M821 381h0M886 384h0M813 391h0M874 389h0M793 391h0M761 394h0M788 394h0M815 398h0M852 398h0M809 400h0M887 403h0M884 404h0M868 406h0M850 409h0M788 412h0M872 417h0M867 418h0M831 425h0M862 426h0M850 433h0M857 438h0M781 439h0M782 444h0M809 452h0M841 461h0M813 466h0M766 482h0M806 483h0M781 486h0M785 497h0M800 495h0" stroke="#f08020"/><path d="M786 105h0M788 115h0M793 135h0M848 139h0M845 142h0M768 147h0M836 150h0M841 150h0M840 151h0M767 154h0M851 153h0M866 155h0M764 161h0M785 159h0M834 160h0M792 163h0M775 168h0M798 169h0M776 169h0M810 172h0M814 174h0M850 174h0M861 174h0M777 178h0M816 178h0M836 178h0M819 181h0M837 179h0M798 183h0M872 183h0M849 185h0M793 186h0M802 188h0M835 188h0M846 188h0M852 189h0M835 191h0M859 189h0M815 192h0M810 197h0M813 195h0M872 196h0M875 199h0M876 197h0M817 200h0M837 200h0M870 201h0M835 203h0M843 202h0M867 202h0M818 207h0M835 205h0M874 206h0M793 208h0M791 210h0M847 210h0M883 211h0M766 212h0M789 212h0M866 212h0M750 215h0M815 217h0M837 215h0M792 218h0M800 217h0M859 219h0M822 221h0M865 220h0M870 224h0M879 223h0M795 226h0M834 227h0M879 225h0M827 228h0M785 232h0M831 232h0M753 234h0M760 236h0M835 235h0M897 235h0M835 238h0M861 238h0M847 240h0M750 242h0M828 241h0M866 242h0M901 242h0M866 244h0M875 243h0M761 245h0M818 249h0M846 249h0M749 251h0M755 251h0M801 249h0M813 251h0M853 252h0M857 252h0M777 254h0M784 254h0M797 254h0M770 256h0M775 256h0M881 256h0M783 258h0M824 259h0M854 258h0M766 259h0M776 259h0M835 260h0M896 259h0M825 261h0M889 262h0M778 265h0M814 265h0M821 267h0M832 265h0M883 266h0M832 268h0M860 268h0M760 271h0M807 271h0M856 275h0M890 277h0M800 278h0M831 279h0M790 279h0M845 280h0M804 281h0M826 281h0M899 283h0M872 283h0M743 286h0M784 289h0M796 288h0M811 287h0M814 287h0M838 288h0M854 288h0M865 289h0M779 289h0M805 290h0M822 291h0M861 291h0M853 294h0M860 294h0M899 295h0M754 296h0M777 295h0M885 297h0M754 299h0M862 298h0M878 301h0M761 303h0M770 304h0M793 303h0M837 304h0M874 305h0M743 305h0M845 306h0M789 308h0M846 309h0M760 313h0M816 312h0M833 313h0M838 314h0M790 319h0M873 320h0M890 319h0M804 321h0M829 323h0M843 321h0M762 324h0M788 323h0M821 323h0M908 325h0M781 326h0M855 327h0M783 328h0M892 329h0M851 332h0M899 333h0M766 333h0M784 334h0M763 336h0M803 336h0M783 337h0M844 337h0M789 339h0M821 340h0M836 340h0M751 343h0M842 343h0M846 342h0M854 343h0M907 344h0M757 347h0M778 346h0M759 349h0M802 351h0M829 353h0M797 354h0M839 356h0M889 355h0M802 360h0M802 359h0M897 360h0M807 362h0M888 365h0M889 363h0M799 366h0M801 365h0M827 367h0M830 367h0M862 366h0M783 367h0M828 368h0M864 370h0M895 373h0M900 373h0M799 374h0M828 374h0M817 375h0M806 377h0M817 378h0M789 379h0M796 380h0M797 380h0M839 380h0M886 379h0M821 382h0M871 383h0M827 384h0M790 388h0M856 390h0M880 390h0M880 391h0M776 395h0M893 395h0M747 397h0M771 396h0M807 396h0M893 396h0M876 397h0M877 397h0M884 403h0M891 402h0M772 404h0M877 404h0M879 405h0M781 409h0M862 409h0M810 418h0M820 419h0M840 420h0M814 421h0M855 423h0M778 424h0M818 424h0M832 424h0M836 428h0M832 431h0M849 431h0M863 435h0M871 435h0M875 433h0M773 441h0M870 442h0M756 448h0M793 450h0M843 450h0M862 449h0M830 453h0M766 456h0M806 460h0M843 461h0M849 460h0M842 467h0M771 469h0M821 482h0M828 482h0M804 492h0M817 493h0M770 494h0M774 497h0M793 497h0" stroke="#eadf22"/><path d="M788 118h0M789 119h0M796 118h0M792 121h0M787 133h0M780 144h0M781 143h0M810 147h0M792 151h0M845 149h0M857 158h0M823 162h0M779 164h0M867 167h0M840 173h0M760 174h0M772 175h0M811 177h0M793 180h0M830 180h0M785 182h0M819 183h0M777 183h0M822 185h0M797 188h0M831 187h0M863 188h0M878 190h0M878 191h0M847 192h0M845 193h0M796 197h0M865 197h0M787 199h0M875 201h0M794 206h0M832 205h0M862 207h0M860 208h0M863 210h0M844 211h0M783 215h0M814 219h0M815 221h0M841 221h0M811 222h0M821 221h0M827 222h0M793 228h0M800 231h0M823 235h0M852 235h0M820 237h0M759 242h0M784 241h0M819 242h0M843 243h0M847 242h0M773 244h0M750 250h0M801 251h0M788 253h0M834 254h0M885 258h0M877 261h0M845 261h0M837 264h0M843 263h0M831 267h0M819 269h0M842 267h0M779 271h0M836 271h0M788 272h0M805 275h0M778 279h0M858 277h0M876 278h0M774 280h0M826 280h0M851 280h0M874 281h0M882 281h0M859 295h0M809 300h0M859 303h0M781 306h0M835 310h0M851 310h0M823 313h0M848 316h0M791 317h0M817 321h0M830 321h0M869 321h0M877 321h0M929 319h0M804 322h0M805 322h0M791 324h0M822 324h0M825 324h0M908 324h0M854 326h0M772 328h0M856 327h0M866 328h0M860 329h0M829 332h0M873 332h0M782 335h0M787 334h0M792 334h0M753 336h0M755 336h0M795 339h0M812 338h0M827 339h0M890 338h0M897 338h0M896 340h0M775 343h0M779 342h0M788 345h0M808 344h0M816 344h0M760 347h0M795 346h0M778 349h0M887 349h0M768 349h0M776 350h0M886 349h0M791 353h0M883 353h0M885 352h0M764 354h0M783 353h0M785 353h0M842 354h0M763 356h0M837 356h0M873 361h0M905 360h0M762 361h0M780 362h0M888 367h0M795 368h0M822 369h0M827 369h0M834 369h0M896 370h0M901 369h0M745 373h0M840 371h0M880 372h0M866 378h0M801 380h0M767 385h0M778 386h0M747 390h0M805 391h0M818 390h0M832 390h0M775 397h0M889 397h0M832 397h0M842 401h0M895 399h0M768 401h0M880 403h0M879 408h0M775 410h0M859 411h0M767 419h0M855 421h0M857 423h0M876 423h0M861 434h0M772 437h0M835 437h0M861 438h0M814 440h0M829 441h0M863 442h0M846 451h0M757 452h0M828 455h0M766 465h0M840 466h0M792 468h0" stroke="#a8d432"/><path d="M775 113h0M793 115h0M796 122h0M859 145h0M834 149h0M767 155h0M765 165h0M835 168h0M814 170h0M795 171h0M797 172h0M805 179h0M844 180h0M815 187h0M808 190h0M868 192h0M801 206h0M821 206h0M829 212h0M791 218h0M849 218h0M805 221h0M893 219h0M800 222h0M870 222h0M859 225h0M892 223h0M787 229h0M873 229h0M766 236h0M770 236h0M803 236h0M824 242h0M897 249h0M894 256h0M818 257h0M818 260h0M820 261h0M858 261h0M798 262h0M841 262h0M844 263h0M793 268h0M848 269h0M895 268h0M879 272h0M811 274h0M890 277h0M782 279h0M838 281h0M903 281h0M910 283h0M750 289h0M925 289h0M769 289h0M810 289h0M896 293h0M785 299h0M867 298h0M868 297h0M893 299h0M779 304h0M810 304h0M887 305h0M780 308h0M829 308h0M891 307h0M774 311h0M863 312h0M829 316h0M758 321h0M780 320h0M890 319h0M857 321h0M795 324h0M803 325h0M770 326h0M815 332h0M778 344h0M807 350h0M885 351h0M857 353h0M782 353h0M841 354h0M793 357h0M814 356h0M758 359h0M764 361h0M806 359h0M893 359h0M752 366h0M829 369h0M778 373h0M821 377h0M811 380h0M856 379h0M762 381h0M822 383h0M857 382h0M878 383h0M787 385h0M788 386h0M874 388h0M886 389h0M890 387h0M888 395h0M893 398h0M827 403h0M848 405h0M822 410h0M863 414h0M852 417h0M841 447h0M845 447h0M848 451h0M832 457h0M857 457h0M837 474h0M812 486h0" stroke="#4cb440"/><path d="M773 131h0M786 134h0M854 150h0M830 159h0M838 163h0M790 169h0M839 183h0M879 194h0M753 195h0M854 200h0M882 199h0M824 203h0M789 206h0M785 215h0M819 214h0M836 215h0M857 223h0M844 230h0M826 234h0M843 234h0M823 236h0M835 237h0M746 239h0M791 238h0M802 240h0M814 240h0M831 245h0M884 245h0M755 249h0M852 250h0M812 252h0M815 257h0M839 256h0M837 258h0M799 261h0M787 263h0M878 269h0M850 270h0M867 270h0M884 269h0M781 274h0M828 273h0M905 274h0M759 276h0M787 275h0M835 276h0M874 280h0M883 281h0M878 284h0M882 285h0M807 287h0M751 292h0M811 295h0M853 294h0M853 295h0M856 296h0M862 297h0M877 295h0M781 297h0M853 298h0M752 299h0M835 299h0M827 304h0M836 303h0M809 306h0M907 307h0M804 309h0M840 310h0M842 309h0M765 322h0M846 322h0M900 323h0M821 327h0M832 339h0M752 341h0M761 341h0M893 340h0M859 344h0M792 349h0M904 348h0M865 359h0M765 363h0M875 364h0M774 366h0M797 366h0M877 366h0M775 367h0M780 370h0M872 370h0M889 370h0M796 372h0M816 371h0M865 374h0M806 375h0M759 377h0M803 381h0M868 383h0M882 382h0M824 383h0M893 384h0M762 391h0M868 392h0M884 392h0M878 393h0M823 401h0M840 401h0M840 408h0M867 411h0M786 417h0M832 420h0M767 424h0M865 426h0M839 428h0M749 430h0M774 432h0M812 436h0M834 438h0M810 446h0M865 445h0M796 451h0M833 451h0M821 468h0M827 471h0M821 479h0M818 481h0M799 486h0" stroke="#3a44c0"/><path d="M787 118h0M829 134h0M810 143h0M834 157h0M840 168h0M792 175h0M799 178h0M773 180h0M792 188h0M856 188h0M862 190h0M763 199h0M867 205h0M792 206h0M804 209h0M764 210h0M815 210h0M793 216h0M826 217h0M782 218h0M858 218h0M791 220h0M876 228h0M898 229h0M837 233h0M873 232h0M762 233h0M905 234h0M860 237h0M889 236h0M814 240h0M764 241h0M781 242h0M901 241h0M753 243h0M831 249h0M839 247h0M868 251h0M857 253h0M761 254h0M840 255h0M758 255h0M790 256h0M853 256h0M849 259h0M854 262h0M777 265h0M891 265h0M831 268h0M883 268h0M779 273h0M794 276h0M818 275h0M875 276h0M867 280h0M761 283h0M761 284h0M840 284h0M812 288h0M817 288h0M887 287h0M883 293h0M784 295h0M878 296h0M858 297h0M880 297h0M764 302h0M800 303h0M823 305h0M855 305h0M839 305h0M855 306h0M768 308h0M791 308h0M899 307h0M845 311h0M900 311h0M859 313h0M889 317h0M904 319h0M767 322h0M831 322h0M858 323h0M874 323h0M777 325h0M786 327h0M762 329h0M871 330h0M898 330h0M798 337h0M839 340h0M862 339h0M849 342h0M878 343h0M745 346h0M812 346h0M851 349h0M751 353h0M876 355h0M904 354h0M860 356h0M902 355h0M820 358h0M849 360h0M836 362h0M855 363h0M863 361h0M762 365h0M862 366h0M821 367h0M764 370h0M841 370h0M903 371h0M847 375h0M881 374h0M900 376h0M779 381h0M796 382h0M863 386h0M797 388h0M765 389h0M868 390h0M755 391h0M800 393h0M808 393h0M871 397h0M847 399h0M871 398h0M877 399h0M766 401h0M857 403h0M827 404h0M868 410h0M786 419h0M830 422h0M837 427h0M870 429h0M831 433h0M868 437h0M828 442h0M809 449h0M771 476h0M775 495h0" stroke="#6a2cb0"/><path d="M784 117h0M779 127h0M781 140h0M851 140h0M857 152h0M840 158h0M795 160h0M846 177h0M807 179h0M831 184h0M802 195h0M869 194h0M803 196h0M844 196h0M767 200h0M805 201h0M869 205h0M795 206h0M827 210h0M800 213h0M802 223h0M782 226h0M790 226h0M793 227h0M889 231h0M815 234h0M814 236h0M788 239h0M880 239h0M894 241h0M890 242h0M779 248h0M817 250h0M742 253h0M872 253h0M834 256h0M888 267h0M775 283h0M815 285h0M776 287h0M755 288h0M884 288h0M906 288h0M866 291h0M830 292h0M849 292h0M920 292h0M789 297h0M776 301h0M767 301h0M799 302h0M813 302h0M815 302h0M815 302h0M829 302h0M775 303h0M854 303h0M870 304h0M845 306h0M796 315h0M832 313h0M800 317h0M904 317h0M886 321h0M799 323h0M786 331h0M800 331h0M881 330h0M802 334h0M906 333h0M792 339h0M897 338h0M863 342h0M855 345h0M785 347h0M829 348h0M900 347h0M793 351h0M835 353h0M886 368h0M806 370h0M755 378h0M841 379h0M867 379h0M827 380h0M842 380h0M854 380h0M754 382h0M877 382h0M797 384h0M806 383h0M792 385h0M820 389h0M800 395h0M745 396h0M880 398h0M777 410h0M861 410h0M885 412h0M842 414h0M745 415h0M874 416h0M844 422h0M838 424h0M861 426h0M858 430h0M856 459h0M841 462h0M758 468h0M827 469h0M778 502h0M792 511h0" stroke="#c22080"/><path d="M796 113h0M775 117h0M819 135h0M859 147h0M772 149h0M791 149h0M810 148h0M822 163h0M835 165h0M817 168h0M846 167h0M765 169h0M846 173h0M778 174h0M833 174h0M867 173h0M870 175h0M794 176h0M802 176h0M817 176h0M860 175h0M779 178h0M814 180h0M843 179h0M835 181h0M850 182h0M787 188h0M828 188h0M856 187h0M853 190h0M870 192h0M877 192h0M802 195h0M864 194h0M766 196h0M829 197h0M753 199h0M784 197h0M820 197h0M811 202h0M812 202h0M752 205h0M845 203h0M842 206h0M859 206h0M795 208h0M829 207h0M872 208h0M761 210h0M790 210h0M800 210h0M786 213h0M824 212h0M837 211h0M797 214h0M822 216h0M891 217h0M747 218h0M804 219h0M788 220h0M823 220h0M868 220h0M767 222h0M795 221h0M794 224h0M836 225h0M837 223h0M757 227h0M763 228h0M841 228h0M841 232h0M856 232h0M782 235h0M815 234h0M840 234h0M868 235h0M755 238h0M842 241h0M861 239h0M865 240h0M810 241h0M811 242h0M871 242h0M796 244h0M846 244h0M830 246h0M897 249h0M775 250h0M785 250h0M892 251h0M751 254h0M788 255h0M802 255h0M821 253h0M774 256h0M781 255h0M800 258h0M800 259h0M803 258h0M836 257h0M839 258h0M779 259h0M805 260h0M840 260h0M851 261h0M866 259h0M765 262h0M776 265h0M781 265h0M782 265h0M817 264h0M823 265h0M829 264h0M835 265h0M846 263h0M899 265h0M858 267h0M812 268h0M842 268h0M899 268h0M813 269h0M832 270h0M743 273h0M760 271h0M893 273h0M830 274h0M866 278h0M872 278h0M804 281h0M746 281h0M793 282h0M865 282h0M879 281h0M888 282h0M780 284h0M784 285h0M854 285h0M787 285h0M809 286h0M897 287h0M790 288h0M813 288h0M829 287h0M892 289h0M759 292h0M794 291h0M811 296h0M866 296h0M745 300h0M783 300h0M802 300h0M809 301h0M818 301h0M892 301h0M906 303h0M783 304h0M870 307h0M836 307h0M839 307h0M761 309h0M771 310h0M806 309h0M809 310h0M886 311h0M887 312h0M870 313h0M741 316h0M800 316h0M888 318h0M791 320h0M765 321h0M837 322h0M876 324h0M893 325h0M770 325h0M784 329h0M796 328h0M810 328h0M846 329h0M867 328h0M758 329h0M840 331h0M872 329h0M893 330h0M756 333h0M908 332h0M764 334h0M863 334h0M903 335h0M765 336h0M767 335h0M765 337h0M835 338h0M902 341h0M759 343h0M827 345h0M829 344h0M864 343h0M768 346h0M868 346h0M877 345h0M867 348h0M879 348h0M900 347h0M865 349h0M875 350h0M891 349h0M757 351h0M843 351h0M896 352h0M756 354h0M819 353h0M847 353h0M893 356h0M774 358h0M843 357h0M886 358h0M782 360h0M797 362h0M807 362h0M776 364h0M887 364h0M816 367h0M875 369h0M795 369h0M832 369h0M870 369h0M892 369h0M788 372h0M809 371h0M787 374h0M791 374h0M782 376h0M791 376h0M800 377h0M857 379h0M888 378h0M829 380h0M902 380h0M785 384h0M897 384h0M745 387h0M762 387h0M755 389h0M851 388h0M857 388h0M884 390h0M805 392h0M827 393h0M847 391h0M867 392h0M871 391h0M843 393h0M853 395h0M869 399h0M850 399h0M770 402h0M777 403h0M886 401h0M829 405h0M865 406h0M791 410h0M836 409h0M802 412h0M798 414h0M861 414h0M871 414h0M818 419h0M865 424h0M747 425h0M758 426h0M850 426h0M823 428h0M873 429h0M875 429h0M764 436h0M861 436h0M827 438h0M835 438h0M842 438h0M846 438h0M812 440h0M867 443h0M813 443h0M823 448h0M785 449h0M848 450h0M853 450h0M826 453h0M828 452h0M804 454h0M769 466h0M770 475h0M817 478h0M824 479h0M814 488h0M782 501h0M801 505h0" stroke="#e0202e"/><path d="M798 160h0M843 161h0M837 163h0M807 170h0M839 171h0M845 180h0M843 189h0M789 191h0M838 194h0M787 196h0M874 202h0M786 204h0M789 204h0M785 210h0M877 210h0M751 212h0M752 214h0M812 216h0M882 216h0M759 219h0M888 223h0M896 223h0M773 224h0M886 224h0M748 225h0M867 225h0M908 227h0M806 234h0M873 234h0M772 235h0M836 236h0M880 242h0M874 244h0M877 244h0M819 246h0M779 250h0M863 250h0M898 252h0M881 257h0M871 259h0M766 262h0M877 262h0M867 272h0M817 275h0M881 274h0M824 276h0M878 275h0M896 279h0M772 280h0M873 281h0M878 289h0M882 290h0M884 292h0M764 296h0M848 302h0M814 304h0M771 307h0M821 308h0M877 311h0M810 315h0M838 316h0M904 317h0M905 317h0M868 319h0M894 319h0M901 323h0M784 324h0M875 326h0M853 334h0M899 336h0M844 338h0M800 339h0M804 341h0M780 343h0M863 342h0M862 344h0M779 352h0M901 353h0M762 356h0M840 359h0M826 361h0M851 361h0M796 368h0M827 380h0M846 380h0M819 382h0M872 382h0M862 393h0M751 396h0M844 402h0M832 405h0M845 403h0M842 407h0M843 405h0M880 410h0M792 413h0M811 417h0M882 417h0M846 419h0M843 424h0M842 438h0M837 443h0M841 444h0M760 446h0M825 452h0M800 453h0M861 454h0M831 460h0M851 462h0M821 467h0M809 486h0M779 502h0" stroke="#f08020"/><path d="M790 105h0M832 135h0M776 138h0M852 144h0M855 144h0M774 148h0M846 154h0M847 155h0M865 154h0M830 159h0M857 159h0M800 159h0M867 161h0M823 163h0M831 162h0M830 164h0M834 166h0M769 168h0M777 169h0M818 167h0M860 171h0M770 174h0M805 177h0M813 178h0M792 181h0M768 185h0M844 186h0M837 187h0M829 189h0M800 192h0M822 191h0M789 194h0M827 194h0M865 194h0M752 196h0M844 198h0M848 202h0M852 206h0M838 207h0M858 208h0M818 210h0M821 211h0M837 211h0M838 209h0M846 211h0M872 210h0M759 212h0M809 214h0M817 213h0M842 214h0M884 214h0M810 215h0M756 218h0M794 218h0M835 219h0M766 221h0M799 223h0M804 221h0M795 224h0M799 224h0M815 224h0M855 223h0M756 227h0M786 226h0M746 227h0M748 229h0M836 231h0M798 231h0M837 231h0M742 238h0M822 238h0M857 238h0M783 240h0M791 241h0M869 240h0M759 242h0M765 245h0M880 244h0M841 246h0M797 249h0M876 248h0M890 248h0M800 249h0M806 250h0M827 249h0M901 251h0M810 251h0M867 253h0M888 251h0M814 253h0M830 254h0M775 256h0M805 256h0M805 256h0M826 257h0M817 257h0M869 261h0M795 262h0M889 261h0M895 261h0M896 264h0M820 266h0M866 266h0M827 268h0M781 271h0M803 271h0M843 271h0M904 272h0M786 273h0M837 274h0M852 273h0M878 273h0M794 276h0M806 277h0M819 278h0M857 279h0M867 277h0M772 281h0M830 280h0M839 280h0M853 280h0M757 281h0M787 283h0M800 283h0M808 282h0M840 283h0M849 283h0M853 282h0M849 284h0M894 284h0M741 286h0M894 285h0M900 285h0M789 288h0M799 289h0M849 288h0M815 290h0M821 290h0M753 292h0M761 296h0M819 296h0M828 295h0M841 296h0M885 296h0M784 302h0M831 303h0M764 303h0M809 304h0M811 304h0M882 305h0M894 304h0M764 306h0M828 306h0M864 310h0M882 310h0M756 312h0M861 312h0M886 312h0M844 315h0M867 314h0M880 313h0M892 313h0M744 316h0M877 316h0M845 319h0M817 319h0M830 319h0M906 320h0M802 321h0M775 323h0M786 323h0M759 327h0M790 330h0M876 330h0M758 331h0M808 332h0M760 335h0M839 335h0M850 335h0M752 336h0M753 337h0M850 336h0M861 336h0M874 338h0M897 339h0M798 339h0M880 341h0M903 340h0M903 341h0M798 345h0M836 346h0M836 346h0M774 349h0M860 350h0M834 351h0M839 352h0M864 352h0M836 355h0M849 354h0M856 354h0M857 355h0M876 358h0M820 360h0M839 362h0M863 362h0M901 363h0M752 364h0M832 364h0M811 366h0M872 367h0M765 368h0M801 368h0M850 369h0M819 369h0M900 370h0M856 372h0M866 372h0M771 374h0M817 377h0M772 378h0M797 378h0M791 379h0M802 380h0M833 379h0M876 381h0M879 380h0M897 380h0M772 382h0M869 383h0M868 384h0M872 383h0M760 386h0M782 386h0M798 386h0M888 388h0M745 392h0M805 391h0M863 392h0M839 394h0M811 397h0M867 397h0M874 398h0M819 402h0M825 403h0M883 407h0M892 405h0M871 407h0M881 409h0M791 412h0M822 412h0M835 416h0M853 416h0M870 417h0M817 417h0M851 421h0M781 421h0M833 423h0M856 423h0M746 423h0M857 424h0M840 427h0M817 427h0M847 429h0M826 431h0M853 432h0M782 437h0M794 441h0M829 442h0M804 445h0M862 446h0M803 448h0M847 449h0M814 449h0M773 453h0M797 453h0M858 456h0M837 459h0M853 462h0M828 464h0M827 468h0M819 470h0M843 469h0M821 484h0" stroke="#eadf22"/><path d="M797 118h0M792 137h0M819 138h0M854 144h0M861 147h0M855 154h0M856 154h0M854 163h0M825 165h0M826 175h0M787 184h0M872 185h0M810 190h0M781 193h0M766 194h0M790 198h0M860 202h0M806 206h0M795 208h0M841 208h0M802 215h0M837 215h0M833 219h0M851 218h0M841 221h0M876 220h0M769 223h0M854 221h0M889 222h0M792 226h0M816 226h0M792 235h0M899 235h0M861 239h0M847 239h0M836 242h0M788 243h0M855 243h0M786 247h0M788 248h0M828 249h0M895 249h0M837 252h0M852 252h0M891 259h0M802 262h0M891 263h0M794 265h0M805 266h0M829 265h0M892 267h0M788 267h0M809 269h0M862 267h0M776 270h0M874 270h0M876 272h0M896 272h0M774 273h0M753 277h0M797 278h0M804 278h0M844 279h0M789 283h0M816 283h0M905 284h0M794 285h0M900 287h0M906 288h0M755 289h0M854 290h0M879 291h0M907 293h0M743 296h0M856 297h0M772 297h0M808 298h0M860 297h0M893 297h0M802 300h0M897 299h0M863 301h0M801 303h0M821 303h0M757 305h0M868 306h0M904 305h0M879 309h0M768 310h0M874 311h0M785 316h0M793 317h0M870 316h0M788 323h0M888 322h0M752 325h0M771 325h0M873 327h0M899 326h0M753 328h0M786 327h0M865 327h0M811 331h0M830 330h0M839 330h0M908 331h0M851 334h0M841 337h0M847 336h0M887 336h0M815 338h0M751 341h0M808 343h0M785 345h0M837 344h0M924 345h0M802 347h0M832 348h0M798 350h0M808 349h0M902 351h0M769 354h0M840 353h0M873 354h0M807 357h0M761 362h0M768 361h0M874 362h0M791 363h0M862 364h0M813 367h0M866 366h0M776 368h0M824 368h0M772 370h0M847 370h0M790 372h0M858 373h0M799 377h0M848 376h0M778 378h0M818 377h0M847 380h0M854 381h0M863 381h0M788 383h0M788 383h0M819 385h0M904 384h0M848 386h0M859 386h0M790 389h0M899 388h0M807 390h0M795 394h0M831 396h0M796 397h0M827 400h0M845 404h0M748 406h0M771 405h0M794 406h0M891 406h0M820 408h0M752 413h0M837 412h0M844 414h0M778 417h0M840 421h0M865 425h0M772 428h0M828 427h0M877 431h0M801 435h0M827 433h0M841 440h0M823 441h0M846 442h0M819 443h0M860 445h0M794 447h0M833 447h0M836 451h0M835 453h0M841 451h0M842 454h0M812 456h0M825 457h0M794 461h0M834 479h0M821 484h0M775 496h0M801 505h0" stroke="#a8d432"/><path d="M849 153h0M846 174h0M833 182h0M769 188h0M799 189h0M862 198h0M785 202h0M859 203h0M837 206h0M832 208h0M810 215h0M760 217h0M764 218h0M848 220h0M869 219h0M816 221h0M878 222h0M858 225h0M835 228h0M831 230h0M840 230h0M860 233h0M843 239h0M864 238h0M876 243h0M845 249h0M877 247h0M793 250h0M878 256h0M819 261h0M901 259h0M783 261h0M895 263h0M800 265h0M741 266h0M779 266h0M837 265h0M744 267h0M799 270h0M886 269h0M780 282h0M850 281h0M896 283h0M802 283h0M808 283h0M827 284h0M869 284h0M805 287h0M851 285h0M783 288h0M790 292h0M778 297h0M773 298h0M783 299h0M772 299h0M742 301h0M770 307h0M780 311h0M851 312h0M864 313h0M805 318h0M872 321h0M890 322h0M881 324h0M889 327h0M772 333h0M847 334h0M743 339h0M854 340h0M764 343h0M821 343h0M818 345h0M901 349h0M871 353h0M813 361h0M843 360h0M778 362h0M805 363h0M861 361h0M800 363h0M807 365h0M758 366h0M847 367h0M869 369h0M895 377h0M821 380h0M763 384h0M864 385h0M868 384h0M871 384h0M837 385h0M786 387h0M864 389h0M778 391h0M848 391h0M857 393h0M760 397h0M820 397h0M858 408h0M845 412h0M857 411h0M783 413h0M864 413h0M821 423h0M875 426h0M871 428h0M847 437h0M776 438h0M805 445h0M770 446h0M798 446h0M829 448h0M803 454h0M831 466h0M842 466h0M821 477h0M823 478h0M807 493h0" stroke="#4cb440"/><path d="M779 109h0M784 133h0M806 149h0M783 153h0M847 162h0M798 166h0M863 167h0M869 176h0M797 179h0M871 177h0M853 182h0M822 185h0M845 189h0M801 190h0M832 192h0M773 197h0M818 198h0M857 198h0M840 201h0M776 207h0M791 206h0M795 207h0M823 207h0M871 206h0M749 208h0M867 210h0M851 212h0M767 213h0M818 217h0M843 217h0M794 220h0M874 219h0M746 221h0M761 222h0M850 222h0M787 224h0M745 226h0M859 229h0M746 231h0M854 231h0M879 234h0M802 237h0M845 235h0M792 242h0M876 241h0M765 249h0M820 251h0M871 252h0M903 258h0M744 262h0M832 264h0M753 270h0M788 270h0M870 278h0M823 280h0M888 279h0M822 288h0M796 291h0M884 290h0M876 291h0M867 302h0M766 308h0M803 307h0M907 313h0M869 314h0M758 315h0M889 322h0M800 327h0M803 328h0M763 339h0M794 350h0M779 352h0M807 352h0M831 355h0M778 355h0M831 356h0M869 359h0M758 360h0M847 364h0M894 364h0M901 367h0M852 370h0M890 369h0M800 372h0M779 375h0M796 378h0M800 380h0M896 384h0M835 385h0M843 385h0M862 386h0M760 389h0M858 391h0M747 397h0M832 404h0M868 406h0M777 413h0M843 415h0M791 421h0M883 422h0M879 424h0M756 428h0M830 428h0M850 434h0M866 434h0M786 440h0M850 440h0M827 448h0M788 467h0M806 470h0M816 474h0M827 482h0M777 500h0" stroke="#3a44c0"/><path d="M789 105h0M789 118h0M779 124h0M838 149h0M842 150h0M768 154h0M831 153h0M780 158h0M766 164h0M869 166h0M863 169h0M872 171h0M800 173h0M810 177h0M772 182h0M819 182h0M854 183h0M823 183h0M794 187h0M807 198h0M808 198h0M808 198h0M767 200h0M800 200h0M797 202h0M843 204h0M851 203h0M762 207h0M766 205h0M796 210h0M816 210h0M798 212h0M866 213h0M779 219h0M780 219h0M798 225h0M757 226h0M795 228h0M871 229h0M877 228h0M879 230h0M817 233h0M753 239h0M780 239h0M806 237h0M824 238h0M794 244h0M830 245h0M763 250h0M806 251h0M832 249h0M855 250h0M760 252h0M742 255h0M890 260h0M862 262h0M891 262h0M845 264h0M741 266h0M827 267h0M872 265h0M829 268h0M854 268h0M796 271h0M837 272h0M826 274h0M836 276h0M843 280h0M925 280h0M858 283h0M855 290h0M881 290h0M801 292h0M806 293h0M777 296h0M783 296h0M776 298h0M892 298h0M774 299h0M816 300h0M776 302h0M899 302h0M787 305h0M850 305h0M787 308h0M828 310h0M743 312h0M838 312h0M770 314h0M832 318h0M800 321h0M848 323h0M776 325h0M765 329h0M766 329h0M783 329h0M871 327h0M829 332h0M757 334h0M872 334h0M781 335h0M817 338h0M799 341h0M839 341h0M884 341h0M859 344h0M776 347h0M883 346h0M867 352h0M876 355h0M825 355h0M825 357h0M903 356h0M819 360h0M757 363h0M877 361h0M772 369h0M892 369h0M822 372h0M758 375h0M843 383h0M849 384h0M896 386h0M782 388h0M754 390h0M754 389h0M773 391h0M884 390h0M855 393h0M826 394h0M876 395h0M850 404h0M804 407h0M873 407h0M888 406h0M789 408h0M842 409h0M841 411h0M789 416h0M856 418h0M866 419h0M795 419h0M841 426h0M826 431h0M855 435h0M825 437h0M827 448h0M787 458h0M831 458h0M830 467h0M810 469h0M819 472h0M823 475h0M814 483h0M772 495h0M814 495h0M805 498h0" stroke="#6a2cb0"/><path d="M859 156h0M860 159h0M800 162h0M775 165h0M854 166h0M857 168h0M793 185h0M799 184h0M861 184h0M862 194h0M765 196h0M795 196h0M819 196h0M755 200h0M797 203h0M785 209h0M816 207h0M831 210h0M766 211h0M854 216h0M771 219h0M839 229h0M866 230h0M867 229h0M814 233h0M860 233h0M858 236h0M744 241h0M765 242h0M851 243h0M805 249h0M877 255h0M806 258h0M829 258h0M812 262h0M867 264h0M755 267h0M773 266h0M886 266h0M784 268h0M808 267h0M823 270h0M831 273h0M885 272h0M828 276h0M904 280h0M875 281h0M894 281h0M770 284h0M849 283h0M772 286h0M777 292h0M870 293h0M904 296h0M822 297h0M822 299h0M807 301h0M861 304h0M842 307h0M767 311h0M792 310h0M769 316h0M811 316h0M765 319h0M836 322h0M862 321h0M839 324h0M900 331h0M799 331h0M854 334h0M871 334h0M765 336h0M844 336h0M881 336h0M774 340h0M850 344h0M856 343h0M753 347h0M865 349h0M758 349h0M819 355h0M874 355h0M863 356h0M880 366h0M774 369h0M764 372h0M902 372h0M799 375h0M758 376h0M865 375h0M867 376h0M774 379h0M762 380h0M815 380h0M819 384h0M907 383h0M766 393h0M861 393h0M778 397h0M828 397h0M761 398h0M826 397h0M779 402h0M752 413h0M882 417h0M825 422h0M842 425h0M844 428h0M798 431h0M841 438h0M774 440h0M857 452h0M789 462h0M816 463h0M773 497h0M777 508h0" stroke="#c22080"/><path d="M778 106h0M774 113h0M775 116h0M780 142h0M845 149h0M843 150h0M846 153h0M848 152h0M858 152h0M831 156h0M851 157h0M832 159h0M863 159h0M833 162h0M837 162h0M795 173h0M822 171h0M835 175h0M855 175h0M855 175h0M858 174h0M869 174h0M810 175h0M815 176h0M769 180h0M874 183h0M759 184h0M791 183h0M833 186h0M833 189h0M786 190h0M811 191h0M794 192h0M858 191h0M769 194h0M770 194h0M859 195h0M854 198h0M879 200h0M790 204h0M832 204h0M801 207h0M826 209h0M847 207h0M853 208h0M804 211h0M852 212h0M900 212h0M884 215h0M749 218h0M887 217h0M766 220h0M839 220h0M868 220h0M864 223h0M853 224h0M759 227h0M786 228h0M892 228h0M896 229h0M863 229h0M865 230h0M885 229h0M786 234h0M819 234h0M742 236h0M846 236h0M850 235h0M889 236h0M759 239h0M887 239h0M781 239h0M826 241h0M859 239h0M784 242h0M867 242h0M783 245h0M799 244h0M743 246h0M836 246h0M860 246h0M861 245h0M819 247h0M844 247h0M877 248h0M779 250h0M806 249h0M831 250h0M822 252h0M873 252h0M886 252h0M844 255h0M870 254h0M885 255h0M799 256h0M784 259h0M873 258h0M813 259h0M807 263h0M898 263h0M772 264h0M852 263h0M903 265h0M783 265h0M793 267h0M844 266h0M789 267h0M888 268h0M818 270h0M874 270h0M842 272h0M756 277h0M896 276h0M753 278h0M881 277h0M882 278h0M882 280h0M903 279h0M813 282h0M761 284h0M864 285h0M867 284h0M778 287h0M800 285h0M818 287h0M842 285h0M870 286h0M766 290h0M869 290h0M887 289h0M759 293h0M828 291h0M807 293h0M862 299h0M753 300h0M816 300h0M772 301h0M803 302h0M815 302h0M832 301h0M889 302h0M903 302h0M788 304h0M804 304h0M834 303h0M770 305h0M804 309h0M900 307h0M874 310h0M768 313h0M778 313h0M814 313h0M817 314h0M847 315h0M860 314h0M888 313h0M743 315h0M774 315h0M814 315h0M841 316h0M886 316h0M763 319h0M769 319h0M786 320h0M819 320h0M785 321h0M794 323h0M834 322h0M773 323h0M778 325h0M842 325h0M869 325h0M899 328h0M788 333h0M819 333h0M835 332h0M803 337h0M811 335h0M825 337h0M889 337h0M893 337h0M908 336h0M891 341h0M866 342h0M885 343h0M830 344h0M882 343h0M817 346h0M861 347h0M759 347h0M776 348h0M824 348h0M839 348h0M856 349h0M815 350h0M885 350h0M796 351h0M863 352h0M810 354h0M833 353h0M772 355h0M834 355h0M909 359h0M880 361h0M837 364h0M905 365h0M769 365h0M765 368h0M792 371h0M817 371h0M858 369h0M759 372h0M779 372h0M815 372h0M881 372h0M768 374h0M806 375h0M816 374h0M744 375h0M841 377h0M844 377h0M862 376h0M767 381h0M820 381h0M829 382h0M841 381h0M851 382h0M798 385h0M803 386h0M853 385h0M761 390h0M848 392h0M758 394h0M850 394h0M873 393h0M815 396h0M883 395h0M795 397h0M808 402h0M847 402h0M861 402h0M888 401h0M781 404h0M889 405h0M892 403h0M863 409h0M848 410h0M872 410h0M867 413h0M873 415h0M808 419h0M845 418h0M855 417h0M785 419h0M819 423h0M780 423h0M867 424h0M780 425h0M833 427h0M844 426h0M845 425h0M846 428h0M848 432h0M812 434h0M842 434h0M851 434h0M869 433h0M817 436h0M827 436h0M847 436h0M858 435h0M863 437h0M772 443h0M796 443h0M846 444h0M851 447h0M864 447h0M796 449h0M822 450h0M825 449h0M754 451h0M824 452h0M815 454h0M800 457h0M758 463h0M821 469h0M797 472h0M817 472h0M840 474h0M795 478h0M821 485h0M827 485h0M794 487h0M806 492h0M791 498h0M794 502h0" stroke="#e0202e"/><path d="M843 165h0M804 170h0M848 186h0M866 185h0M805 192h0M865 194h0M846 197h0M824 201h0M831 200h0M784 203h0M795 204h0M856 207h0M838 208h0M783 215h0M848 222h0M786 224h0M801 227h0M815 226h0M774 227h0M889 239h0M901 238h0M838 242h0M889 242h0M893 244h0M896 243h0M898 244h0M898 246h0M763 247h0M882 248h0M795 250h0M882 250h0M845 251h0M809 255h0M855 260h0M893 262h0M851 265h0M876 266h0M879 266h0M817 270h0M817 271h0M877 272h0M774 274h0M793 275h0M834 274h0M775 278h0M856 282h0M886 281h0M839 284h0M867 283h0M828 288h0M781 291h0M810 292h0M818 291h0M889 293h0M797 298h0M913 303h0M797 303h0M848 304h0M832 305h0M847 305h0M897 312h0M768 313h0M831 313h0M784 317h0M805 317h0M841 318h0M812 324h0M834 325h0M856 324h0M908 325h0M767 333h0M820 336h0M791 338h0M834 339h0M801 344h0M859 349h0M758 352h0M845 352h0M863 351h0M884 352h0M905 354h0M818 356h0M865 355h0M785 361h0M802 361h0M865 362h0M867 363h0M880 363h0M900 366h0M871 367h0M808 370h0M827 371h0M761 371h0M794 371h0M847 377h0M879 379h0M858 383h0M846 385h0M849 386h0M781 388h0M885 388h0M888 389h0M805 389h0M830 389h0M773 397h0M786 397h0M815 401h0M786 402h0M819 404h0M880 406h0M822 410h0M835 411h0M842 411h0M836 416h0M858 422h0M829 426h0M787 428h0M869 430h0M823 434h0M833 434h0M841 434h0M860 437h0M860 448h0M837 460h0M832 464h0M831 472h0M803 483h0M818 491h0M796 498h0" stroke="#f08020"/><path d="M786 112h0M800 113h0M784 135h0M778 138h0M847 144h0M856 148h0M824 149h0M832 153h0M813 155h0M840 156h0M773 160h0M797 165h0M776 165h0M778 169h0M808 167h0M854 171h0M763 173h0M827 174h0M870 174h0M788 179h0M790 180h0M868 179h0M790 186h0M862 186h0M838 189h0M864 187h0M765 190h0M770 191h0M777 196h0M768 197h0M785 198h0M825 197h0M878 198h0M812 200h0M816 200h0M791 205h0M855 205h0M813 206h0M829 207h0M875 205h0M835 208h0M835 210h0M862 213h0M868 213h0M829 216h0M765 219h0M825 219h0M759 220h0M822 219h0M879 220h0M848 222h0M857 222h0M871 221h0M876 222h0M762 223h0M782 225h0M839 225h0M862 224h0M805 226h0M885 225h0M789 228h0M853 229h0M778 232h0M822 232h0M810 236h0M808 238h0M869 240h0M768 243h0M793 243h0M813 242h0M820 242h0M822 241h0M882 245h0M810 249h0M858 248h0M861 248h0M871 248h0M749 250h0M789 250h0M860 251h0M914 251h0M801 252h0M834 252h0M875 252h0M785 254h0M880 254h0M742 255h0M829 257h0M863 256h0M761 260h0M779 262h0M812 261h0M817 265h0M829 265h0M872 264h0M768 267h0M813 265h0M868 266h0M830 270h0M868 270h0M852 273h0M904 273h0M805 274h0M859 275h0M899 274h0M787 276h0M808 277h0M852 277h0M764 278h0M802 278h0M890 277h0M775 280h0M865 280h0M868 280h0M869 280h0M750 282h0M869 283h0M890 281h0M762 283h0M833 284h0M866 283h0M772 286h0M783 286h0M878 286h0M774 288h0M874 288h0M891 288h0M884 291h0M759 292h0M844 293h0M858 291h0M848 295h0M795 296h0M843 297h0M899 297h0M775 298h0M833 299h0M837 300h0M838 299h0M873 299h0M776 302h0M841 303h0M842 301h0M871 302h0M894 303h0M871 304h0M869 306h0M902 307h0M759 309h0M853 308h0M889 309h0M834 310h0M867 309h0M827 313h0M754 319h0M850 323h0M862 322h0M776 324h0M821 323h0M868 325h0M891 324h0M775 327h0M761 327h0M796 328h0M783 331h0M767 332h0M816 331h0M833 332h0M882 334h0M757 337h0M888 335h0M804 338h0M856 341h0M855 343h0M866 343h0M880 342h0M891 342h0M751 346h0M852 346h0M875 346h0M882 347h0M884 348h0M851 351h0M866 350h0M774 352h0M851 354h0M857 354h0M884 353h0M886 355h0M841 358h0M772 359h0M782 360h0M854 360h0M859 361h0M774 361h0M755 367h0M782 365h0M835 369h0M889 368h0M757 370h0M788 370h0M808 370h0M829 370h0M840 373h0M894 372h0M770 373h0M884 374h0M758 375h0M751 378h0M853 377h0M760 380h0M778 379h0M746 382h0M836 382h0M863 384h0M768 386h0M822 386h0M866 385h0M893 386h0M752 387h0M833 390h0M819 393h0M832 393h0M862 392h0M880 392h0M888 391h0M771 393h0M773 393h0M810 393h0M833 394h0M839 394h0M841 394h0M850 393h0M855 394h0M808 398h0M874 401h0M861 402h0M885 403h0M782 406h0M833 409h0M865 408h0M865 408h0M860 409h0M885 409h0M886 409h0M751 417h0M813 416h0M846 415h0M861 416h0M746 420h0M840 422h0M843 422h0M882 423h0M878 423h0M848 428h0M769 429h0M778 432h0M784 433h0M767 435h0M771 433h0M758 439h0M809 442h0M865 444h0M830 447h0M834 445h0M846 447h0M850 445h0M781 448h0M755 450h0M777 450h0M848 449h0M862 452h0M819 454h0M832 458h0M821 459h0M808 462h0M851 461h0M798 467h0M831 469h0M814 471h0M826 479h0M810 484h0M804 491h0" stroke="#eadf22"/><path d="M781 105h0M775 111h0M776 116h0M773 129h0M793 132h0M837 137h0M853 140h0M855 143h0M799 149h0M838 155h0M862 159h0M782 159h0M783 166h0M795 167h0M783 168h0M821 170h0M801 172h0M820 174h0M827 178h0M856 178h0M818 180h0M871 180h0M774 184h0M854 187h0M838 191h0M769 194h0M800 194h0M839 194h0M867 201h0M877 202h0M836 203h0M881 203h0M789 206h0M822 209h0M864 211h0M816 211h0M840 213h0M819 221h0M799 222h0M765 226h0M854 226h0M872 229h0M878 227h0M836 236h0M847 235h0M878 235h0M762 239h0M847 241h0M894 244h0M899 244h0M848 246h0M851 247h0M779 249h0M924 251h0M816 252h0M777 254h0M879 253h0M790 257h0M828 257h0M893 257h0M790 259h0M803 259h0M843 259h0M783 261h0M801 261h0M849 260h0M824 261h0M885 262h0M752 264h0M778 266h0M791 266h0M826 269h0M837 270h0M899 269h0M856 273h0M882 272h0M856 275h0M809 279h0M887 279h0M782 281h0M786 279h0M888 281h0M891 282h0M800 285h0M809 284h0M822 284h0M836 285h0M858 285h0M809 289h0M811 293h0M829 293h0M837 293h0M878 296h0M887 297h0M822 297h0M870 297h0M870 300h0M809 302h0M877 302h0M860 304h0M771 308h0M870 309h0M761 311h0M853 310h0M778 311h0M782 313h0M875 311h0M757 314h0M845 315h0M773 316h0M837 317h0M870 319h0M742 322h0M757 322h0M772 321h0M854 321h0M813 323h0M830 324h0M890 325h0M787 326h0M876 326h0M892 330h0M844 332h0M854 333h0M756 336h0M889 335h0M758 337h0M792 338h0M753 339h0M813 339h0M773 344h0M781 344h0M760 348h0M794 348h0M831 348h0M846 349h0M882 349h0M905 350h0M902 357h0M928 356h0M873 358h0M796 362h0M828 361h0M793 364h0M813 364h0M832 364h0M796 366h0M805 366h0M892 368h0M888 369h0M833 372h0M881 372h0M822 375h0M833 376h0M839 378h0M861 378h0M810 380h0M898 384h0M757 386h0M847 385h0M895 386h0M810 388h0M886 389h0M869 394h0M885 399h0M843 399h0M881 401h0M838 403h0M840 410h0M880 417h0M763 421h0M845 426h0M796 430h0M843 441h0M844 446h0M852 446h0M809 449h0M810 453h0M787 459h0M833 460h0M824 468h0M836 471h0M837 473h0M832 478h0M795 484h0M777 491h0M820 490h0M811 492h0" stroke="#a8d432"/><path d="M798 112h0M858 143h0M773 145h0M857 145h0M791 155h0M775 161h0M811 170h0M797 172h0M873 172h0M866 173h0M816 179h0M874 185h0M872 188h0M837 190h0M848 195h0M843 199h0M862 201h0M805 204h0M798 211h0M894 220h0M803 222h0M815 226h0M812 228h0M849 228h0M830 236h0M861 237h0M820 241h0M872 245h0M801 245h0M898 245h0M826 249h0M806 254h0M827 255h0M756 255h0M744 258h0M788 262h0M841 262h0M778 264h0M818 265h0M899 265h0M896 269h0M903 269h0M854 274h0M804 276h0M897 276h0M896 279h0M837 279h0M865 280h0M869 280h0M821 289h0M885 288h0M891 289h0M780 290h0M758 294h0M765 297h0M796 299h0M739 300h0M758 300h0M765 300h0M821 300h0M827 305h0M890 305h0M800 308h0M755 310h0M830 313h0M822 315h0M872 318h0M900 319h0M869 325h0M893 325h0M814 330h0M797 332h0M809 333h0M791 338h0M900 339h0M772 343h0M886 343h0M772 344h0M832 348h0M880 354h0M894 355h0M769 360h0M807 362h0M764 365h0M778 368h0M838 369h0M850 367h0M847 370h0M891 371h0M786 374h0M845 373h0M876 375h0M842 377h0M781 392h0M835 393h0M863 393h0M759 396h0M785 401h0M864 401h0M854 406h0M820 412h0M842 419h0M775 423h0M798 424h0M868 424h0M813 430h0M862 436h0M764 442h0M824 445h0M853 447h0M829 464h0M813 467h0M813 473h0M840 476h0M808 485h0M787 488h0M791 488h0M814 489h0M771 495h0M777 502h0" stroke="#4cb440"/><path d="M789 119h0M787 120h0M811 136h0M768 153h0M800 158h0M868 164h0M851 174h0M858 179h0M813 183h0M787 187h0M815 185h0M861 190h0M772 191h0M872 196h0M786 209h0M877 212h0M749 214h0M785 219h0M800 219h0M880 222h0M795 224h0M841 223h0M876 224h0M839 232h0M856 235h0M878 236h0M881 236h0M804 238h0M889 238h0M795 242h0M759 245h0M804 244h0M831 248h0M867 249h0M896 252h0M792 254h0M796 255h0M824 254h0M851 256h0M793 259h0M793 261h0M841 260h0M899 261h0M795 265h0M833 265h0M866 264h0M810 266h0M831 265h0M756 268h0M900 268h0M822 271h0M842 271h0M867 273h0M882 273h0M852 275h0M757 276h0M888 276h0M839 279h0M835 284h0M901 285h0M755 285h0M830 287h0M857 286h0M869 286h0M787 290h0M820 293h0M827 291h0M758 295h0M907 298h0M912 298h0M899 299h0M824 304h0M865 303h0M883 303h0M887 304h0M815 308h0M818 309h0M805 312h0M788 314h0M805 314h0M866 313h0M891 316h0M822 323h0M822 325h0M865 336h0M872 336h0M755 337h0M795 340h0M876 344h0M856 352h0M887 354h0M874 356h0M894 355h0M879 359h0M850 362h0M893 362h0M800 368h0M800 370h0M818 369h0M831 369h0M811 372h0M833 374h0M898 374h0M902 379h0M792 386h0M870 388h0M842 390h0M883 390h0M786 400h0M858 402h0M859 413h0M810 418h0M875 420h0M831 428h0M846 427h0M874 430h0M829 441h0M841 443h0M825 443h0M854 444h0M864 445h0M808 453h0M843 456h0M833 468h0M825 473h0M782 477h0M824 481h0M805 492h0M802 502h0" stroke="#3a44c0"/><path d="M783 107h0M791 106h0M773 120h0M771 123h0M777 129h0M788 136h0M779 144h0M862 151h0M767 156h0M833 156h0M853 157h0M862 164h0M787 166h0M806 166h0M846 170h0M817 176h0M792 181h0M869 181h0M824 182h0M874 186h0M786 190h0M820 190h0M852 192h0M764 205h0M840 206h0M882 206h0M774 213h0M831 214h0M809 217h0M836 222h0M848 222h0M852 224h0M771 227h0M765 229h0M810 229h0M828 230h0M869 233h0M887 232h0M795 233h0M807 235h0M876 239h0M803 243h0M875 243h0M853 246h0M889 245h0M811 249h0M878 249h0M777 258h0M775 263h0M820 262h0M896 269h0M795 270h0M845 270h0M891 270h0M901 274h0M901 274h0M767 275h0M778 279h0M823 281h0M906 282h0M892 285h0M759 286h0M892 287h0M904 286h0M779 287h0M806 287h0M862 288h0M785 297h0M814 296h0M780 298h0M851 297h0M816 303h0M811 304h0M830 304h0M876 305h0M795 305h0M881 307h0M921 305h0M760 311h0M763 311h0M844 312h0M780 314h0M890 314h0M888 316h0M848 317h0M771 320h0M824 320h0M838 324h0M885 325h0M812 331h0M789 336h0M795 337h0M798 339h0M850 337h0M755 341h0M830 341h0M839 340h0M907 340h0M908 340h0M760 346h0M836 350h0M844 358h0M845 362h0M865 361h0M807 363h0M892 363h0M786 369h0M785 370h0M789 370h0M807 371h0M886 372h0M768 373h0M779 378h0M865 378h0M852 382h0M755 384h0M785 384h0M816 389h0M795 393h0M827 391h0M839 393h0M819 396h0M747 399h0M805 398h0M823 399h0M874 399h0M837 402h0M772 405h0M888 413h0M857 416h0M882 419h0M810 420h0M843 425h0M860 432h0M820 454h0M828 457h0M843 458h0M836 459h0M828 463h0M762 470h0M816 482h0M812 485h0" stroke="#6a2cb0"/><path d="M790 114h0M790 113h0M791 116h0M783 135h0M779 138h0M850 141h0M795 165h0M782 171h0M869 170h0M810 172h0M825 174h0M772 181h0M796 188h0M859 193h0M842 197h0M875 203h0M807 207h0M816 208h0M803 210h0M841 211h0M858 213h0M864 212h0M855 215h0M891 215h0M822 224h0M836 227h0M895 226h0M839 229h0M874 239h0M787 241h0M848 245h0M782 249h0M880 248h0M868 250h0M899 256h0M858 260h0M880 262h0M883 265h0M880 271h0M856 273h0M879 274h0M902 275h0M880 277h0M807 283h0M834 281h0M879 283h0M781 286h0M851 287h0M873 294h0M742 297h0M830 296h0M869 296h0M897 296h0M770 298h0M822 298h0M821 301h0M834 303h0M782 303h0M779 311h0M841 310h0M782 315h0M845 316h0M784 318h0M831 323h0M904 322h0M813 323h0M824 328h0M905 327h0M801 330h0M807 331h0M881 334h0M787 352h0M771 356h0M854 356h0M902 357h0M768 359h0M779 368h0M786 370h0M815 371h0M864 372h0M819 375h0M767 376h0M889 375h0M786 378h0M812 378h0M776 382h0M858 383h0M787 391h0M857 389h0M759 391h0M807 398h0M862 402h0M817 404h0M870 407h0M840 413h0M830 419h0M836 446h0M778 450h0M842 453h0M855 457h0M807 467h0M835 468h0M801 496h0" stroke="#c22080"/><path d="M778 139h0M770 144h0M838 145h0M771 149h0M831 153h0M836 156h0M846 160h0M866 161h0M866 161h0M838 162h0M843 162h0M779 165h0M852 167h0M764 167h0M854 167h0M862 167h0M841 172h0M867 174h0M797 182h0M809 183h0M851 181h0M869 182h0M828 186h0M875 186h0M877 186h0M797 190h0M811 190h0M820 191h0M842 191h0M868 193h0M794 194h0M834 194h0M805 196h0M763 199h0M869 199h0M851 201h0M785 205h0M855 204h0M765 207h0M787 207h0M830 207h0M868 206h0M884 210h0M798 212h0M829 212h0M848 213h0M877 218h0M783 219h0M845 220h0M847 220h0M746 222h0M827 223h0M869 225h0M761 226h0M853 226h0M894 225h0M809 229h0M844 231h0M790 231h0M837 232h0M892 235h0M803 237h0M898 235h0M837 238h0M838 238h0M861 240h0M825 241h0M787 244h0M887 244h0M839 246h0M881 246h0M888 246h0M891 246h0M792 247h0M864 248h0M787 251h0M788 249h0M877 251h0M758 253h0M752 257h0M812 255h0M856 256h0M764 257h0M876 259h0M779 259h0M781 261h0M817 259h0M875 260h0M811 262h0M817 263h0M902 271h0M897 271h0M923 272h0M778 274h0M835 274h0M862 273h0M882 275h0M804 280h0M856 280h0M905 279h0M799 282h0M805 282h0M820 281h0M831 283h0M874 282h0M787 283h0M902 285h0M872 290h0M835 294h0M845 294h0M849 294h0M862 293h0M850 296h0M869 297h0M830 299h0M897 299h0M764 300h0M784 299h0M856 300h0M867 300h0M829 302h0M843 303h0M881 302h0M890 302h0M922 304h0M886 305h0M770 309h0M825 310h0M767 312h0M854 311h0M901 313h0M781 314h0M828 314h0M769 316h0M879 316h0M750 317h0M782 317h0M857 318h0M855 321h0M910 319h0M880 322h0M840 324h0M845 325h0M778 328h0M792 329h0M881 331h0M773 331h0M775 334h0M753 336h0M878 336h0M775 338h0M850 338h0M889 337h0M906 337h0M768 342h0M791 341h0M881 342h0M777 344h0M835 344h0M889 344h0M844 346h0M902 346h0M804 349h0M844 348h0M817 351h0M761 353h0M770 354h0M775 353h0M891 355h0M798 355h0M821 357h0M820 358h0M865 358h0M796 359h0M841 360h0M755 363h0M772 361h0M849 362h0M881 363h0M831 364h0M744 367h0M774 368h0M812 369h0M876 368h0M882 367h0M888 368h0M890 369h0M839 370h0M812 375h0M773 378h0M793 377h0M816 379h0M824 378h0M847 377h0M782 382h0M810 383h0M828 383h0M783 384h0M867 384h0M796 388h0M840 389h0M829 391h0M838 390h0M862 389h0M775 392h0M873 392h0M877 392h0M831 394h0M845 395h0M848 394h0M886 398h0M803 402h0M809 403h0M835 405h0M865 405h0M880 405h0M882 412h0M882 414h0M843 417h0M841 418h0M852 418h0M875 418h0M859 419h0M819 421h0M820 423h0M841 426h0M851 428h0M850 431h0M845 434h0M823 437h0M779 439h0M797 444h0M858 450h0M824 453h0M832 453h0M823 457h0M830 455h0M821 458h0M845 461h0M831 462h0M854 461h0M831 466h0M824 468h0M809 473h0M832 473h0M833 475h0M829 476h0M782 478h0M789 481h0M810 483h0M828 487h0M774 489h0" stroke="#e0202e"/><path d="M857 146h0M861 149h0M850 152h0M844 157h0M832 158h0M812 168h0M799 171h0M834 171h0M799 183h0M829 183h0M805 183h0M867 184h0M849 188h0M842 190h0M821 191h0M836 193h0M856 196h0M863 199h0M812 200h0M847 199h0M872 203h0M875 204h0M810 205h0M838 205h0M749 210h0M821 210h0M785 214h0M785 215h0M788 217h0M815 236h0M849 237h0M889 236h0M782 240h0M829 242h0M859 241h0M850 243h0M893 247h0M746 250h0M779 254h0M876 254h0M895 263h0M817 268h0M742 273h0M806 272h0M809 272h0M834 272h0M876 273h0M797 274h0M807 274h0M845 277h0M894 282h0M776 286h0M866 286h0M892 289h0M784 289h0M856 297h0M870 305h0M755 310h0M873 311h0M860 314h0M852 318h0M743 326h0M770 330h0M810 329h0M902 331h0M815 337h0M900 336h0M887 339h0M757 341h0M854 341h0M837 344h0M824 351h0M922 354h0M764 358h0M794 359h0M773 362h0M792 363h0M767 369h0M802 371h0M897 371h0M830 372h0M880 372h0M759 375h0M781 374h0M775 377h0M822 380h0M789 385h0M820 387h0M854 388h0M859 388h0M893 390h0M887 393h0M830 397h0M847 397h0M861 396h0M832 398h0M861 400h0M830 403h0M846 406h0M786 409h0M839 409h0M848 412h0M846 417h0M857 417h0M850 427h0M867 429h0M834 434h0M833 440h0M861 444h0M850 452h0M799 455h0M815 456h0M789 457h0M808 481h0M819 487h0" stroke="#f08020"/><path d="M792 105h0M796 108h0M777 127h0M788 131h0M814 137h0M851 147h0M797 150h0M833 151h0M769 151h0M835 152h0M857 157h0M796 158h0M842 160h0M867 163h0M822 164h0M803 166h0M801 168h0M787 171h0M857 171h0M816 173h0M789 175h0M813 178h0M831 178h0M844 178h0M771 181h0M792 182h0M808 182h0M826 183h0M853 181h0M818 185h0M871 184h0M860 186h0M802 188h0M817 189h0M863 191h0M805 192h0M810 191h0M819 193h0M786 197h0M789 196h0M817 196h0M861 196h0M764 201h0M764 200h0M810 201h0M871 202h0M767 203h0M833 204h0M884 204h0M765 206h0M844 207h0M844 207h0M885 207h0M806 208h0M843 208h0M785 213h0M811 212h0M843 214h0M884 216h0M885 216h0M847 218h0M894 219h0M775 220h0M807 219h0M855 219h0M870 220h0M765 225h0M816 224h0M843 224h0M784 234h0M789 233h0M826 234h0M897 233h0M831 237h0M833 236h0M793 237h0M889 237h0M826 240h0M795 243h0M800 243h0M831 243h0M901 242h0M816 247h0M827 247h0M831 247h0M881 246h0M892 245h0M829 247h0M887 248h0M900 247h0M757 250h0M781 251h0M783 249h0M843 250h0M885 250h0M782 252h0M836 253h0M902 252h0M798 254h0M897 253h0M804 255h0M827 256h0M867 257h0M815 261h0M824 262h0M852 261h0M787 264h0M814 264h0M812 267h0M864 268h0M870 268h0M812 271h0M880 271h0M813 273h0M832 273h0M904 276h0M769 278h0M841 278h0M875 278h0M885 278h0M817 279h0M854 279h0M861 279h0M799 282h0M845 284h0M849 283h0M754 290h0M869 290h0M907 293h0M818 295h0M884 293h0M778 297h0M780 295h0M838 297h0M806 298h0M901 299h0M908 298h0M793 301h0M802 300h0M849 301h0M878 301h0M897 299h0M759 302h0M826 302h0M888 303h0M789 304h0M894 304h0M852 306h0M879 306h0M866 308h0M895 308h0M897 312h0M851 313h0M804 315h0M870 316h0M744 317h0M813 318h0M854 318h0M854 318h0M857 318h0M876 317h0M801 320h0M835 321h0M864 320h0M895 320h0M744 323h0M777 322h0M800 321h0M803 327h0M764 329h0M789 328h0M842 328h0M847 328h0M872 328h0M896 329h0M801 330h0M812 330h0M833 329h0M876 330h0M886 331h0M754 332h0M764 333h0M774 334h0M820 335h0M845 333h0M902 334h0M850 336h0M746 338h0M778 338h0M807 338h0M893 339h0M756 340h0M864 340h0M890 341h0M757 341h0M842 342h0M821 344h0M826 344h0M845 345h0M858 344h0M878 344h0M890 345h0M758 346h0M834 345h0M824 348h0M842 347h0M857 349h0M870 348h0M823 351h0M798 353h0M832 352h0M847 351h0M865 351h0M834 354h0M904 356h0M769 357h0M797 363h0M848 362h0M848 364h0M857 366h0M866 365h0M742 369h0M766 368h0M768 368h0M770 368h0M790 368h0M828 368h0M830 367h0M763 371h0M752 375h0M756 375h0M901 374h0M902 374h0M775 376h0M817 376h0M894 377h0M755 378h0M902 378h0M742 380h0M755 380h0M802 381h0M839 381h0M744 381h0M806 381h0M838 383h0M874 383h0M805 383h0M830 384h0M836 385h0M781 386h0M874 389h0M912 389h0M844 392h0M887 394h0M756 397h0M759 397h0M819 396h0M887 400h0M810 402h0M819 402h0M797 405h0M812 404h0M860 403h0M845 408h0M756 413h0M810 413h0M836 412h0M852 412h0M793 414h0M879 414h0M822 418h0M835 418h0M877 417h0M782 420h0M828 421h0M855 419h0M825 421h0M867 423h0M875 424h0M844 426h0M836 430h0M805 433h0M840 434h0M836 437h0M850 436h0M850 437h0M862 435h0M865 436h0M794 438h0M842 438h0M860 438h0M838 444h0M821 447h0M841 446h0M829 451h0M852 450h0M832 452h0M811 454h0M835 456h0M812 461h0M839 459h0M846 461h0M851 463h0M784 463h0M828 468h0M821 474h0M837 474h0M807 477h0M827 481h0M826 485h0M809 491h0" stroke="#eadf22"/><path d="M781 114h0M805 127h0M787 138h0M806 157h0M821 163h0M775 164h0M834 169h0M819 173h0M823 174h0M826 177h0M844 178h0M869 181h0M847 182h0M788 184h0M800 184h0M849 184h0M869 185h0M808 187h0M842 190h0M858 194h0M792 196h0M803 201h0M817 201h0M819 204h0M824 204h0M809 209h0M829 208h0M834 210h0M834 210h0M809 215h0M783 219h0M870 221h0M760 223h0M831 223h0M855 222h0M895 221h0M772 225h0M840 224h0M884 227h0M821 228h0M846 228h0M817 233h0M833 233h0M833 232h0M855 231h0M760 234h0M804 233h0M809 234h0M778 235h0M790 236h0M828 235h0M889 236h0M888 237h0M785 244h0M810 245h0M898 244h0M812 246h0M850 245h0M748 251h0M812 250h0M771 252h0M859 255h0M882 255h0M867 256h0M818 258h0M861 259h0M758 260h0M817 260h0M794 263h0M806 264h0M871 264h0M893 263h0M901 267h0M822 267h0M902 268h0M756 272h0M772 272h0M872 272h0M878 271h0M874 273h0M865 276h0M782 277h0M903 279h0M748 280h0M858 281h0M776 287h0M879 286h0M806 289h0M771 290h0M874 290h0M807 292h0M845 292h0M862 292h0M895 293h0M823 295h0M836 296h0M824 298h0M891 297h0M927 297h0M899 300h0M878 302h0M835 303h0M750 305h0M758 306h0M810 306h0M760 307h0M857 309h0M892 309h0M763 312h0M868 313h0M823 315h0M892 313h0M881 318h0M833 321h0M806 321h0M891 323h0M884 323h0M792 325h0M875 326h0M795 328h0M875 332h0M890 336h0M762 338h0M806 338h0M899 338h0M852 340h0M890 343h0M744 347h0M799 347h0M846 346h0M900 346h0M778 348h0M866 348h0M878 349h0M742 350h0M887 350h0M805 352h0M830 354h0M755 357h0M771 359h0M829 360h0M880 359h0M808 362h0M819 362h0M820 362h0M840 362h0M846 362h0M780 364h0M814 367h0M756 369h0M793 369h0M885 371h0M776 374h0M879 373h0M868 381h0M744 383h0M742 384h0M775 384h0M759 385h0M791 386h0M828 385h0M860 385h0M878 388h0M842 399h0M849 401h0M826 403h0M811 404h0M815 405h0M784 408h0M842 407h0M890 407h0M808 417h0M836 416h0M835 419h0M851 420h0M857 422h0M749 425h0M785 430h0M758 433h0M784 433h0M824 432h0M751 435h0M807 436h0M853 435h0M761 437h0M754 443h0M817 444h0M785 448h0M853 448h0M827 450h0M778 455h0M837 462h0M848 461h0M768 466h0M831 472h0M842 472h0M818 478h0M830 482h0M826 485h0M818 487h0" stroke="#a8d432"/><path d="M850 141h0M847 144h0M848 148h0M797 151h0M775 159h0M764 170h0M851 170h0M828 177h0M788 181h0M843 190h0M876 190h0M847 196h0M866 198h0M834 202h0M873 208h0M805 213h0M857 212h0M831 213h0M830 217h0M869 216h0M881 222h0M882 224h0M789 229h0M801 232h0M784 237h0M836 239h0M873 247h0M790 251h0M869 252h0M783 255h0M848 253h0M853 256h0M854 268h0M744 271h0M809 276h0M876 278h0M850 284h0M768 286h0M844 286h0M845 287h0M846 286h0M802 292h0M813 292h0M769 293h0M902 294h0M858 297h0M889 295h0M843 305h0M830 306h0M776 309h0M847 309h0M907 315h0M888 319h0M901 317h0M904 319h0M779 321h0M833 322h0M863 322h0M814 323h0M882 327h0M797 333h0M889 334h0M765 338h0M903 339h0M867 339h0M761 344h0M885 345h0M884 348h0M896 348h0M834 353h0M809 355h0M871 353h0M899 356h0M771 361h0M791 362h0M894 362h0M750 365h0M809 369h0M883 369h0M855 370h0M855 371h0M787 373h0M884 373h0M791 378h0M898 377h0M782 381h0M821 384h0M860 383h0M861 386h0M761 389h0M840 391h0M850 398h0M855 402h0M841 409h0M864 410h0M845 413h0M839 413h0M879 414h0M851 420h0M794 421h0M855 432h0M795 439h0M864 442h0M837 448h0M810 458h0M839 463h0M810 475h0M835 477h0" stroke="#4cb440"/><path d="M771 134h0M854 144h0M830 157h0M850 156h0M769 158h0M776 162h0M824 168h0M861 175h0M843 181h0M862 182h0M800 189h0M836 190h0M843 194h0M813 196h0M796 199h0M851 200h0M841 201h0M808 206h0M779 209h0M759 210h0M788 210h0M798 210h0M803 212h0M867 213h0M766 217h0M889 216h0M796 224h0M774 230h0M745 245h0M798 244h0M828 244h0M783 246h0M895 248h0M791 256h0M833 257h0M852 260h0M888 264h0M864 269h0M872 267h0M740 270h0M746 271h0M792 271h0M868 270h0M821 274h0M787 278h0M831 279h0M925 284h0M842 286h0M881 286h0M808 291h0M745 293h0M744 295h0M805 297h0M829 298h0M799 303h0M849 302h0M886 302h0M845 305h0M869 303h0M832 308h0M844 320h0M812 321h0M781 324h0M817 329h0M835 328h0M887 328h0M821 331h0M873 337h0M893 344h0M821 351h0M881 350h0M874 357h0M802 359h0M812 360h0M878 360h0M776 362h0M754 364h0M866 364h0M760 367h0M786 366h0M812 366h0M845 366h0M844 367h0M757 372h0M857 372h0M862 373h0M883 374h0M827 378h0M768 388h0M836 388h0M868 394h0M836 401h0M837 400h0M842 400h0M802 412h0M884 411h0M824 414h0M750 417h0M840 424h0M832 429h0M774 437h0M778 442h0M780 446h0M756 455h0" stroke="#3a44c0"/><path d="M794 106h0M773 127h0M782 125h0M776 128h0M814 141h0M843 140h0M855 142h0M770 145h0M843 145h0M839 155h0M781 162h0M835 163h0M815 167h0M866 166h0M779 168h0M776 171h0M858 170h0M799 172h0M848 172h0M862 173h0M800 176h0M772 178h0M874 178h0M860 179h0M782 192h0M816 193h0M861 193h0M805 194h0M806 194h0M829 193h0M842 195h0M844 193h0M786 196h0M791 199h0M814 200h0M869 200h0M870 202h0M881 205h0M819 207h0M833 206h0M888 206h0M760 208h0M772 208h0M821 208h0M885 208h0M832 213h0M877 215h0M762 217h0M778 216h0M827 215h0M842 216h0M836 222h0M881 225h0M817 233h0M858 235h0M798 238h0M813 238h0M819 239h0M850 238h0M751 243h0M822 241h0M897 245h0M895 246h0M760 248h0M851 248h0M798 250h0M773 252h0M858 255h0M781 263h0M786 262h0M843 262h0M847 265h0M849 263h0M865 271h0M755 272h0M787 275h0M906 274h0M784 277h0M799 276h0M812 277h0M888 280h0M900 280h0M830 283h0M858 284h0M758 286h0M772 286h0M791 286h0M795 292h0M869 296h0M766 301h0M843 300h0M788 301h0M888 305h0M805 308h0M844 308h0M859 308h0M862 309h0M863 309h0M881 307h0M750 311h0M903 310h0M752 313h0M819 313h0M806 322h0M872 321h0M783 325h0M837 325h0M867 326h0M863 330h0M878 330h0M810 334h0M900 333h0M903 341h0M802 343h0M848 342h0M772 344h0M908 347h0M813 350h0M819 350h0M821 352h0M848 352h0M789 355h0M870 354h0M755 356h0M763 356h0M770 356h0M866 358h0M872 357h0M850 359h0M776 361h0M782 362h0M853 361h0M798 366h0M754 367h0M768 369h0M779 368h0M875 371h0M898 371h0M901 370h0M809 373h0M867 376h0M745 377h0M756 382h0M813 383h0M905 385h0M823 385h0M852 386h0M862 390h0M857 398h0M846 402h0M884 403h0M844 403h0M834 406h0M858 407h0M880 406h0M819 409h0M764 415h0M838 416h0M881 421h0M843 421h0M848 425h0M811 425h0M848 427h0M845 427h0M778 435h0M841 437h0M844 442h0M808 448h0M852 448h0M777 452h0M786 457h0M799 459h0M816 468h0M817 468h0M802 490h0M815 491h0M817 494h0M778 503h0" stroke="#6a2cb0"/><path d="M784 105h0M799 110h0M797 112h0M778 117h0M787 136h0M843 144h0M855 150h0M831 160h0M861 159h0M778 163h0M817 169h0M763 170h0M777 171h0M805 170h0M827 170h0M811 174h0M793 179h0M825 179h0M788 188h0M875 189h0M826 191h0M877 195h0M839 196h0M842 196h0M791 197h0M852 198h0M840 200h0M864 200h0M802 210h0M829 211h0M815 230h0M825 229h0M861 235h0M859 238h0M792 240h0M862 240h0M877 243h0M796 245h0M865 244h0M871 245h0M861 250h0M801 259h0M757 264h0M866 263h0M822 266h0M871 274h0M858 275h0M870 277h0M753 278h0M856 281h0M879 281h0M884 282h0M776 284h0M755 286h0M865 290h0M797 292h0M827 291h0M858 292h0M894 294h0M785 295h0M741 299h0M867 298h0M803 301h0M745 304h0M818 305h0M840 305h0M750 309h0M819 316h0M764 318h0M788 318h0M785 321h0M846 321h0M764 324h0M896 324h0M903 326h0M827 334h0M877 337h0M857 341h0M881 344h0M827 346h0M819 352h0M831 352h0M831 354h0M758 355h0M761 356h0M773 357h0M809 356h0M811 356h0M832 360h0M783 363h0M757 366h0M848 370h0M788 373h0M788 384h0M824 384h0M898 384h0M798 386h0M893 387h0M776 389h0M830 389h0M785 396h0M868 397h0M852 409h0M810 413h0M839 422h0M747 425h0M849 429h0M861 430h0M844 431h0M827 436h0M832 440h0M763 443h0M864 443h0M840 447h0M846 454h0M858 458h0M829 464h0M771 466h0M803 466h0M836 472h0M812 485h0M796 508h0" stroke="#c22080"/></g><g fill="none" stroke-width="3.8" stroke-linecap="round" transform="scale(0.5)" filter="url(#bl)"><path d="M837 296h0M831 299h0M831 301h0M842 302h0M844 303h0M844 306h0M844 307h0M846 308h0M835 309h0M836 313h0M842 313h0" stroke="#ecd81c"/><path d="M830 295h0M830 296h0M835 297h0M828 298h0M829 299h0M830 298h0M837 297h0M843 301h0M829 305h0M844 306h0M844 312h0M841 313h0" stroke="#ecd81c"/><path d="M830 295h0M841 302h0M832 305h0M833 309h0M845 308h0M833 309h0M835 310h0M838 310h0M843 311h0M844 310h0M836 311h0M841 312h0" stroke="#ecd81c"/><path d="M834 294h0M837 296h0M842 299h0M833 306h0M844 307h0M834 311h0M843 310h0M837 312h0M844 312h0M845 312h0M844 314h0" stroke="#ecd81c"/><path d="M833 293h0M833 295h0M830 298h0M841 299h0M829 301h0M831 304h0M844 304h0M830 307h0M846 309h0M838 313h0M841 315h0M844 313h0" stroke="#ecd81c"/><path d="M829 296h0M830 295h0M832 296h0M830 304h0M845 306h0M832 307h0M835 308h0M845 307h0M834 309h0M840 312h0M841 313h0M840 313h0" stroke="#ecd81c"/></g><g fill="none" stroke-width="3.2" stroke-linecap="round" transform="scale(0.5)" filter="url(#bl)"><path d="M836 304h0" stroke="#c8202a"/><path d="M837 304h0" stroke="#6a2cb0"/><path d="M838 302h0" stroke="#c8202a"/><path d="M836 306h0" stroke="#6a2cb0"/><path d="M838 303h0" stroke="#c8202a"/></g><g filter="url(#lb)"><rect x="365.0" y="14.5" width="105.8" height="281.8" fill="none" stroke="#2a2a2a" stroke-width="1.05"/><path d="M386.6,14.5v2.5M386.6,296.3v-2.5" stroke="#555" stroke-width="0.8"/><path d="M409.5,14.5v2.5M409.5,296.3v-2.5" stroke="#555" stroke-width="0.8"/><path d="M431.8,14.5v2.5M431.8,296.3v-2.5" stroke="#555" stroke-width="0.8"/><path d="M454.9,14.5v2.5M454.9,296.3v-2.5" stroke="#555" stroke-width="0.8"/><path d="M365.0,84.8h2.5M470.8,84.8h-2.5" stroke="#555" stroke-width="0.8"/><path d="M365.0,155.0h2.5M470.8,155.0h-2.5" stroke="#555" stroke-width="0.8"/><path d="M365.0,225.5h2.5M470.8,225.5h-2.5" stroke="#555" stroke-width="0.8"/><path d="M417.9,14.5L417.9,30.6L407.1,30.6L399.1,49.0L400.0,51.5L405.5,55.5L411.5,59.2L422.9,66.9L434.1,77.0L445.4,89.3L454.3,101.7L459.9,112.0L464.3,120.5L467.5,131.0L469.0,142.0L469.2,152.0L468.3,165.0L466.7,178.0L463.3,191.2L457.7,202.4L449.8,213.6L439.8,224.9L427.4,236.1L414.0,247.3L408.4,252.0L401.5,256.5L399.1,259.5L399.8,262.0L407.7,279.3L418.1,279.3L418.1,296.5" fill="none" stroke="#000" stroke-width="1.9" stroke-linejoin="round"/><path d="M414.8,14.5L383.9,51.2L366.7,46.7L382.1,58.0L381.7,60.0L376.5,75.0L372.0,90.0L367.5,105.0L365.8,113.0L365.3,125.0L365.3,185.0L365.8,197.0L367.5,205.0L372.0,220.0L376.5,235.0L381.7,250.0L382.1,252.6L366.7,263.2L384.0,257.8L415.9,296.5" fill="none" stroke="#000" stroke-width="1.9" stroke-linejoin="round"/></g><g font-family="Liberation Sans" fill="#000" stroke="#000" stroke-width="0.3" filter="url(#tb)"><text transform="translate(370.51,9.90) scale(1.135,1)" font-family="Liberation Sans" font-size="12.8">time</text><text transform="translate(401.89,9.90) scale(1.270,1)" font-family="Liberation Sans" font-size="12.8">=</text><text transform="translate(416.00,9.90) scale(1.076,1)" font-family="Liberation Sans" font-size="12.8">1.20</text><text transform="translate(446.56,9.90) scale(1.054,1)" font-family="Liberation Sans" font-size="12.8">ms</text><text transform="translate(370.24,32.60) scale(1.073,1)" font-family="Liberation Serif" font-size="17.7">c)</text><text transform="translate(344.49,17.20) scale(1.130,1)" font-family="Liberation Sans" font-size="10.1">1.6</text><text transform="translate(345.16,87.60) scale(1.096,1)" font-family="Liberation Sans" font-size="10.1">0.8</text><text transform="translate(344.86,158.30) scale(1.096,1)" font-family="Liberation Sans" font-size="10.1">0.0</text><text transform="translate(336.80,228.70) scale(1.185,1)" font-family="Liberation Sans" font-size="10.1">−0.8</text><text transform="translate(336.81,299.40) scale(1.174,1)" font-family="Liberation Sans" font-size="10.1">−1.6</text><text transform="translate(339.59,128.30) scale(0.973,1)" font-family="Liberation Sans" font-size="10.6">Z[m]</text><text transform="translate(375.77,307.20) scale(1.114,1)" font-family="Liberation Sans" font-size="10.4">1.50</text><text transform="translate(398.64,307.20) scale(1.036,1)" font-family="Liberation Sans" font-size="10.4">1.75</text><text transform="translate(420.76,307.20) scale(1.039,1)" font-family="Liberation Sans" font-size="10.4">2.00</text><text transform="translate(442.44,307.20) scale(1.071,1)" font-family="Liberation Sans" font-size="10.4">2.25</text><text transform="translate(404.02,318.70) scale(1.005,1)" font-family="Liberation Sans" font-size="9.7">R[m]</text></g>
</svg>
</body></html>
